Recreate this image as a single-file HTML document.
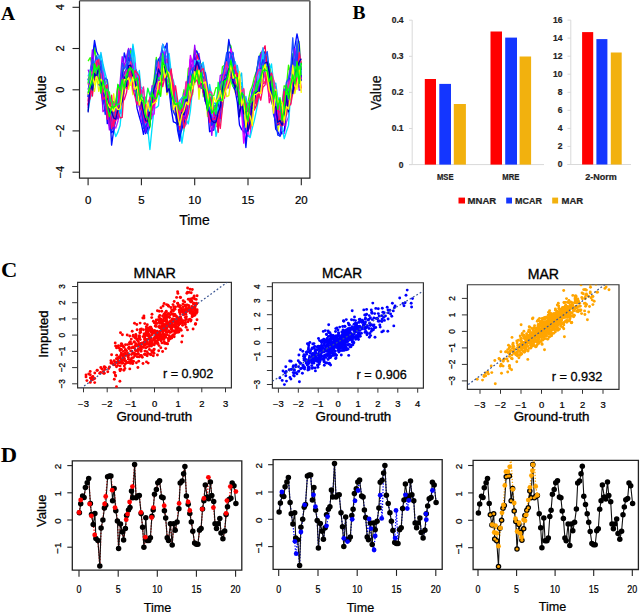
<!DOCTYPE html>
<html><head><meta charset="utf-8"><style>html,body{margin:0;padding:0;background:#fff;width:640px;height:613px;overflow:hidden}svg{display:block}</style></head>
<body><svg width="640" height="613" viewBox="0 0 640 613">
<rect width="640" height="613" fill="#fff"/>
<text x="1.0" y="19.6" font-family="Liberation Serif" font-size="19.5" font-weight="bold" text-anchor="start" fill="#000">A</text>
<text x="352.5" y="18.6" font-family="Liberation Serif" font-size="19.5" font-weight="bold" text-anchor="start" fill="#000">B</text>
<g transform="translate(1.0 276.9) scale(1.1 1)"><text x="0.0" y="0.0" font-family="Liberation Serif" font-size="20.5" font-weight="bold" text-anchor="start" fill="#000">C</text></g>
<g transform="translate(0.8 461.7) scale(1.1 1)"><text x="0.0" y="0.0" font-family="Liberation Serif" font-size="20.5" font-weight="bold" text-anchor="start" fill="#000">D</text></g>
<path d="M309.9 0.8V178.2H79.5V0.8" fill="none" stroke="#222" stroke-width="1.2"/>
<path d="M79.5 0.7H309.9" fill="none" stroke="#666" stroke-width="1.4"/>
<path d="M72.5 7.3H79.5" stroke="#222" stroke-width="1.1"/>
<text x="64.0" y="7.3" font-family="Liberation Sans" font-size="11" font-weight="normal" text-anchor="middle" fill="#000" transform="rotate(-90 64.0 7.3)" stroke="#000" stroke-width="0.22">4</text>
<path d="M72.5 48.5H79.5" stroke="#222" stroke-width="1.1"/>
<text x="64.0" y="48.5" font-family="Liberation Sans" font-size="11" font-weight="normal" text-anchor="middle" fill="#000" transform="rotate(-90 64.0 48.5)" stroke="#000" stroke-width="0.22">2</text>
<path d="M72.5 89.8H79.5" stroke="#222" stroke-width="1.1"/>
<text x="64.0" y="89.8" font-family="Liberation Sans" font-size="11" font-weight="normal" text-anchor="middle" fill="#000" transform="rotate(-90 64.0 89.8)" stroke="#000" stroke-width="0.22">0</text>
<path d="M72.5 130.9H79.5" stroke="#222" stroke-width="1.1"/>
<text x="64.0" y="130.9" font-family="Liberation Sans" font-size="11" font-weight="normal" text-anchor="middle" fill="#000" transform="rotate(-90 64.0 130.9)" stroke="#000" stroke-width="0.22">&#8722;2</text>
<path d="M72.5 172.2H79.5" stroke="#222" stroke-width="1.1"/>
<text x="64.0" y="172.2" font-family="Liberation Sans" font-size="11" font-weight="normal" text-anchor="middle" fill="#000" transform="rotate(-90 64.0 172.2)" stroke="#000" stroke-width="0.22">&#8722;4</text>
<path d="M88.1 178.2V185.2" stroke="#222" stroke-width="1.1"/>
<text x="88.1" y="203.8" font-family="Liberation Sans" font-size="11.5" font-weight="normal" text-anchor="middle" fill="#000" stroke="#000" stroke-width="0.22">0</text>
<path d="M141.4 178.2V185.2" stroke="#222" stroke-width="1.1"/>
<text x="141.4" y="203.8" font-family="Liberation Sans" font-size="11.5" font-weight="normal" text-anchor="middle" fill="#000" stroke="#000" stroke-width="0.22">5</text>
<path d="M194.7 178.2V185.2" stroke="#222" stroke-width="1.1"/>
<text x="194.7" y="203.8" font-family="Liberation Sans" font-size="11.5" font-weight="normal" text-anchor="middle" fill="#000" stroke="#000" stroke-width="0.22">10</text>
<path d="M248.0 178.2V185.2" stroke="#222" stroke-width="1.1"/>
<text x="248.0" y="203.8" font-family="Liberation Sans" font-size="11.5" font-weight="normal" text-anchor="middle" fill="#000" stroke="#000" stroke-width="0.22">15</text>
<path d="M301.3 178.2V185.2" stroke="#222" stroke-width="1.1"/>
<text x="301.3" y="203.8" font-family="Liberation Sans" font-size="11.5" font-weight="normal" text-anchor="middle" fill="#000" stroke="#000" stroke-width="0.22">20</text>
<text x="194.5" y="224.6" font-family="Liberation Sans" font-size="14" font-weight="normal" text-anchor="middle" fill="#000" stroke="#000" stroke-width="0.22">Time</text>
<text x="46.0" y="92.8" font-family="Liberation Sans" font-size="14" font-weight="normal" text-anchor="middle" fill="#000" transform="rotate(-90 46.0 92.8)" stroke="#000" stroke-width="0.22">Value</text>
<g fill="none" stroke-width="1.35" stroke-linejoin="round">
<polyline points="88.1,107.8 90.2,89.1 92.4,81.1 94.5,66.3 96.6,80.0 98.8,59.3 100.9,81.4 103.0,72.5 105.2,101.7 107.3,108.8 109.4,121.6 111.6,124.0 113.7,125.3 115.8,128.1 117.9,121.3 120.1,109.3 122.2,99.5 124.3,86.3 126.5,81.1 128.6,67.2 130.7,48.4 132.9,56.1 135.0,85.9 137.1,85.6 139.3,94.5 141.4,111.8 143.5,123.7 145.7,128.3 147.8,126.9 149.9,119.8 152.1,118.2 154.2,101.3 156.3,96.3 158.5,80.7 160.6,74.5 162.7,75.5 164.9,64.3 167.0,63.5 169.1,67.0 171.2,84.4 173.4,83.4 175.5,103.7 177.6,120.8 179.8,133.0 181.9,116.0 184.0,127.2 186.2,124.2 188.3,101.6 190.4,96.7 192.6,76.3 194.7,82.0 196.8,55.5 199.0,53.4 201.1,71.1 203.2,85.6 205.4,88.8 207.5,93.2 209.6,117.9 211.8,125.0 213.9,122.8 216.0,126.9 218.2,124.3 220.3,110.7 222.4,100.3 224.5,92.7 226.7,79.2 228.8,88.1 230.9,59.8 233.1,56.0 235.2,65.8 237.3,84.4 239.5,80.5 241.6,94.7 243.7,122.4 245.9,126.1 248.0,136.4 250.1,135.8 252.3,113.3 254.4,102.9 256.5,103.7 258.7,87.8 260.8,72.5 262.9,68.4 265.1,52.0 267.2,61.8 269.3,70.6 271.5,95.3 273.6,86.9 275.7,124.7 277.8,119.4 280.0,119.8 282.1,133.7 284.2,133.6 286.4,122.0 288.5,117.0 290.6,86.5 292.8,80.7 294.9,79.9 297.0,50.9 299.2,63.5 301.3,63.5" stroke="#c020ff"/>
<polyline points="88.1,93.4 90.2,92.6 92.4,71.6 94.5,81.1 96.6,58.0 98.8,69.6 100.9,73.8 103.0,76.9 105.2,83.9 107.3,79.7 109.4,100.3 111.6,119.5 113.7,110.0 115.8,118.6 117.9,109.7 120.1,103.1 122.2,91.6 124.3,75.7 126.5,77.1 128.6,74.9 130.7,73.4 132.9,75.4 135.0,78.3 137.1,79.9 139.3,88.1 141.4,90.6 143.5,119.4 145.7,103.8 147.8,108.7 149.9,127.6 152.1,96.4 154.2,98.0 156.3,101.1 158.5,80.7 160.6,85.2 162.7,72.0 164.9,62.3 167.0,62.4 169.1,68.9 171.2,84.8 173.4,107.1 175.5,103.5 177.6,103.0 179.8,104.9 181.9,112.5 184.0,117.1 186.2,106.1 188.3,104.4 190.4,89.1 192.6,94.8 194.7,75.3 196.8,63.5 199.0,75.7 201.1,63.6 203.2,96.6 205.4,80.5 207.5,101.9 209.6,102.6 211.8,104.4 213.9,107.0 216.0,126.0 218.2,106.2 220.3,114.8 222.4,93.4 224.5,89.0 226.7,77.1 228.8,81.0 230.9,70.8 233.1,77.3 235.2,73.4 237.3,74.3 239.5,83.0 241.6,96.3 243.7,93.6 245.9,104.2 248.0,103.7 250.1,108.8 252.3,108.6 254.4,96.2 256.5,83.9 258.7,86.4 260.8,75.2 262.9,77.6 265.1,59.4 267.2,74.3 269.3,89.2 271.5,75.2 273.6,99.1 275.7,86.4 277.8,108.5 280.0,119.0 282.1,121.1 284.2,105.7 286.4,108.8 288.5,92.9 290.6,98.4 292.8,76.6 294.9,75.2 297.0,69.6 299.2,41.5 301.3,80.6" stroke="#80ff00"/>
<polyline points="88.1,105.3 90.2,95.8 92.4,85.8 94.5,91.3 96.6,76.5 98.8,91.3 100.9,83.0 103.0,100.0 105.2,102.4 107.3,106.6 109.4,113.3 111.6,108.4 113.7,93.8 115.8,112.4 117.9,111.9 120.1,101.4 122.2,92.4 124.3,93.8 126.5,65.6 128.6,89.3 130.7,79.0 132.9,94.7 135.0,84.1 137.1,84.6 139.3,106.0 141.4,106.2 143.5,117.8 145.7,104.8 147.8,110.6 149.9,110.8 152.1,107.3 154.2,93.9 156.3,98.1 158.5,87.5 160.6,95.5 162.7,80.8 164.9,78.4 167.0,94.8 169.1,85.9 171.2,105.7 173.4,110.7 175.5,114.2 177.6,110.0 179.8,117.7 181.9,104.3 184.0,131.0 186.2,107.5 188.3,88.1 190.4,98.0 192.6,76.2 194.7,84.7 196.8,59.7 199.0,99.3 201.1,78.1 203.2,81.7 205.4,89.8 207.5,116.5 209.6,102.2 211.8,131.6 213.9,115.6 216.0,103.5 218.2,101.3 220.3,98.7 222.4,92.2 224.5,86.0 226.7,96.6 228.8,95.6 230.9,80.0 233.1,84.8 235.2,92.7 237.3,95.9 239.5,97.3 241.6,108.2 243.7,118.9 245.9,114.3 248.0,116.6 250.1,115.3 252.3,105.2 254.4,107.8 256.5,94.5 258.7,87.4 260.8,83.0 262.9,82.0 265.1,81.5 267.2,81.8 269.3,76.6 271.5,87.1 273.6,107.3 275.7,107.7 277.8,131.6 280.0,120.9 282.1,117.5 284.2,107.1 286.4,104.4 288.5,90.8 290.6,93.2 292.8,84.7 294.9,93.5 297.0,82.1 299.2,87.5 301.3,79.6" stroke="#e0ff00"/>
<polyline points="88.1,89.6 90.2,81.8 92.4,64.5 94.5,45.3 96.6,68.9 98.8,84.7 100.9,85.6 103.0,92.1 105.2,95.5 107.3,123.6 109.4,112.5 111.6,132.7 113.7,130.3 115.8,117.6 117.9,108.4 120.1,96.9 122.2,96.4 124.3,80.1 126.5,78.8 128.6,63.2 130.7,73.7 132.9,72.9 135.0,89.7 137.1,108.4 139.3,116.5 141.4,123.8 143.5,134.3 145.7,124.0 147.8,133.5 149.9,124.6 152.1,106.5 154.2,103.1 156.3,81.9 158.5,76.1 160.6,65.1 162.7,65.2 164.9,68.4 167.0,84.4 169.1,89.3 171.2,108.6 173.4,121.9 175.5,122.7 177.6,124.7 179.8,137.1 181.9,129.3 184.0,120.9 186.2,103.5 188.3,98.1 190.4,80.5 192.6,73.7 194.7,56.2 196.8,61.7 199.0,76.2 201.1,80.7 203.2,87.7 205.4,96.2 207.5,105.8 209.6,131.7 211.8,130.4 213.9,130.0 216.0,107.8 218.2,101.4 220.3,105.2 222.4,91.7 224.5,81.5 226.7,76.5 228.8,62.5 230.9,73.2 233.1,85.9 235.2,90.4 237.3,102.4 239.5,125.0 241.6,129.4 243.7,131.7 245.9,142.6 248.0,119.0 250.1,111.9 252.3,114.7 254.4,92.5 256.5,85.6 258.7,91.6 260.8,71.4 262.9,55.5 265.1,69.8 267.2,80.3 269.3,82.9 271.5,95.6 273.6,107.1 275.7,129.2 277.8,131.8 280.0,136.2 282.1,131.6 284.2,130.9 286.4,112.1 288.5,95.1 290.6,103.8 292.8,58.1 294.9,60.2 297.0,56.3 299.2,59.7 301.3,79.0" stroke="#0000ff"/>
<polyline points="88.1,61.1 90.2,57.6 92.4,65.9 94.5,47.8 96.6,60.3 98.8,56.5 100.9,70.8 103.0,71.2 105.2,90.3 107.3,97.9 109.4,92.0 111.6,120.1 113.7,101.5 115.8,109.3 117.9,95.5 120.1,100.5 122.2,77.7 124.3,63.8 126.5,66.4 128.6,53.8 130.7,50.8 132.9,67.0 135.0,74.3 137.1,80.9 139.3,90.5 141.4,96.8 143.5,106.5 145.7,97.2 147.8,104.7 149.9,98.6 152.1,90.7 154.2,78.0 156.3,57.5 158.5,67.4 160.6,59.6 162.7,58.3 164.9,60.2 167.0,59.8 169.1,69.6 171.2,81.9 173.4,88.1 175.5,93.9 177.6,105.0 179.8,112.7 181.9,101.0 184.0,89.8 186.2,96.2 188.3,68.5 190.4,66.9 192.6,64.3 194.7,48.5 196.8,52.6 199.0,58.3 201.1,66.6 203.2,83.4 205.4,84.7 207.5,101.3 209.6,87.7 211.8,96.0 213.9,95.3 216.0,87.6 218.2,87.9 220.3,92.3 222.4,66.8 224.5,65.3 226.7,57.7 228.8,43.8 230.9,45.9 233.1,60.4 235.2,71.6 237.3,76.8 239.5,100.5 241.6,97.5 243.7,89.6 245.9,113.1 248.0,102.1 250.1,91.6 252.3,86.1 254.4,77.2 256.5,71.5 258.7,60.0 260.8,52.4 262.9,56.2 265.1,51.6 267.2,60.2 269.3,64.3 271.5,75.7 273.6,80.6 275.7,93.2 277.8,104.2 280.0,103.2 282.1,103.2 284.2,85.8 286.4,86.9 288.5,65.2 290.6,73.3 292.8,53.7 294.9,71.9 297.0,47.4 299.2,55.1 301.3,65.0" stroke="#30ff00"/>
<polyline points="88.1,110.9 90.2,98.0 92.4,93.8 94.5,71.0 96.6,67.1 98.8,55.2 100.9,59.4 103.0,65.7 105.2,87.2 107.3,95.2 109.4,103.5 111.6,114.0 113.7,129.3 115.8,136.5 117.9,132.1 120.1,125.5 122.2,103.2 124.3,85.5 126.5,85.2 128.6,72.2 130.7,81.8 132.9,44.2 135.0,57.8 137.1,87.7 139.3,70.5 141.4,93.2 143.5,107.5 145.7,130.2 147.8,129.2 149.9,149.5 152.1,127.2 154.2,108.2 156.3,107.7 158.5,105.7 160.6,73.4 162.7,80.4 164.9,59.2 167.0,55.9 169.1,53.5 171.2,72.9 173.4,81.8 175.5,111.2 177.6,110.5 179.8,124.1 181.9,143.1 184.0,129.3 186.2,119.9 188.3,123.9 190.4,110.4 192.6,88.8 194.7,77.6 196.8,61.0 199.0,71.0 201.1,65.6 203.2,62.2 205.4,88.3 207.5,101.9 209.6,97.4 211.8,117.0 213.9,111.7 216.0,136.4 218.2,127.3 220.3,121.1 222.4,108.2 224.5,93.7 226.7,80.0 228.8,82.5 230.9,60.0 233.1,67.9 235.2,71.2 237.3,72.7 239.5,85.3 241.6,82.8 243.7,96.4 245.9,122.4 248.0,135.3 250.1,137.6 252.3,128.1 254.4,120.1 256.5,110.0 258.7,98.3 260.8,88.5 262.9,78.0 265.1,55.1 267.2,54.6 269.3,70.5 271.5,64.0 273.6,82.8 275.7,110.2 277.8,109.2 280.0,111.4 282.1,126.3 284.2,138.7 286.4,131.6 288.5,125.4 290.6,94.4 292.8,88.9 294.9,76.3 297.0,61.4 299.2,66.0 301.3,66.4" stroke="#00e0ff"/>
<polyline points="88.1,79.9 90.2,73.9 92.4,59.7 94.5,40.5 96.6,51.4 98.8,56.6 100.9,66.0 103.0,90.5 105.2,104.0 107.3,108.8 109.4,104.2 111.6,145.1 113.7,130.4 115.8,115.7 117.9,101.4 120.1,85.7 122.2,78.7 124.3,52.9 126.5,61.2 128.6,49.2 130.7,60.5 132.9,68.2 135.0,68.1 137.1,72.8 139.3,106.8 141.4,109.3 143.5,122.1 145.7,133.5 147.8,127.5 149.9,104.4 152.1,97.9 154.2,82.2 156.3,69.2 158.5,59.4 160.6,56.7 162.7,44.3 164.9,48.5 167.0,43.1 169.1,73.2 171.2,96.7 173.4,99.9 175.5,107.1 177.6,130.3 179.8,141.2 181.9,114.9 184.0,124.5 186.2,107.2 188.3,85.4 190.4,59.1 192.6,62.6 194.7,53.4 196.8,50.9 199.0,57.2 201.1,66.3 203.2,91.5 205.4,101.6 207.5,102.3 209.6,119.0 211.8,119.7 213.9,125.3 216.0,120.8 218.2,111.2 220.3,97.7 222.4,78.0 224.5,66.9 226.7,60.3 228.8,39.5 230.9,51.0 233.1,53.7 235.2,73.0 237.3,75.5 239.5,99.9 241.6,110.0 243.7,125.5 245.9,147.5 248.0,123.6 250.1,127.7 252.3,97.9 254.4,91.9 256.5,72.3 258.7,59.0 260.8,54.5 262.9,51.0 265.1,53.3 267.2,63.7 269.3,71.1 271.5,90.3 273.6,91.4 275.7,112.2 277.8,125.1 280.0,122.9 282.1,119.4 284.2,115.5 286.4,105.6 288.5,89.0 290.6,70.0 292.8,57.7 294.9,46.5 297.0,33.9 299.2,44.7 301.3,80.7" stroke="#0010ff"/>
<polyline points="88.1,101.5 90.2,73.4 92.4,96.0 94.5,73.1 96.6,64.8 98.8,62.4 100.9,83.4 103.0,75.0 105.2,82.1 107.3,92.7 109.4,125.5 111.6,115.7 113.7,116.4 115.8,109.5 117.9,107.5 120.1,89.7 122.2,92.8 124.3,90.7 126.5,72.0 128.6,69.7 130.7,55.8 132.9,72.0 135.0,76.2 137.1,86.5 139.3,90.6 141.4,107.6 143.5,97.2 145.7,113.5 147.8,125.2 149.9,116.7 152.1,107.8 154.2,83.7 156.3,86.0 158.5,81.5 160.6,84.9 162.7,65.8 164.9,60.1 167.0,59.0 169.1,80.6 171.2,82.6 173.4,94.8 175.5,101.0 177.6,105.9 179.8,120.5 181.9,119.6 184.0,119.9 186.2,113.2 188.3,88.9 190.4,68.4 192.6,69.1 194.7,79.3 196.8,55.0 199.0,61.1 201.1,67.9 203.2,69.3 205.4,78.9 207.5,94.7 209.6,94.3 211.8,111.2 213.9,109.0 216.0,107.8 218.2,132.3 220.3,98.2 222.4,85.5 224.5,85.1 226.7,76.9 228.8,69.9 230.9,61.9 233.1,57.6 235.2,78.2 237.3,70.1 239.5,86.7 241.6,86.7 243.7,105.9 245.9,98.7 248.0,113.8 250.1,116.6 252.3,112.7 254.4,109.7 256.5,105.2 258.7,95.6 260.8,59.2 262.9,50.5 265.1,45.8 267.2,72.1 269.3,66.7 271.5,89.2 273.6,101.6 275.7,108.2 277.8,124.0 280.0,104.9 282.1,123.3 284.2,112.6 286.4,109.4 288.5,96.9 290.6,92.4 292.8,81.8 294.9,70.9 297.0,65.9 299.2,59.9 301.3,70.0" stroke="#ff0050"/>
<polyline points="88.1,69.6 90.2,76.1 92.4,49.9 94.5,66.4 96.6,59.4 98.8,76.2 100.9,77.8 103.0,111.6 105.2,109.2 107.3,109.8 109.4,129.9 111.6,112.0 113.7,126.1 115.8,101.3 117.9,107.4 120.1,82.7 122.2,56.6 124.3,67.0 126.5,56.9 128.6,48.5 130.7,69.1 132.9,71.7 135.0,90.1 137.1,96.2 139.3,106.4 141.4,121.2 143.5,125.1 145.7,115.6 147.8,110.2 149.9,109.5 152.1,85.9 154.2,85.2 156.3,74.0 158.5,76.7 160.6,73.4 162.7,76.3 164.9,69.7 167.0,91.6 169.1,84.2 171.2,94.5 173.4,103.9 175.5,107.3 177.6,122.1 179.8,116.9 181.9,106.5 184.0,93.3 186.2,100.4 188.3,83.4 190.4,59.7 192.6,73.5 194.7,45.2 196.8,64.2 199.0,62.1 201.1,75.9 203.2,83.9 205.4,101.0 207.5,109.6 209.6,116.3 211.8,135.4 213.9,110.5 216.0,107.5 218.2,98.5 220.3,75.3 222.4,74.7 224.5,85.1 226.7,62.0 228.8,66.7 230.9,65.1 233.1,74.3 235.2,79.1 237.3,89.1 239.5,97.1 241.6,105.5 243.7,125.2 245.9,118.2 248.0,103.1 250.1,104.0 252.3,89.7 254.4,100.1 256.5,76.4 258.7,72.1 260.8,55.2 262.9,49.0 265.1,61.7 267.2,84.6 269.3,89.5 271.5,94.7 273.6,104.7 275.7,103.9 277.8,117.7 280.0,114.4 282.1,107.0 284.2,89.1 286.4,102.5 288.5,78.4 290.6,66.8 292.8,72.5 294.9,48.4 297.0,65.4 299.2,90.2 301.3,89.9" stroke="#a000ff"/>
<polyline points="88.1,76.4 90.2,69.4 92.4,67.8 94.5,69.1 96.6,62.3 98.8,55.2 100.9,73.7 103.0,65.3 105.2,85.1 107.3,84.4 109.4,103.7 111.6,109.0 113.7,118.3 115.8,109.6 117.9,94.4 120.1,93.1 122.2,83.6 124.3,79.3 126.5,66.8 128.6,64.0 130.7,59.6 132.9,60.5 135.0,80.0 137.1,72.6 139.3,85.7 141.4,87.5 143.5,88.9 145.7,106.4 147.8,121.7 149.9,98.2 152.1,88.4 154.2,92.5 156.3,82.1 158.5,82.3 160.6,64.5 162.7,44.1 164.9,50.6 167.0,73.1 169.1,58.5 171.2,80.2 173.4,87.0 175.5,103.7 177.6,107.0 179.8,100.3 181.9,97.6 184.0,96.0 186.2,95.1 188.3,111.2 190.4,75.0 192.6,81.1 194.7,60.3 196.8,63.7 199.0,60.5 201.1,75.0 203.2,63.1 205.4,75.2 207.5,88.5 209.6,103.9 211.8,111.9 213.9,107.5 216.0,105.0 218.2,99.4 220.3,112.8 222.4,92.8 224.5,71.9 226.7,66.8 228.8,71.6 230.9,54.9 233.1,72.2 235.2,61.6 237.3,70.9 239.5,74.9 241.6,92.4 243.7,102.9 245.9,111.6 248.0,112.2 250.1,124.1 252.3,112.9 254.4,94.3 256.5,86.1 258.7,69.2 260.8,71.5 262.9,47.7 265.1,70.1 267.2,65.0 269.3,75.5 271.5,76.3 273.6,88.4 275.7,98.9 277.8,97.4 280.0,104.7 282.1,104.8 284.2,104.6 286.4,92.7 288.5,97.9 290.6,78.4 292.8,85.5 294.9,64.6 297.0,59.2 299.2,52.1 301.3,74.9" stroke="#20b0ff"/>
<polyline points="88.1,105.9 90.2,78.5 92.4,70.9 94.5,65.8 96.6,70.1 98.8,68.8 100.9,67.9 103.0,73.1 105.2,98.9 107.3,101.2 109.4,113.9 111.6,119.6 113.7,128.4 115.8,107.7 117.9,109.7 120.1,113.1 122.2,83.5 124.3,72.7 126.5,83.1 128.6,68.3 130.7,60.5 132.9,68.4 135.0,63.1 137.1,84.7 139.3,91.0 141.4,90.0 143.5,119.2 145.7,104.0 147.8,126.3 149.9,116.8 152.1,115.4 154.2,113.9 156.3,82.9 158.5,76.5 160.6,53.7 162.7,59.3 164.9,51.8 167.0,68.7 169.1,70.9 171.2,96.3 173.4,99.8 175.5,105.7 177.6,103.7 179.8,117.1 181.9,99.8 184.0,117.8 186.2,113.6 188.3,81.6 190.4,55.4 192.6,63.7 194.7,73.2 196.8,71.7 199.0,60.0 201.1,76.0 203.2,77.0 205.4,82.1 207.5,96.7 209.6,96.5 211.8,125.8 213.9,112.8 216.0,118.3 218.2,112.0 220.3,99.7 222.4,94.3 224.5,74.5 226.7,82.5 228.8,68.7 230.9,48.6 233.1,58.5 235.2,85.4 237.3,88.0 239.5,99.8 241.6,111.0 243.7,143.1 245.9,126.4 248.0,134.3 250.1,111.7 252.3,102.6 254.4,92.6 256.5,94.6 258.7,81.0 260.8,61.1 262.9,70.1 265.1,61.7 267.2,80.5 269.3,80.4 271.5,83.8 273.6,94.0 275.7,119.9 277.8,110.7 280.0,114.9 282.1,116.5 284.2,117.2 286.4,106.4 288.5,96.2 290.6,90.6 292.8,75.2 294.9,80.6 297.0,74.7 299.2,66.1 301.3,74.9" stroke="#e000ff"/>
<polyline points="88.1,97.0 90.2,76.4 92.4,67.8 94.5,61.8 96.6,74.5 98.8,71.6 100.9,90.8 103.0,104.1 105.2,93.3 107.3,112.9 109.4,104.7 111.6,120.0 113.7,129.9 115.8,113.4 117.9,118.9 120.1,99.4 122.2,95.9 124.3,72.5 126.5,69.3 128.6,65.2 130.7,61.1 132.9,72.9 135.0,90.1 137.1,97.3 139.3,105.1 141.4,105.4 143.5,120.3 145.7,132.1 147.8,119.0 149.9,108.8 152.1,104.2 154.2,88.9 156.3,88.3 158.5,77.8 160.6,71.4 162.7,56.2 164.9,63.8 167.0,73.7 169.1,78.0 171.2,92.4 173.4,107.3 175.5,109.1 177.6,119.9 179.8,123.6 181.9,123.2 184.0,117.0 186.2,119.1 188.3,97.7 190.4,76.2 192.6,82.3 194.7,72.4 196.8,64.2 199.0,67.6 201.1,79.2 203.2,80.7 205.4,101.5 207.5,101.2 209.6,110.7 211.8,117.0 213.9,128.0 216.0,114.0 218.2,115.9 220.3,118.6 222.4,90.2 224.5,87.1 226.7,75.6 228.8,76.6 230.9,68.1 233.1,76.5 235.2,86.6 237.3,81.0 239.5,102.2 241.6,104.2 243.7,114.5 245.9,113.5 248.0,123.7 250.1,105.3 252.3,113.8 254.4,93.7 256.5,82.2 258.7,92.8 260.8,69.5 262.9,65.1 265.1,68.6 267.2,77.8 269.3,76.5 271.5,95.5 273.6,102.2 275.7,114.6 277.8,118.6 280.0,113.4 282.1,121.0 284.2,125.5 286.4,104.3 288.5,101.9 290.6,95.3 292.8,87.0 294.9,72.4 297.0,57.1 299.2,70.4 301.3,78.9" stroke="#7000ff"/>
<polyline points="88.1,91.8 90.2,86.7 92.4,87.8 94.5,61.2 96.6,70.4 98.8,76.9 100.9,52.5 103.0,64.1 105.2,73.3 107.3,81.6 109.4,105.1 111.6,111.0 113.7,124.3 115.8,116.7 117.9,107.3 120.1,113.8 122.2,89.7 124.3,87.2 126.5,83.2 128.6,65.9 130.7,59.9 132.9,46.2 135.0,70.7 137.1,71.9 139.3,81.1 141.4,97.5 143.5,105.6 145.7,108.1 147.8,110.2 149.9,112.1 152.1,90.5 154.2,86.0 156.3,84.0 158.5,87.4 160.6,72.9 162.7,78.7 164.9,64.2 167.0,63.8 169.1,73.0 171.2,79.0 173.4,80.4 175.5,94.1 177.6,111.3 179.8,100.5 181.9,117.8 184.0,95.3 186.2,103.8 188.3,85.7 190.4,72.3 192.6,85.8 194.7,70.0 196.8,61.8 199.0,60.4 201.1,69.8 203.2,83.7 205.4,74.0 207.5,98.6 209.6,84.4 211.8,96.1 213.9,103.3 216.0,103.2 218.2,111.8 220.3,100.1 222.4,99.0 224.5,87.8 226.7,76.5 228.8,71.9 230.9,55.4 233.1,67.3 235.2,68.9 237.3,65.4 239.5,78.1 241.6,73.0 243.7,103.5 245.9,96.5 248.0,111.1 250.1,114.1 252.3,109.9 254.4,90.3 256.5,86.9 258.7,84.4 260.8,64.6 262.9,55.7 265.1,71.5 267.2,63.8 269.3,69.1 271.5,79.2 273.6,84.1 275.7,83.1 277.8,98.6 280.0,117.4 282.1,116.5 284.2,105.9 286.4,115.1 288.5,101.1 290.6,91.0 292.8,86.8 294.9,80.8 297.0,73.3 299.2,60.5 301.3,64.2" stroke="#00c8ff"/>
<polyline points="88.1,78.6 90.2,88.4 92.4,77.3 94.5,66.8 96.6,59.2 98.8,73.1 100.9,66.1 103.0,94.7 105.2,114.5 107.3,98.6 109.4,114.0 111.6,130.8 113.7,125.5 115.8,111.6 117.9,113.3 120.1,94.7 122.2,87.9 124.3,74.0 126.5,72.4 128.6,57.3 130.7,63.4 132.9,77.0 135.0,78.6 137.1,87.6 139.3,99.3 141.4,109.0 143.5,128.9 145.7,126.3 147.8,121.8 149.9,109.9 152.1,93.2 154.2,93.8 156.3,85.5 158.5,64.4 160.6,58.4 162.7,61.9 164.9,59.2 167.0,80.3 169.1,91.1 171.2,101.1 173.4,111.9 175.5,115.9 177.6,126.7 179.8,132.8 181.9,125.4 184.0,99.2 186.2,108.8 188.3,76.1 190.4,81.7 192.6,70.9 194.7,65.9 196.8,64.0 199.0,62.7 201.1,88.1 203.2,88.4 205.4,97.6 207.5,109.1 209.6,109.5 211.8,125.4 213.9,122.1 216.0,107.4 218.2,103.9 220.3,110.3 222.4,93.9 224.5,74.4 226.7,75.7 228.8,51.9 230.9,53.3 233.1,63.2 235.2,85.6 237.3,95.6 239.5,99.8 241.6,91.2 243.7,117.9 245.9,133.0 248.0,128.7 250.1,106.6 252.3,108.4 254.4,107.1 256.5,72.1 258.7,70.0 260.8,68.5 262.9,59.7 265.1,66.7 267.2,67.2 269.3,86.0 271.5,85.3 273.6,114.9 275.7,121.0 277.8,135.1 280.0,135.8 282.1,116.7 284.2,106.8 286.4,99.8 288.5,90.1 290.6,99.8 292.8,69.9 294.9,60.5 297.0,52.8 299.2,64.0 301.3,70.0" stroke="#1030ff"/>
<polyline points="88.1,97.0 90.2,75.3 92.4,59.5 94.5,66.5 96.6,56.0 98.8,67.9 100.9,61.0 103.0,85.1 105.2,78.0 107.3,80.0 109.4,107.5 111.6,107.4 113.7,114.0 115.8,104.5 117.9,88.0 120.1,99.5 122.2,63.1 124.3,68.9 126.5,65.4 128.6,50.1 130.7,58.3 132.9,69.1 135.0,75.8 137.1,82.0 139.3,77.8 141.4,99.8 143.5,97.8 145.7,118.3 147.8,105.1 149.9,98.8 152.1,89.0 154.2,88.7 156.3,60.0 158.5,69.5 160.6,56.7 162.7,50.3 164.9,59.5 167.0,44.7 169.1,75.8 171.2,74.6 173.4,94.6 175.5,111.3 177.6,102.2 179.8,107.9 181.9,109.1 184.0,115.0 186.2,82.4 188.3,88.9 190.4,70.7 192.6,68.3 194.7,67.1 196.8,63.3 199.0,62.9 201.1,70.4 203.2,79.7 205.4,72.5 207.5,85.2 209.6,111.3 211.8,97.2 213.9,106.6 216.0,105.3 218.2,90.6 220.3,82.7 222.4,78.9 224.5,66.2 226.7,52.8 228.8,65.4 230.9,55.8 233.1,52.5 235.2,80.1 237.3,85.6 239.5,85.8 241.6,91.5 243.7,108.9 245.9,110.7 248.0,111.0 250.1,103.7 252.3,90.8 254.4,82.8 256.5,76.4 258.7,56.3 260.8,64.6 262.9,68.3 265.1,56.3 267.2,51.5 269.3,71.4 271.5,79.9 273.6,91.9 275.7,93.1 277.8,108.2 280.0,107.7 282.1,112.3 284.2,98.0 286.4,82.4 288.5,78.6 290.6,70.3 292.8,37.8 294.9,76.2 297.0,41.0 299.2,68.0 301.3,66.8" stroke="#2050ff"/>
<polyline points="88.1,84.7 90.2,71.2 92.4,73.8 94.5,66.2 96.6,60.3 98.8,84.2 100.9,73.7 103.0,92.0 105.2,90.1 107.3,101.7 109.4,104.0 111.6,100.6 113.7,106.5 115.8,101.9 117.9,85.2 120.1,105.1 122.2,80.7 124.3,77.0 126.5,70.4 128.6,69.5 130.7,61.8 132.9,74.5 135.0,74.8 137.1,87.8 139.3,95.4 141.4,97.4 143.5,87.0 145.7,112.3 147.8,106.9 149.9,97.3 152.1,102.1 154.2,90.8 156.3,87.9 158.5,61.9 160.6,79.4 162.7,54.8 164.9,70.8 167.0,84.2 169.1,77.2 171.2,71.9 173.4,83.8 175.5,111.5 177.6,101.0 179.8,109.9 181.9,113.6 184.0,98.8 186.2,81.4 188.3,97.7 190.4,75.8 192.6,84.7 194.7,73.2 196.8,70.3 199.0,71.9 201.1,77.3 203.2,79.4 205.4,89.1 207.5,97.8 209.6,91.2 211.8,92.8 213.9,110.1 216.0,111.2 218.2,89.9 220.3,90.1 222.4,81.2 224.5,72.4 226.7,62.0 228.8,76.1 230.9,67.1 233.1,69.3 235.2,64.9 237.3,95.5 239.5,85.7 241.6,92.1 243.7,88.5 245.9,111.5 248.0,119.5 250.1,97.6 252.3,105.7 254.4,85.6 256.5,75.5 258.7,69.5 260.8,69.8 262.9,83.4 265.1,72.5 267.2,83.6 269.3,96.5 271.5,72.9 273.6,80.0 275.7,90.4 277.8,103.0 280.0,109.8 282.1,106.4 284.2,125.3 286.4,97.8 288.5,85.8 290.6,79.0 292.8,79.3 294.9,66.9 297.0,69.3 299.2,71.2 301.3,79.3" stroke="#ff20a0"/>
<polyline points="88.1,105.0 90.2,95.0 92.4,84.7 94.5,79.5 96.6,62.7 98.8,59.3 100.9,89.5 103.0,88.6 105.2,86.9 107.3,84.7 109.4,116.4 111.6,95.2 113.7,126.5 115.8,111.0 117.9,111.0 120.1,118.1 122.2,117.4 124.3,85.8 126.5,88.3 128.6,83.5 130.7,73.3 132.9,80.5 135.0,70.5 137.1,73.2 139.3,76.5 141.4,109.8 143.5,100.8 145.7,106.6 147.8,117.9 149.9,123.9 152.1,103.8 154.2,105.0 156.3,97.4 158.5,93.6 160.6,76.9 162.7,80.6 164.9,70.5 167.0,76.1 169.1,77.5 171.2,69.0 173.4,96.9 175.5,85.8 177.6,100.2 179.8,129.6 181.9,109.1 184.0,128.1 186.2,119.6 188.3,113.5 190.4,100.5 192.6,92.2 194.7,68.5 196.8,65.4 199.0,83.6 201.1,70.5 203.2,68.5 205.4,80.7 207.5,92.1 209.6,97.5 211.8,100.7 213.9,115.6 216.0,117.7 218.2,118.2 220.3,128.4 222.4,108.0 224.5,88.2 226.7,88.7 228.8,83.2 230.9,77.3 233.1,67.8 235.2,66.9 237.3,85.5 239.5,98.1 241.6,99.7 243.7,105.8 245.9,103.0 248.0,121.1 250.1,129.0 252.3,117.7 254.4,104.1 256.5,101.0 258.7,93.5 260.8,100.2 262.9,87.2 265.1,84.9 267.2,66.8 269.3,75.3 271.5,73.6 273.6,92.5 275.7,90.3 277.8,103.8 280.0,124.8 282.1,126.0 284.2,91.4 286.4,115.2 288.5,100.8 290.6,105.0 292.8,93.1 294.9,87.3 297.0,77.6 299.2,52.4 301.3,63.5" stroke="#ff1060"/>
<polyline points="88.1,104.5 90.2,97.8 92.4,80.5 94.5,79.8 96.6,79.3 98.8,77.7 100.9,81.9 103.0,99.3 105.2,96.9 107.3,119.2 109.4,103.8 111.6,128.5 113.7,118.3 115.8,121.0 117.9,109.3 120.1,88.6 122.2,94.0 124.3,99.7 126.5,92.6 128.6,78.9 130.7,65.6 132.9,89.0 135.0,96.6 137.1,104.9 139.3,90.6 141.4,103.5 143.5,116.0 145.7,122.8 147.8,115.7 149.9,110.8 152.1,110.4 154.2,100.9 156.3,97.1 158.5,86.6 160.6,79.3 162.7,86.5 164.9,77.1 167.0,82.5 169.1,81.5 171.2,91.7 173.4,85.2 175.5,105.6 177.6,118.7 179.8,121.7 181.9,112.1 184.0,108.0 186.2,109.4 188.3,99.8 190.4,89.3 192.6,84.4 194.7,82.3 196.8,79.5 199.0,87.6 201.1,81.4 203.2,92.5 205.4,95.8 207.5,105.2 209.6,122.4 211.8,118.4 213.9,119.5 216.0,118.7 218.2,123.3 220.3,105.7 222.4,97.8 224.5,98.1 226.7,80.4 228.8,70.5 230.9,72.3 233.1,80.7 235.2,83.7 237.3,89.5 239.5,78.3 241.6,105.4 243.7,109.1 245.9,104.5 248.0,108.5 250.1,121.3 252.3,98.4 254.4,103.7 256.5,97.6 258.7,92.2 260.8,91.4 262.9,83.9 265.1,82.5 267.2,75.6 269.3,102.7 271.5,94.6 273.6,101.3 275.7,110.0 277.8,110.9 280.0,112.2 282.1,123.4 284.2,114.0 286.4,108.6 288.5,105.9 290.6,92.1 292.8,80.6 294.9,82.5 297.0,77.8 299.2,74.7 301.3,88.7" stroke="#ff0080"/>
<polyline points="88.1,83.4 90.2,70.9 92.4,90.0 94.5,65.2 96.6,73.9 98.8,82.8 100.9,85.8 103.0,82.6 105.2,91.9 107.3,88.9 109.4,95.2 111.6,102.2 113.7,109.7 115.8,106.7 117.9,104.3 120.1,103.7 122.2,85.7 124.3,79.7 126.5,74.5 128.6,70.2 130.7,69.4 132.9,69.9 135.0,81.3 137.1,100.7 139.3,101.3 141.4,94.2 143.5,104.9 145.7,102.8 147.8,88.1 149.9,95.3 152.1,97.4 154.2,84.9 156.3,74.9 158.5,78.9 160.6,77.4 162.7,53.7 164.9,77.9 167.0,79.9 169.1,90.8 171.2,89.9 173.4,97.8 175.5,106.0 177.6,103.0 179.8,102.9 181.9,107.6 184.0,96.6 186.2,98.4 188.3,87.6 190.4,88.9 192.6,76.4 194.7,76.4 196.8,72.8 199.0,70.0 201.1,77.5 203.2,86.8 205.4,91.5 207.5,104.9 209.6,94.2 211.8,95.6 213.9,105.3 216.0,114.0 218.2,82.3 220.3,97.3 222.4,81.6 224.5,82.8 226.7,78.1 228.8,76.8 230.9,81.2 233.1,86.8 235.2,84.8 237.3,90.6 239.5,93.6 241.6,103.1 243.7,109.5 245.9,113.6 248.0,105.7 250.1,100.7 252.3,103.0 254.4,95.5 256.5,83.8 258.7,80.3 260.8,81.3 262.9,65.7 265.1,70.0 267.2,66.8 269.3,85.1 271.5,83.9 273.6,91.6 275.7,94.0 277.8,101.1 280.0,102.2 282.1,101.9 284.2,111.6 286.4,92.6 288.5,89.9 290.6,84.8 292.8,79.0 294.9,66.7 297.0,77.2 299.2,66.4 301.3,75.0" stroke="#00ff40"/>
<polyline points="88.1,112.4 90.2,83.0 92.4,90.0 94.5,73.7 96.6,76.7 98.8,67.0 100.9,86.5 103.0,81.1 105.2,95.9 107.3,99.4 109.4,112.9 111.6,111.8 113.7,118.0 115.8,119.2 117.9,109.7 120.1,106.6 122.2,101.5 124.3,76.9 126.5,86.4 128.6,65.6 130.7,65.2 132.9,77.1 135.0,81.4 137.1,91.1 139.3,102.7 141.4,102.0 143.5,112.0 145.7,120.8 147.8,121.1 149.9,108.7 152.1,101.9 154.2,87.8 156.3,81.6 158.5,68.9 160.6,74.6 162.7,69.5 164.9,65.6 167.0,92.1 169.1,88.5 171.2,96.9 173.4,103.8 175.5,105.9 177.6,124.8 179.8,121.0 181.9,112.4 184.0,114.8 186.2,99.9 188.3,100.7 190.4,86.9 192.6,86.9 194.7,72.3 196.8,61.1 199.0,67.1 201.1,79.9 203.2,87.6 205.4,99.9 207.5,108.3 209.6,112.7 211.8,120.9 213.9,122.6 216.0,122.2 218.2,112.3 220.3,106.8 222.4,89.0 224.5,80.0 226.7,78.4 228.8,68.7 230.9,69.5 233.1,81.2 235.2,87.8 237.3,82.0 239.5,116.8 241.6,101.1 243.7,113.5 245.9,111.6 248.0,131.2 250.1,121.9 252.3,103.2 254.4,99.9 256.5,90.9 258.7,92.5 260.8,85.1 262.9,76.9 265.1,63.2 267.2,62.1 269.3,72.0 271.5,101.3 273.6,108.5 275.7,106.4 277.8,122.4 280.0,120.3 282.1,125.2 284.2,118.9 286.4,95.6 288.5,111.8 290.6,87.5 292.8,93.6 294.9,74.6 297.0,67.1 299.2,62.0 301.3,58.7" stroke="#0000c0"/>
<polyline points="88.1,94.3 90.2,84.7 92.4,76.2 94.5,84.7 96.6,76.5 98.8,83.6 100.9,79.2 103.0,81.8 105.2,93.6 107.3,102.8 109.4,107.2 111.6,108.5 113.7,111.2 115.8,105.8 117.9,109.6 120.1,108.9 122.2,94.1 124.3,79.4 126.5,80.0 128.6,77.7 130.7,85.4 132.9,77.0 135.0,89.5 137.1,86.2 139.3,105.1 141.4,97.9 143.5,101.7 145.7,115.5 147.8,102.2 149.9,111.0 152.1,104.3 154.2,103.0 156.3,101.4 158.5,81.9 160.6,81.5 162.7,64.3 164.9,77.9 167.0,71.0 169.1,73.2 171.2,83.0 173.4,109.6 175.5,103.0 177.6,113.7 179.8,125.4 181.9,114.5 184.0,110.9 186.2,102.2 188.3,104.7 190.4,83.6 192.6,88.8 194.7,71.7 196.8,79.0 199.0,70.2 201.1,81.9 203.2,83.4 205.4,81.9 207.5,93.4 209.6,105.1 211.8,109.9 213.9,97.1 216.0,102.0 218.2,97.8 220.3,90.6 222.4,101.2 224.5,93.9 226.7,87.2 228.8,80.7 230.9,63.9 233.1,78.4 235.2,74.8 237.3,85.9 239.5,71.5 241.6,105.7 243.7,98.0 245.9,127.2 248.0,112.5 250.1,116.1 252.3,125.6 254.4,94.8 256.5,94.1 258.7,92.3 260.8,93.5 262.9,71.8 265.1,64.1 267.2,76.1 269.3,90.1 271.5,95.9 273.6,113.1 275.7,89.5 277.8,102.9 280.0,99.5 282.1,102.9 284.2,122.6 286.4,106.4 288.5,109.1 290.6,95.6 292.8,65.2 294.9,85.5 297.0,89.4 299.2,70.2 301.3,92.9" stroke="#ffff00"/>
<polyline points="88.1,93.0 90.2,86.1 92.4,79.5 94.5,63.6 96.6,69.7 98.8,65.6 100.9,93.1 103.0,80.5 105.2,91.1 107.3,105.6 109.4,116.5 111.6,106.5 113.7,107.2 115.8,106.0 117.9,84.3 120.1,90.4 122.2,79.6 124.3,88.8 126.5,78.7 128.6,69.2 130.7,67.6 132.9,72.6 135.0,80.6 137.1,78.0 139.3,95.3 141.4,100.1 143.5,100.7 145.7,117.0 147.8,117.1 149.9,126.1 152.1,92.6 154.2,98.3 156.3,98.8 158.5,90.4 160.6,96.4 162.7,62.5 164.9,65.3 167.0,72.0 169.1,79.8 171.2,92.8 173.4,100.9 175.5,104.5 177.6,103.7 179.8,110.1 181.9,105.7 184.0,98.3 186.2,96.3 188.3,84.0 190.4,90.6 192.6,74.2 194.7,82.1 196.8,70.3 199.0,84.1 201.1,72.6 203.2,88.5 205.4,89.6 207.5,110.8 209.6,98.2 211.8,113.3 213.9,109.8 216.0,108.8 218.2,100.5 220.3,100.6 222.4,100.0 224.5,80.8 226.7,79.6 228.8,71.5 230.9,60.3 233.1,72.6 235.2,77.9 237.3,77.8 239.5,104.1 241.6,92.9 243.7,95.1 245.9,110.6 248.0,121.1 250.1,101.0 252.3,96.6 254.4,91.7 256.5,91.2 258.7,81.9 260.8,76.8 262.9,70.4 265.1,70.0 267.2,70.9 269.3,81.5 271.5,76.1 273.6,99.4 275.7,91.3 277.8,109.4 280.0,97.7 282.1,120.7 284.2,109.9 286.4,85.0 288.5,98.4 290.6,85.5 292.8,74.8 294.9,83.8 297.0,61.4 299.2,83.6 301.3,62.9" stroke="#00ff00"/>
</g>
<path d="M412.2 20.1V164.6" stroke="#d9d9d9" stroke-width="1"/>
<path d="M409 164.6H544" stroke="#d9d9d9" stroke-width="1"/>
<path d="M409 164.6H412.2" stroke="#d9d9d9" stroke-width="1"/>
<text x="403.5" y="167.5" font-family="Liberation Sans" font-size="8.5" font-weight="bold" text-anchor="end" fill="#222" stroke="#222" stroke-width="0.2">0</text>
<path d="M409 128.5H412.2" stroke="#d9d9d9" stroke-width="1"/>
<text x="403.5" y="131.4" font-family="Liberation Sans" font-size="8.5" font-weight="bold" text-anchor="end" fill="#222" stroke="#222" stroke-width="0.2">0.1</text>
<path d="M409 92.4H412.2" stroke="#d9d9d9" stroke-width="1"/>
<text x="403.5" y="95.3" font-family="Liberation Sans" font-size="8.5" font-weight="bold" text-anchor="end" fill="#222" stroke="#222" stroke-width="0.2">0.2</text>
<path d="M409 56.3H412.2" stroke="#d9d9d9" stroke-width="1"/>
<text x="403.5" y="59.2" font-family="Liberation Sans" font-size="8.5" font-weight="bold" text-anchor="end" fill="#222" stroke="#222" stroke-width="0.2">0.3</text>
<path d="M409 20.2H412.2" stroke="#d9d9d9" stroke-width="1"/>
<text x="403.5" y="23.1" font-family="Liberation Sans" font-size="8.5" font-weight="bold" text-anchor="end" fill="#222" stroke="#222" stroke-width="0.2">0.4</text>
<rect x="424.8" y="79.0" width="11.2" height="85.6" fill="#ff0000"/>
<rect x="439.3" y="83.9" width="11.7" height="80.7" fill="#1436ff"/>
<rect x="453.8" y="104.0" width="12.1" height="60.6" fill="#f2b10e"/>
<rect x="490.5" y="31.5" width="11.5" height="133.1" fill="#ff0000"/>
<rect x="505.2" y="37.6" width="11.8" height="127.0" fill="#1436ff"/>
<rect x="519.6" y="56.5" width="11.5" height="108.1" fill="#f2b10e"/>
<text x="445.2" y="179.7" font-family="Liberation Sans" font-size="8.5" font-weight="bold" text-anchor="middle" fill="#222" textLength="16.6" lengthAdjust="spacingAndGlyphs" stroke="#222" stroke-width="0.2">MSE</text>
<text x="510.8" y="179.7" font-family="Liberation Sans" font-size="8.5" font-weight="bold" text-anchor="middle" fill="#222" textLength="17.1" lengthAdjust="spacingAndGlyphs" stroke="#222" stroke-width="0.2">MRE</text>
<path d="M570.8 20.1V164.5" stroke="#d9d9d9" stroke-width="1"/>
<path d="M567.5 164.5H631" stroke="#d9d9d9" stroke-width="1"/>
<path d="M567.5 164.5H570.8" stroke="#d9d9d9" stroke-width="1"/>
<text x="562.5" y="167.4" font-family="Liberation Sans" font-size="8.5" font-weight="bold" text-anchor="end" fill="#222" stroke="#222" stroke-width="0.2">0</text>
<path d="M567.5 146.4H570.8" stroke="#d9d9d9" stroke-width="1"/>
<text x="562.5" y="149.3" font-family="Liberation Sans" font-size="8.5" font-weight="bold" text-anchor="end" fill="#222" stroke="#222" stroke-width="0.2">2</text>
<path d="M567.5 128.4H570.8" stroke="#d9d9d9" stroke-width="1"/>
<text x="562.5" y="131.3" font-family="Liberation Sans" font-size="8.5" font-weight="bold" text-anchor="end" fill="#222" stroke="#222" stroke-width="0.2">4</text>
<path d="M567.5 110.3H570.8" stroke="#d9d9d9" stroke-width="1"/>
<text x="562.5" y="113.2" font-family="Liberation Sans" font-size="8.5" font-weight="bold" text-anchor="end" fill="#222" stroke="#222" stroke-width="0.2">6</text>
<path d="M567.5 92.3H570.8" stroke="#d9d9d9" stroke-width="1"/>
<text x="562.5" y="95.2" font-family="Liberation Sans" font-size="8.5" font-weight="bold" text-anchor="end" fill="#222" stroke="#222" stroke-width="0.2">8</text>
<path d="M567.5 74.2H570.8" stroke="#d9d9d9" stroke-width="1"/>
<text x="562.5" y="77.2" font-family="Liberation Sans" font-size="8.5" font-weight="bold" text-anchor="end" fill="#222" stroke="#222" stroke-width="0.2">10</text>
<path d="M567.5 56.2H570.8" stroke="#d9d9d9" stroke-width="1"/>
<text x="562.5" y="59.1" font-family="Liberation Sans" font-size="8.5" font-weight="bold" text-anchor="end" fill="#222" stroke="#222" stroke-width="0.2">12</text>
<path d="M567.5 38.1H570.8" stroke="#d9d9d9" stroke-width="1"/>
<text x="562.5" y="41.0" font-family="Liberation Sans" font-size="8.5" font-weight="bold" text-anchor="end" fill="#222" stroke="#222" stroke-width="0.2">14</text>
<path d="M567.5 20.1H570.8" stroke="#d9d9d9" stroke-width="1"/>
<text x="562.5" y="23.0" font-family="Liberation Sans" font-size="8.5" font-weight="bold" text-anchor="end" fill="#222" stroke="#222" stroke-width="0.2">16</text>
<rect x="582.1" y="32.1" width="11.1" height="132.4" fill="#ff0000"/>
<rect x="596.4" y="39.1" width="11.0" height="125.4" fill="#1436ff"/>
<rect x="610.8" y="52.5" width="10.9" height="112.0" fill="#f2b10e"/>
<text x="601.0" y="179.6" font-family="Liberation Sans" font-size="9" font-weight="bold" text-anchor="middle" fill="#222" textLength="31.6" lengthAdjust="spacingAndGlyphs" stroke="#222" stroke-width="0.2">2-Norm</text>
<text x="380.6" y="92.9" font-family="Liberation Sans" font-size="14" font-weight="normal" text-anchor="middle" fill="#111" transform="rotate(-90 380.6 92.9)" stroke="#111" stroke-width="0.22">Value</text>
<rect x="458.5" y="197.6" width="6.5" height="5.9" fill="#ff0000"/>
<text x="467.5" y="203.5" font-family="Liberation Sans" font-size="9" font-weight="bold" text-anchor="start" fill="#222" textLength="28.7" lengthAdjust="spacingAndGlyphs" stroke="#222" stroke-width="0.2">MNAR</text>
<rect x="506.2" y="197.6" width="5.8" height="5.9" fill="#1436ff"/>
<text x="515.0" y="203.5" font-family="Liberation Sans" font-size="9" font-weight="bold" text-anchor="start" fill="#222" textLength="26.9" lengthAdjust="spacingAndGlyphs" stroke="#222" stroke-width="0.2">MCAR</text>
<rect x="552.2" y="197.6" width="5.9" height="5.9" fill="#f2b10e"/>
<text x="561.5" y="203.5" font-family="Liberation Sans" font-size="9" font-weight="bold" text-anchor="start" fill="#222" textLength="21.6" lengthAdjust="spacingAndGlyphs" stroke="#222" stroke-width="0.2">MAR</text>
<path d="M77.6 282.45H231.4V387.8H77.6Z" fill="none" stroke="#333" stroke-width="1.2"/>
<path d="M72.1 286.5H77.6" stroke="#333" stroke-width="1"/>
<g transform="translate(62.0 286.5) rotate(-90) scale(1 1.14)"><text x="0.0" y="0.0" font-family="Liberation Sans" font-size="8.3" font-weight="normal" text-anchor="middle" fill="#000" dominant-baseline="central" stroke="#000" stroke-width="0.22">3</text></g>
<path d="M72.1 302.7H77.6" stroke="#333" stroke-width="1"/>
<g transform="translate(62.0 302.7) rotate(-90) scale(1 1.14)"><text x="0.0" y="0.0" font-family="Liberation Sans" font-size="8.3" font-weight="normal" text-anchor="middle" fill="#000" dominant-baseline="central" stroke="#000" stroke-width="0.22">2</text></g>
<path d="M72.1 318.9H77.6" stroke="#333" stroke-width="1"/>
<g transform="translate(62.0 318.9) rotate(-90) scale(1 1.14)"><text x="0.0" y="0.0" font-family="Liberation Sans" font-size="8.3" font-weight="normal" text-anchor="middle" fill="#000" dominant-baseline="central" stroke="#000" stroke-width="0.22">1</text></g>
<path d="M72.1 335.1H77.6" stroke="#333" stroke-width="1"/>
<g transform="translate(62.0 335.1) rotate(-90) scale(1 1.14)"><text x="0.0" y="0.0" font-family="Liberation Sans" font-size="8.3" font-weight="normal" text-anchor="middle" fill="#000" dominant-baseline="central" stroke="#000" stroke-width="0.22">0</text></g>
<path d="M72.1 351.4H77.6" stroke="#333" stroke-width="1"/>
<g transform="translate(62.0 351.4) rotate(-90) scale(1 1.14)"><text x="0.0" y="0.0" font-family="Liberation Sans" font-size="8.3" font-weight="normal" text-anchor="middle" fill="#000" dominant-baseline="central" stroke="#000" stroke-width="0.22">&#8722;1</text></g>
<path d="M72.1 367.6H77.6" stroke="#333" stroke-width="1"/>
<g transform="translate(62.0 367.6) rotate(-90) scale(1 1.14)"><text x="0.0" y="0.0" font-family="Liberation Sans" font-size="8.3" font-weight="normal" text-anchor="middle" fill="#000" dominant-baseline="central" stroke="#000" stroke-width="0.22">&#8722;2</text></g>
<path d="M72.1 383.8H77.6" stroke="#333" stroke-width="1"/>
<g transform="translate(62.0 383.8) rotate(-90) scale(1 1.14)"><text x="0.0" y="0.0" font-family="Liberation Sans" font-size="8.3" font-weight="normal" text-anchor="middle" fill="#000" dominant-baseline="central" stroke="#000" stroke-width="0.22">&#8722;3</text></g>
<path d="M83.5 387.8V392.3" stroke="#333" stroke-width="1"/>
<g transform="translate(83.5 406.5) scale(1.14 1)"><text x="0.0" y="0.0" font-family="Liberation Sans" font-size="8.3" font-weight="normal" text-anchor="middle" fill="#000" stroke="#000" stroke-width="0.22">&#8722;3</text></g>
<path d="M107.2 387.8V392.3" stroke="#333" stroke-width="1"/>
<g transform="translate(107.2 406.5) scale(1.14 1)"><text x="0.0" y="0.0" font-family="Liberation Sans" font-size="8.3" font-weight="normal" text-anchor="middle" fill="#000" stroke="#000" stroke-width="0.22">&#8722;2</text></g>
<path d="M130.8 387.8V392.3" stroke="#333" stroke-width="1"/>
<g transform="translate(130.8 406.5) scale(1.14 1)"><text x="0.0" y="0.0" font-family="Liberation Sans" font-size="8.3" font-weight="normal" text-anchor="middle" fill="#000" stroke="#000" stroke-width="0.22">&#8722;1</text></g>
<path d="M154.5 387.8V392.3" stroke="#333" stroke-width="1"/>
<g transform="translate(154.5 406.5) scale(1.14 1)"><text x="0.0" y="0.0" font-family="Liberation Sans" font-size="8.3" font-weight="normal" text-anchor="middle" fill="#000" stroke="#000" stroke-width="0.22">0</text></g>
<path d="M178.2 387.8V392.3" stroke="#333" stroke-width="1"/>
<g transform="translate(178.2 406.5) scale(1.14 1)"><text x="0.0" y="0.0" font-family="Liberation Sans" font-size="8.3" font-weight="normal" text-anchor="middle" fill="#000" stroke="#000" stroke-width="0.22">1</text></g>
<path d="M201.8 387.8V392.3" stroke="#333" stroke-width="1"/>
<g transform="translate(201.8 406.5) scale(1.14 1)"><text x="0.0" y="0.0" font-family="Liberation Sans" font-size="8.3" font-weight="normal" text-anchor="middle" fill="#000" stroke="#000" stroke-width="0.22">2</text></g>
<path d="M225.5 387.8V392.3" stroke="#333" stroke-width="1"/>
<g transform="translate(225.5 406.5) scale(1.14 1)"><text x="0.0" y="0.0" font-family="Liberation Sans" font-size="8.3" font-weight="normal" text-anchor="middle" fill="#000" stroke="#000" stroke-width="0.22">3</text></g>
<clipPath id="c77"><rect x="77.6" y="282.45" width="153.8" height="105.35000000000002"/></clipPath>
<g clip-path="url(#c77)">
<g fill="#ff0000">
<circle cx="104.4" cy="366.7" r="1.45"/>
<circle cx="108.8" cy="368.5" r="1.45"/>
<circle cx="94.7" cy="378.5" r="1.45"/>
<circle cx="86.0" cy="375.0" r="1.45"/>
<circle cx="109.4" cy="366.9" r="1.45"/>
<circle cx="94.8" cy="373.0" r="1.45"/>
<circle cx="93.4" cy="379.2" r="1.45"/>
<circle cx="100.8" cy="367.5" r="1.45"/>
<circle cx="115.3" cy="362.3" r="1.45"/>
<circle cx="104.3" cy="373.2" r="1.45"/>
<circle cx="92.2" cy="377.2" r="1.45"/>
<circle cx="104.0" cy="367.1" r="1.45"/>
<circle cx="86.9" cy="380.6" r="1.45"/>
<circle cx="99.7" cy="373.3" r="1.45"/>
<circle cx="104.5" cy="367.4" r="1.45"/>
<circle cx="100.6" cy="372.5" r="1.45"/>
<circle cx="91.5" cy="380.0" r="1.45"/>
<circle cx="91.8" cy="379.8" r="1.45"/>
<circle cx="86.0" cy="376.9" r="1.45"/>
<circle cx="90.4" cy="377.9" r="1.45"/>
<circle cx="111.9" cy="362.5" r="1.45"/>
<circle cx="110.9" cy="363.1" r="1.45"/>
<circle cx="107.8" cy="371.8" r="1.45"/>
<circle cx="101.9" cy="369.1" r="1.45"/>
<circle cx="111.6" cy="354.8" r="1.45"/>
<circle cx="103.6" cy="373.3" r="1.45"/>
<circle cx="97.3" cy="370.4" r="1.45"/>
<circle cx="90.3" cy="374.8" r="1.45"/>
<circle cx="97.1" cy="370.2" r="1.45"/>
<circle cx="103.3" cy="371.4" r="1.45"/>
<circle cx="104.7" cy="369.5" r="1.45"/>
<circle cx="90.3" cy="382.4" r="1.45"/>
<circle cx="92.9" cy="376.5" r="1.45"/>
<circle cx="88.7" cy="374.0" r="1.45"/>
<circle cx="92.2" cy="379.5" r="1.45"/>
<circle cx="94.7" cy="382.6" r="1.45"/>
<circle cx="105.5" cy="367.6" r="1.45"/>
<circle cx="110.9" cy="360.7" r="1.45"/>
<circle cx="112.6" cy="363.8" r="1.45"/>
<circle cx="90.2" cy="371.5" r="1.45"/>
<circle cx="162.0" cy="325.8" r="1.45"/>
<circle cx="163.5" cy="339.0" r="1.45"/>
<circle cx="148.0" cy="328.0" r="1.45"/>
<circle cx="186.8" cy="304.9" r="1.45"/>
<circle cx="140.6" cy="344.7" r="1.45"/>
<circle cx="144.8" cy="338.3" r="1.45"/>
<circle cx="194.4" cy="308.9" r="1.45"/>
<circle cx="157.4" cy="310.7" r="1.45"/>
<circle cx="163.0" cy="326.6" r="1.45"/>
<circle cx="157.0" cy="334.8" r="1.45"/>
<circle cx="173.7" cy="330.9" r="1.45"/>
<circle cx="176.5" cy="329.1" r="1.45"/>
<circle cx="148.7" cy="329.4" r="1.45"/>
<circle cx="166.2" cy="332.0" r="1.45"/>
<circle cx="174.3" cy="331.5" r="1.45"/>
<circle cx="144.0" cy="333.9" r="1.45"/>
<circle cx="192.8" cy="315.3" r="1.45"/>
<circle cx="136.4" cy="362.7" r="1.45"/>
<circle cx="195.5" cy="305.8" r="1.45"/>
<circle cx="188.5" cy="319.7" r="1.45"/>
<circle cx="149.3" cy="338.9" r="1.45"/>
<circle cx="190.7" cy="321.1" r="1.45"/>
<circle cx="157.1" cy="323.4" r="1.45"/>
<circle cx="180.9" cy="318.8" r="1.45"/>
<circle cx="166.4" cy="329.7" r="1.45"/>
<circle cx="130.7" cy="359.7" r="1.45"/>
<circle cx="190.1" cy="319.3" r="1.45"/>
<circle cx="164.1" cy="314.1" r="1.45"/>
<circle cx="168.7" cy="330.6" r="1.45"/>
<circle cx="176.8" cy="318.9" r="1.45"/>
<circle cx="129.1" cy="348.5" r="1.45"/>
<circle cx="177.4" cy="328.9" r="1.45"/>
<circle cx="185.3" cy="317.4" r="1.45"/>
<circle cx="165.9" cy="330.8" r="1.45"/>
<circle cx="175.3" cy="322.6" r="1.45"/>
<circle cx="134.8" cy="337.4" r="1.45"/>
<circle cx="161.0" cy="335.4" r="1.45"/>
<circle cx="127.6" cy="344.6" r="1.45"/>
<circle cx="139.7" cy="337.7" r="1.45"/>
<circle cx="181.4" cy="319.7" r="1.45"/>
<circle cx="129.7" cy="344.1" r="1.45"/>
<circle cx="180.6" cy="297.6" r="1.45"/>
<circle cx="150.1" cy="354.3" r="1.45"/>
<circle cx="123.2" cy="357.3" r="1.45"/>
<circle cx="143.0" cy="363.5" r="1.45"/>
<circle cx="167.0" cy="328.1" r="1.45"/>
<circle cx="154.1" cy="349.7" r="1.45"/>
<circle cx="164.6" cy="343.4" r="1.45"/>
<circle cx="166.4" cy="322.1" r="1.45"/>
<circle cx="157.0" cy="342.6" r="1.45"/>
<circle cx="169.1" cy="331.8" r="1.45"/>
<circle cx="168.0" cy="305.2" r="1.45"/>
<circle cx="192.5" cy="308.2" r="1.45"/>
<circle cx="151.8" cy="341.1" r="1.45"/>
<circle cx="145.5" cy="340.4" r="1.45"/>
<circle cx="183.0" cy="314.4" r="1.45"/>
<circle cx="158.7" cy="350.8" r="1.45"/>
<circle cx="141.3" cy="349.4" r="1.45"/>
<circle cx="176.5" cy="330.2" r="1.45"/>
<circle cx="120.2" cy="357.8" r="1.45"/>
<circle cx="124.9" cy="355.6" r="1.45"/>
<circle cx="189.3" cy="307.5" r="1.45"/>
<circle cx="183.2" cy="320.7" r="1.45"/>
<circle cx="150.0" cy="339.2" r="1.45"/>
<circle cx="173.0" cy="304.6" r="1.45"/>
<circle cx="159.8" cy="323.4" r="1.45"/>
<circle cx="144.7" cy="339.3" r="1.45"/>
<circle cx="176.9" cy="329.0" r="1.45"/>
<circle cx="158.5" cy="320.2" r="1.45"/>
<circle cx="166.3" cy="311.3" r="1.45"/>
<circle cx="160.8" cy="347.8" r="1.45"/>
<circle cx="180.0" cy="307.4" r="1.45"/>
<circle cx="167.9" cy="322.9" r="1.45"/>
<circle cx="177.1" cy="317.9" r="1.45"/>
<circle cx="174.2" cy="321.0" r="1.45"/>
<circle cx="116.6" cy="346.4" r="1.45"/>
<circle cx="146.1" cy="344.1" r="1.45"/>
<circle cx="165.4" cy="318.3" r="1.45"/>
<circle cx="163.1" cy="330.6" r="1.45"/>
<circle cx="143.7" cy="344.7" r="1.45"/>
<circle cx="178.9" cy="324.6" r="1.45"/>
<circle cx="121.4" cy="343.6" r="1.45"/>
<circle cx="128.5" cy="359.2" r="1.45"/>
<circle cx="176.3" cy="328.6" r="1.45"/>
<circle cx="195.0" cy="308.0" r="1.45"/>
<circle cx="153.2" cy="332.5" r="1.45"/>
<circle cx="139.8" cy="332.8" r="1.45"/>
<circle cx="118.5" cy="345.7" r="1.45"/>
<circle cx="174.2" cy="301.5" r="1.45"/>
<circle cx="132.7" cy="363.5" r="1.45"/>
<circle cx="124.0" cy="347.2" r="1.45"/>
<circle cx="154.2" cy="339.8" r="1.45"/>
<circle cx="135.9" cy="345.9" r="1.45"/>
<circle cx="156.8" cy="333.4" r="1.45"/>
<circle cx="146.7" cy="335.3" r="1.45"/>
<circle cx="174.7" cy="319.5" r="1.45"/>
<circle cx="195.4" cy="324.2" r="1.45"/>
<circle cx="194.6" cy="298.9" r="1.45"/>
<circle cx="155.2" cy="337.8" r="1.45"/>
<circle cx="140.1" cy="323.1" r="1.45"/>
<circle cx="133.5" cy="361.2" r="1.45"/>
<circle cx="163.8" cy="339.2" r="1.45"/>
<circle cx="150.0" cy="327.1" r="1.45"/>
<circle cx="175.1" cy="324.5" r="1.45"/>
<circle cx="176.8" cy="322.4" r="1.45"/>
<circle cx="147.9" cy="353.5" r="1.45"/>
<circle cx="163.6" cy="326.0" r="1.45"/>
<circle cx="194.2" cy="313.7" r="1.45"/>
<circle cx="171.9" cy="325.8" r="1.45"/>
<circle cx="169.3" cy="335.8" r="1.45"/>
<circle cx="148.4" cy="334.6" r="1.45"/>
<circle cx="185.5" cy="306.5" r="1.45"/>
<circle cx="159.8" cy="333.8" r="1.45"/>
<circle cx="174.4" cy="322.0" r="1.45"/>
<circle cx="157.1" cy="331.2" r="1.45"/>
<circle cx="160.9" cy="320.5" r="1.45"/>
<circle cx="160.7" cy="326.9" r="1.45"/>
<circle cx="159.2" cy="335.7" r="1.45"/>
<circle cx="159.7" cy="339.0" r="1.45"/>
<circle cx="132.3" cy="363.2" r="1.45"/>
<circle cx="178.9" cy="332.0" r="1.45"/>
<circle cx="157.1" cy="342.3" r="1.45"/>
<circle cx="159.0" cy="316.9" r="1.45"/>
<circle cx="171.8" cy="324.4" r="1.45"/>
<circle cx="160.3" cy="332.0" r="1.45"/>
<circle cx="165.7" cy="337.2" r="1.45"/>
<circle cx="167.1" cy="316.3" r="1.45"/>
<circle cx="165.8" cy="343.3" r="1.45"/>
<circle cx="151.0" cy="354.8" r="1.45"/>
<circle cx="146.3" cy="329.8" r="1.45"/>
<circle cx="160.3" cy="337.8" r="1.45"/>
<circle cx="162.4" cy="336.8" r="1.45"/>
<circle cx="138.2" cy="353.8" r="1.45"/>
<circle cx="197.0" cy="319.8" r="1.45"/>
<circle cx="144.8" cy="323.6" r="1.45"/>
<circle cx="169.8" cy="324.0" r="1.45"/>
<circle cx="187.5" cy="292.3" r="1.45"/>
<circle cx="119.9" cy="369.4" r="1.45"/>
<circle cx="148.8" cy="330.8" r="1.45"/>
<circle cx="146.6" cy="343.8" r="1.45"/>
<circle cx="144.9" cy="336.5" r="1.45"/>
<circle cx="140.2" cy="355.5" r="1.45"/>
<circle cx="144.9" cy="351.1" r="1.45"/>
<circle cx="178.0" cy="321.7" r="1.45"/>
<circle cx="134.3" cy="353.0" r="1.45"/>
<circle cx="166.9" cy="326.7" r="1.45"/>
<circle cx="157.5" cy="332.9" r="1.45"/>
<circle cx="193.9" cy="307.6" r="1.45"/>
<circle cx="135.1" cy="354.5" r="1.45"/>
<circle cx="178.1" cy="327.8" r="1.45"/>
<circle cx="125.2" cy="353.3" r="1.45"/>
<circle cx="156.0" cy="342.8" r="1.45"/>
<circle cx="165.5" cy="324.5" r="1.45"/>
<circle cx="147.0" cy="339.4" r="1.45"/>
<circle cx="154.6" cy="337.5" r="1.45"/>
<circle cx="167.1" cy="324.1" r="1.45"/>
<circle cx="128.3" cy="357.2" r="1.45"/>
<circle cx="162.5" cy="334.3" r="1.45"/>
<circle cx="153.3" cy="333.2" r="1.45"/>
<circle cx="127.4" cy="355.6" r="1.45"/>
<circle cx="174.2" cy="336.7" r="1.45"/>
<circle cx="148.6" cy="336.2" r="1.45"/>
<circle cx="190.8" cy="311.1" r="1.45"/>
<circle cx="117.9" cy="359.0" r="1.45"/>
<circle cx="178.1" cy="306.3" r="1.45"/>
<circle cx="169.7" cy="338.9" r="1.45"/>
<circle cx="116.5" cy="386.7" r="1.45"/>
<circle cx="145.1" cy="354.0" r="1.45"/>
<circle cx="170.3" cy="326.9" r="1.45"/>
<circle cx="191.2" cy="292.7" r="1.45"/>
<circle cx="115.3" cy="375.1" r="1.45"/>
<circle cx="148.9" cy="334.9" r="1.45"/>
<circle cx="180.5" cy="323.5" r="1.45"/>
<circle cx="129.1" cy="347.2" r="1.45"/>
<circle cx="191.1" cy="311.3" r="1.45"/>
<circle cx="152.1" cy="352.4" r="1.45"/>
<circle cx="114.1" cy="360.8" r="1.45"/>
<circle cx="125.7" cy="361.3" r="1.45"/>
<circle cx="131.5" cy="354.5" r="1.45"/>
<circle cx="171.7" cy="328.1" r="1.45"/>
<circle cx="181.7" cy="342.0" r="1.45"/>
<circle cx="116.7" cy="355.2" r="1.45"/>
<circle cx="182.5" cy="311.5" r="1.45"/>
<circle cx="177.5" cy="323.3" r="1.45"/>
<circle cx="151.7" cy="317.6" r="1.45"/>
<circle cx="176.9" cy="316.6" r="1.45"/>
<circle cx="165.9" cy="312.1" r="1.45"/>
<circle cx="146.1" cy="342.7" r="1.45"/>
<circle cx="181.2" cy="330.2" r="1.45"/>
<circle cx="171.1" cy="329.1" r="1.45"/>
<circle cx="181.1" cy="310.7" r="1.45"/>
<circle cx="120.2" cy="349.3" r="1.45"/>
<circle cx="128.2" cy="362.5" r="1.45"/>
<circle cx="131.7" cy="358.0" r="1.45"/>
<circle cx="170.0" cy="332.5" r="1.45"/>
<circle cx="120.0" cy="350.6" r="1.45"/>
<circle cx="160.1" cy="318.8" r="1.45"/>
<circle cx="194.7" cy="305.1" r="1.45"/>
<circle cx="144.5" cy="343.1" r="1.45"/>
<circle cx="135.9" cy="343.7" r="1.45"/>
<circle cx="151.5" cy="350.8" r="1.45"/>
<circle cx="117.3" cy="362.8" r="1.45"/>
<circle cx="120.6" cy="362.3" r="1.45"/>
<circle cx="153.7" cy="338.8" r="1.45"/>
<circle cx="161.4" cy="330.0" r="1.45"/>
<circle cx="180.7" cy="318.0" r="1.45"/>
<circle cx="162.3" cy="339.1" r="1.45"/>
<circle cx="165.4" cy="317.5" r="1.45"/>
<circle cx="159.2" cy="311.3" r="1.45"/>
<circle cx="136.3" cy="336.0" r="1.45"/>
<circle cx="171.0" cy="327.7" r="1.45"/>
<circle cx="181.9" cy="309.4" r="1.45"/>
<circle cx="134.6" cy="356.0" r="1.45"/>
<circle cx="163.6" cy="323.9" r="1.45"/>
<circle cx="129.8" cy="368.9" r="1.45"/>
<circle cx="155.8" cy="336.9" r="1.45"/>
<circle cx="157.4" cy="355.0" r="1.45"/>
<circle cx="125.5" cy="344.7" r="1.45"/>
<circle cx="166.7" cy="343.5" r="1.45"/>
<circle cx="149.2" cy="343.4" r="1.45"/>
<circle cx="186.4" cy="308.4" r="1.45"/>
<circle cx="168.9" cy="325.3" r="1.45"/>
<circle cx="125.4" cy="360.9" r="1.45"/>
<circle cx="131.8" cy="351.3" r="1.45"/>
<circle cx="143.5" cy="329.7" r="1.45"/>
<circle cx="116.6" cy="347.9" r="1.45"/>
<circle cx="165.4" cy="329.7" r="1.45"/>
<circle cx="160.2" cy="331.4" r="1.45"/>
<circle cx="161.0" cy="307.8" r="1.45"/>
<circle cx="125.4" cy="350.4" r="1.45"/>
<circle cx="191.7" cy="309.9" r="1.45"/>
<circle cx="170.2" cy="322.2" r="1.45"/>
<circle cx="156.7" cy="332.3" r="1.45"/>
<circle cx="187.5" cy="329.9" r="1.45"/>
<circle cx="191.9" cy="301.2" r="1.45"/>
<circle cx="186.1" cy="327.2" r="1.45"/>
<circle cx="152.0" cy="342.9" r="1.45"/>
<circle cx="153.3" cy="355.8" r="1.45"/>
<circle cx="181.5" cy="321.5" r="1.45"/>
<circle cx="170.8" cy="307.5" r="1.45"/>
<circle cx="151.5" cy="344.2" r="1.45"/>
<circle cx="149.0" cy="334.4" r="1.45"/>
<circle cx="145.0" cy="342.0" r="1.45"/>
<circle cx="151.1" cy="338.2" r="1.45"/>
<circle cx="125.4" cy="349.4" r="1.45"/>
<circle cx="183.9" cy="309.4" r="1.45"/>
<circle cx="172.2" cy="336.1" r="1.45"/>
<circle cx="139.1" cy="343.7" r="1.45"/>
<circle cx="140.7" cy="343.6" r="1.45"/>
<circle cx="122.7" cy="360.3" r="1.45"/>
<circle cx="156.1" cy="332.6" r="1.45"/>
<circle cx="147.5" cy="346.8" r="1.45"/>
<circle cx="142.8" cy="318.0" r="1.45"/>
<circle cx="126.6" cy="362.9" r="1.45"/>
<circle cx="194.6" cy="310.5" r="1.45"/>
<circle cx="130.5" cy="361.3" r="1.45"/>
<circle cx="164.2" cy="341.7" r="1.45"/>
<circle cx="168.4" cy="326.4" r="1.45"/>
<circle cx="172.3" cy="314.1" r="1.45"/>
<circle cx="114.1" cy="372.4" r="1.45"/>
<circle cx="120.1" cy="370.8" r="1.45"/>
<circle cx="119.7" cy="357.6" r="1.45"/>
<circle cx="159.5" cy="321.9" r="1.45"/>
<circle cx="164.1" cy="303.5" r="1.45"/>
<circle cx="159.2" cy="332.1" r="1.45"/>
<circle cx="140.3" cy="349.7" r="1.45"/>
<circle cx="115.9" cy="362.3" r="1.45"/>
<circle cx="122.2" cy="354.9" r="1.45"/>
<circle cx="150.7" cy="328.9" r="1.45"/>
<circle cx="180.1" cy="313.8" r="1.45"/>
<circle cx="165.3" cy="335.9" r="1.45"/>
<circle cx="162.4" cy="321.7" r="1.45"/>
<circle cx="170.7" cy="325.7" r="1.45"/>
<circle cx="188.0" cy="321.7" r="1.45"/>
<circle cx="171.5" cy="331.8" r="1.45"/>
<circle cx="175.8" cy="329.8" r="1.45"/>
<circle cx="184.7" cy="301.9" r="1.45"/>
<circle cx="185.9" cy="314.2" r="1.45"/>
<circle cx="155.9" cy="332.7" r="1.45"/>
<circle cx="130.4" cy="341.7" r="1.45"/>
<circle cx="186.2" cy="310.0" r="1.45"/>
<circle cx="137.1" cy="340.0" r="1.45"/>
<circle cx="121.8" cy="363.3" r="1.45"/>
<circle cx="179.1" cy="310.1" r="1.45"/>
<circle cx="155.8" cy="323.6" r="1.45"/>
<circle cx="156.3" cy="335.2" r="1.45"/>
<circle cx="146.6" cy="328.7" r="1.45"/>
<circle cx="131.3" cy="339.1" r="1.45"/>
<circle cx="172.0" cy="325.6" r="1.45"/>
<circle cx="195.0" cy="309.6" r="1.45"/>
<circle cx="149.5" cy="344.5" r="1.45"/>
<circle cx="134.8" cy="354.0" r="1.45"/>
<circle cx="145.6" cy="340.8" r="1.45"/>
<circle cx="168.5" cy="313.7" r="1.45"/>
<circle cx="178.9" cy="305.4" r="1.45"/>
<circle cx="185.4" cy="320.4" r="1.45"/>
<circle cx="161.8" cy="311.3" r="1.45"/>
<circle cx="164.0" cy="337.3" r="1.45"/>
<circle cx="181.0" cy="308.4" r="1.45"/>
<circle cx="143.0" cy="336.6" r="1.45"/>
<circle cx="165.7" cy="348.6" r="1.45"/>
<circle cx="194.0" cy="296.9" r="1.45"/>
<circle cx="153.7" cy="331.6" r="1.45"/>
<circle cx="153.4" cy="350.7" r="1.45"/>
<circle cx="173.4" cy="311.1" r="1.45"/>
<circle cx="138.0" cy="346.4" r="1.45"/>
<circle cx="180.5" cy="305.6" r="1.45"/>
<circle cx="114.9" cy="364.7" r="1.45"/>
<circle cx="129.5" cy="342.6" r="1.45"/>
<circle cx="149.6" cy="346.3" r="1.45"/>
<circle cx="137.9" cy="350.7" r="1.45"/>
<circle cx="189.1" cy="292.4" r="1.45"/>
<circle cx="156.9" cy="336.6" r="1.45"/>
<circle cx="155.9" cy="333.2" r="1.45"/>
<circle cx="121.6" cy="360.5" r="1.45"/>
<circle cx="171.6" cy="329.4" r="1.45"/>
<circle cx="163.2" cy="325.7" r="1.45"/>
<circle cx="121.0" cy="369.2" r="1.45"/>
<circle cx="140.3" cy="329.4" r="1.45"/>
<circle cx="175.6" cy="332.8" r="1.45"/>
<circle cx="158.9" cy="332.0" r="1.45"/>
<circle cx="185.8" cy="310.3" r="1.45"/>
<circle cx="123.3" cy="351.4" r="1.45"/>
<circle cx="178.2" cy="318.1" r="1.45"/>
<circle cx="138.2" cy="349.3" r="1.45"/>
<circle cx="178.7" cy="324.9" r="1.45"/>
<circle cx="173.7" cy="319.7" r="1.45"/>
<circle cx="182.6" cy="325.2" r="1.45"/>
<circle cx="190.4" cy="299.0" r="1.45"/>
<circle cx="147.9" cy="330.8" r="1.45"/>
<circle cx="161.0" cy="340.8" r="1.45"/>
<circle cx="119.9" cy="381.3" r="1.45"/>
<circle cx="159.5" cy="326.4" r="1.45"/>
<circle cx="139.2" cy="356.9" r="1.45"/>
<circle cx="182.8" cy="321.6" r="1.45"/>
<circle cx="114.3" cy="379.2" r="1.45"/>
<circle cx="132.2" cy="361.5" r="1.45"/>
<circle cx="138.3" cy="344.7" r="1.45"/>
<circle cx="188.3" cy="299.2" r="1.45"/>
<circle cx="176.3" cy="325.9" r="1.45"/>
<circle cx="156.6" cy="342.1" r="1.45"/>
<circle cx="175.8" cy="316.0" r="1.45"/>
<circle cx="163.1" cy="306.0" r="1.45"/>
<circle cx="177.9" cy="293.4" r="1.45"/>
<circle cx="149.5" cy="336.1" r="1.45"/>
<circle cx="158.6" cy="333.7" r="1.45"/>
<circle cx="176.9" cy="322.4" r="1.45"/>
<circle cx="163.1" cy="329.0" r="1.45"/>
<circle cx="163.8" cy="317.8" r="1.45"/>
<circle cx="181.9" cy="311.4" r="1.45"/>
<circle cx="177.1" cy="321.4" r="1.45"/>
<circle cx="121.0" cy="345.7" r="1.45"/>
<circle cx="155.7" cy="338.6" r="1.45"/>
<circle cx="145.8" cy="347.9" r="1.45"/>
<circle cx="193.1" cy="329.0" r="1.45"/>
<circle cx="164.9" cy="327.6" r="1.45"/>
<circle cx="175.5" cy="332.5" r="1.45"/>
<circle cx="194.1" cy="303.1" r="1.45"/>
<circle cx="183.0" cy="303.9" r="1.45"/>
<circle cx="184.7" cy="311.5" r="1.45"/>
<circle cx="179.3" cy="322.8" r="1.45"/>
<circle cx="167.1" cy="334.8" r="1.45"/>
<circle cx="187.6" cy="288.0" r="1.45"/>
<circle cx="155.3" cy="342.4" r="1.45"/>
<circle cx="167.1" cy="321.3" r="1.45"/>
<circle cx="159.4" cy="339.2" r="1.45"/>
<circle cx="196.2" cy="299.4" r="1.45"/>
<circle cx="190.0" cy="312.8" r="1.45"/>
<circle cx="160.1" cy="336.4" r="1.45"/>
<circle cx="140.5" cy="355.9" r="1.45"/>
<circle cx="173.1" cy="324.6" r="1.45"/>
<circle cx="161.0" cy="337.8" r="1.45"/>
<circle cx="113.8" cy="364.7" r="1.45"/>
<circle cx="164.2" cy="336.0" r="1.45"/>
<circle cx="169.6" cy="317.6" r="1.45"/>
<circle cx="159.3" cy="322.2" r="1.45"/>
<circle cx="122.0" cy="344.5" r="1.45"/>
<circle cx="145.8" cy="332.9" r="1.45"/>
<circle cx="157.3" cy="337.8" r="1.45"/>
<circle cx="197.1" cy="309.7" r="1.45"/>
<circle cx="141.1" cy="344.5" r="1.45"/>
<circle cx="180.4" cy="316.8" r="1.45"/>
<circle cx="154.5" cy="330.7" r="1.45"/>
<circle cx="161.7" cy="323.6" r="1.45"/>
<circle cx="118.0" cy="361.3" r="1.45"/>
<circle cx="154.1" cy="349.1" r="1.45"/>
<circle cx="133.5" cy="347.6" r="1.45"/>
<circle cx="158.2" cy="319.7" r="1.45"/>
<circle cx="156.7" cy="336.3" r="1.45"/>
<circle cx="173.7" cy="309.4" r="1.45"/>
<circle cx="183.2" cy="300.8" r="1.45"/>
<circle cx="144.6" cy="343.1" r="1.45"/>
<circle cx="160.9" cy="321.2" r="1.45"/>
<circle cx="165.0" cy="313.1" r="1.45"/>
<circle cx="146.5" cy="331.4" r="1.45"/>
<circle cx="148.2" cy="363.1" r="1.45"/>
<circle cx="137.2" cy="356.7" r="1.45"/>
<circle cx="150.5" cy="342.3" r="1.45"/>
<circle cx="195.1" cy="309.8" r="1.45"/>
<circle cx="189.0" cy="305.7" r="1.45"/>
<circle cx="150.7" cy="342.1" r="1.45"/>
<circle cx="168.9" cy="316.8" r="1.45"/>
<circle cx="180.1" cy="317.1" r="1.45"/>
<circle cx="156.3" cy="319.9" r="1.45"/>
<circle cx="156.2" cy="326.4" r="1.45"/>
<circle cx="118.9" cy="357.1" r="1.45"/>
<circle cx="158.7" cy="326.7" r="1.45"/>
<circle cx="120.8" cy="354.9" r="1.45"/>
<circle cx="165.2" cy="325.3" r="1.45"/>
<circle cx="174.3" cy="334.4" r="1.45"/>
<circle cx="154.3" cy="322.8" r="1.45"/>
<circle cx="165.7" cy="316.8" r="1.45"/>
<circle cx="163.5" cy="327.4" r="1.45"/>
<circle cx="171.9" cy="322.5" r="1.45"/>
<circle cx="154.5" cy="332.2" r="1.45"/>
<circle cx="166.9" cy="317.5" r="1.45"/>
<circle cx="170.2" cy="338.8" r="1.45"/>
<circle cx="152.1" cy="330.3" r="1.45"/>
<circle cx="155.3" cy="341.4" r="1.45"/>
<circle cx="119.9" cy="356.8" r="1.45"/>
<circle cx="146.3" cy="326.7" r="1.45"/>
<circle cx="124.4" cy="358.5" r="1.45"/>
<circle cx="143.9" cy="316.0" r="1.45"/>
<circle cx="140.3" cy="339.6" r="1.45"/>
<circle cx="185.3" cy="324.5" r="1.45"/>
<circle cx="170.3" cy="314.7" r="1.45"/>
<circle cx="137.8" cy="354.1" r="1.45"/>
<circle cx="167.2" cy="332.4" r="1.45"/>
<circle cx="148.4" cy="343.9" r="1.45"/>
<circle cx="147.2" cy="355.8" r="1.45"/>
<circle cx="132.2" cy="331.2" r="1.45"/>
<circle cx="191.0" cy="299.5" r="1.45"/>
<circle cx="115.6" cy="346.0" r="1.45"/>
<circle cx="180.3" cy="328.9" r="1.45"/>
<circle cx="169.9" cy="337.0" r="1.45"/>
<circle cx="147.4" cy="334.2" r="1.45"/>
<circle cx="121.3" cy="353.0" r="1.45"/>
<circle cx="180.5" cy="311.9" r="1.45"/>
<circle cx="136.0" cy="350.8" r="1.45"/>
<circle cx="182.4" cy="335.9" r="1.45"/>
<circle cx="150.3" cy="328.3" r="1.45"/>
<circle cx="169.8" cy="322.2" r="1.45"/>
<circle cx="141.0" cy="351.3" r="1.45"/>
<circle cx="144.5" cy="335.0" r="1.45"/>
<circle cx="153.4" cy="321.2" r="1.45"/>
<circle cx="188.4" cy="310.5" r="1.45"/>
<circle cx="146.5" cy="361.9" r="1.45"/>
<circle cx="176.9" cy="328.2" r="1.45"/>
<circle cx="180.2" cy="297.3" r="1.45"/>
<circle cx="155.9" cy="321.9" r="1.45"/>
<circle cx="139.2" cy="336.8" r="1.45"/>
<circle cx="132.9" cy="363.1" r="1.45"/>
<circle cx="194.3" cy="313.4" r="1.45"/>
<circle cx="149.4" cy="349.5" r="1.45"/>
<circle cx="122.4" cy="334.8" r="1.45"/>
<circle cx="190.7" cy="301.7" r="1.45"/>
<circle cx="159.9" cy="327.9" r="1.45"/>
<circle cx="192.4" cy="313.0" r="1.45"/>
<circle cx="122.3" cy="362.2" r="1.45"/>
<circle cx="114.8" cy="372.6" r="1.45"/>
<circle cx="178.8" cy="331.0" r="1.45"/>
<circle cx="151.9" cy="329.3" r="1.45"/>
<circle cx="178.4" cy="320.8" r="1.45"/>
<circle cx="133.3" cy="335.3" r="1.45"/>
<circle cx="134.5" cy="323.3" r="1.45"/>
<circle cx="151.7" cy="335.0" r="1.45"/>
<circle cx="146.4" cy="355.0" r="1.45"/>
<circle cx="148.9" cy="336.5" r="1.45"/>
<circle cx="136.8" cy="324.5" r="1.45"/>
<circle cx="167.6" cy="343.9" r="1.45"/>
<circle cx="128.8" cy="362.3" r="1.45"/>
<circle cx="176.7" cy="328.8" r="1.45"/>
<circle cx="116.5" cy="366.7" r="1.45"/>
<circle cx="175.6" cy="325.1" r="1.45"/>
<circle cx="143.4" cy="343.6" r="1.45"/>
<circle cx="197.1" cy="295.8" r="1.45"/>
<circle cx="125.2" cy="364.1" r="1.45"/>
<circle cx="196.3" cy="313.4" r="1.45"/>
<circle cx="180.1" cy="320.4" r="1.45"/>
<circle cx="147.2" cy="341.8" r="1.45"/>
<circle cx="151.4" cy="331.9" r="1.45"/>
<circle cx="177.7" cy="303.5" r="1.45"/>
<circle cx="120.5" cy="332.8" r="1.45"/>
<circle cx="129.7" cy="336.0" r="1.45"/>
<circle cx="140.6" cy="332.2" r="1.45"/>
<circle cx="172.3" cy="330.5" r="1.45"/>
<circle cx="157.4" cy="334.0" r="1.45"/>
<circle cx="159.0" cy="345.6" r="1.45"/>
<circle cx="183.1" cy="306.8" r="1.45"/>
<circle cx="187.7" cy="305.3" r="1.45"/>
<circle cx="185.3" cy="305.1" r="1.45"/>
<circle cx="139.4" cy="335.6" r="1.45"/>
<circle cx="135.8" cy="334.4" r="1.45"/>
<circle cx="177.7" cy="303.3" r="1.45"/>
<circle cx="127.5" cy="353.0" r="1.45"/>
<circle cx="193.5" cy="315.7" r="1.45"/>
<circle cx="148.1" cy="332.6" r="1.45"/>
<circle cx="144.8" cy="341.7" r="1.45"/>
<circle cx="159.8" cy="315.4" r="1.45"/>
<circle cx="140.7" cy="330.2" r="1.45"/>
<circle cx="133.0" cy="346.9" r="1.45"/>
<circle cx="165.4" cy="314.5" r="1.45"/>
<circle cx="186.7" cy="311.0" r="1.45"/>
<circle cx="127.2" cy="335.0" r="1.45"/>
<circle cx="141.4" cy="355.4" r="1.45"/>
<circle cx="151.2" cy="330.6" r="1.45"/>
<circle cx="141.5" cy="343.8" r="1.45"/>
<circle cx="155.2" cy="326.1" r="1.45"/>
<circle cx="171.8" cy="310.0" r="1.45"/>
<circle cx="166.6" cy="304.6" r="1.45"/>
<circle cx="161.2" cy="322.5" r="1.45"/>
<circle cx="172.0" cy="321.3" r="1.45"/>
<circle cx="123.8" cy="358.5" r="1.45"/>
<circle cx="168.5" cy="341.0" r="1.45"/>
<circle cx="165.8" cy="325.5" r="1.45"/>
<circle cx="175.6" cy="331.7" r="1.45"/>
<circle cx="152.3" cy="343.2" r="1.45"/>
<circle cx="142.4" cy="347.2" r="1.45"/>
<circle cx="171.0" cy="312.3" r="1.45"/>
<circle cx="154.2" cy="344.9" r="1.45"/>
<circle cx="192.6" cy="315.6" r="1.45"/>
<circle cx="150.0" cy="336.7" r="1.45"/>
<circle cx="134.4" cy="347.8" r="1.45"/>
<circle cx="178.9" cy="323.5" r="1.45"/>
<circle cx="151.5" cy="346.0" r="1.45"/>
<circle cx="195.2" cy="313.5" r="1.45"/>
<circle cx="143.6" cy="347.4" r="1.45"/>
<circle cx="151.5" cy="345.0" r="1.45"/>
<circle cx="144.9" cy="345.5" r="1.45"/>
<circle cx="178.9" cy="318.7" r="1.45"/>
<circle cx="115.2" cy="342.9" r="1.45"/>
<circle cx="172.3" cy="319.1" r="1.45"/>
<circle cx="183.8" cy="314.8" r="1.45"/>
<circle cx="137.9" cy="367.5" r="1.45"/>
<circle cx="117.7" cy="365.4" r="1.45"/>
<circle cx="126.6" cy="350.8" r="1.45"/>
<circle cx="172.5" cy="318.9" r="1.45"/>
<circle cx="161.0" cy="335.6" r="1.45"/>
<circle cx="165.5" cy="315.2" r="1.45"/>
<circle cx="155.4" cy="325.8" r="1.45"/>
<circle cx="177.5" cy="332.4" r="1.45"/>
<circle cx="151.7" cy="340.7" r="1.45"/>
<circle cx="138.4" cy="345.3" r="1.45"/>
<circle cx="179.0" cy="330.8" r="1.45"/>
<circle cx="157.6" cy="343.7" r="1.45"/>
<circle cx="144.9" cy="341.7" r="1.45"/>
<circle cx="194.8" cy="315.3" r="1.45"/>
<circle cx="151.4" cy="332.5" r="1.45"/>
<circle cx="193.1" cy="311.6" r="1.45"/>
<circle cx="168.9" cy="314.2" r="1.45"/>
<circle cx="191.9" cy="306.5" r="1.45"/>
<circle cx="121.4" cy="359.5" r="1.45"/>
<circle cx="146.6" cy="339.5" r="1.45"/>
<circle cx="162.2" cy="321.5" r="1.45"/>
<circle cx="116.4" cy="358.7" r="1.45"/>
<circle cx="193.8" cy="307.4" r="1.45"/>
<circle cx="130.7" cy="350.9" r="1.45"/>
<circle cx="120.1" cy="365.9" r="1.45"/>
<circle cx="144.6" cy="335.0" r="1.45"/>
<circle cx="177.8" cy="326.9" r="1.45"/>
<circle cx="197.1" cy="312.1" r="1.45"/>
<circle cx="162.4" cy="338.9" r="1.45"/>
<circle cx="186.1" cy="318.8" r="1.45"/>
<circle cx="161.0" cy="319.2" r="1.45"/>
<circle cx="182.8" cy="322.8" r="1.45"/>
<circle cx="142.3" cy="357.2" r="1.45"/>
<circle cx="152.0" cy="314.3" r="1.45"/>
<circle cx="138.4" cy="338.5" r="1.45"/>
<circle cx="191.1" cy="320.1" r="1.45"/>
<circle cx="163.1" cy="333.2" r="1.45"/>
<circle cx="139.4" cy="344.2" r="1.45"/>
<circle cx="138.1" cy="353.8" r="1.45"/>
<circle cx="167.9" cy="313.8" r="1.45"/>
<circle cx="154.6" cy="330.6" r="1.45"/>
<circle cx="194.2" cy="296.0" r="1.45"/>
<circle cx="192.5" cy="298.2" r="1.45"/>
<circle cx="135.7" cy="338.2" r="1.45"/>
<circle cx="162.0" cy="342.9" r="1.45"/>
<circle cx="149.9" cy="341.5" r="1.45"/>
<circle cx="131.6" cy="343.8" r="1.45"/>
<circle cx="173.8" cy="314.2" r="1.45"/>
<circle cx="192.3" cy="289.5" r="1.45"/>
<circle cx="183.1" cy="312.1" r="1.45"/>
<circle cx="159.9" cy="321.0" r="1.45"/>
<circle cx="182.3" cy="322.1" r="1.45"/>
<circle cx="193.3" cy="303.7" r="1.45"/>
<circle cx="176.3" cy="321.5" r="1.45"/>
<circle cx="158.1" cy="340.0" r="1.45"/>
<circle cx="123.0" cy="346.3" r="1.45"/>
<circle cx="158.2" cy="338.1" r="1.45"/>
<circle cx="124.3" cy="366.0" r="1.45"/>
<circle cx="173.2" cy="325.4" r="1.45"/>
<circle cx="117.9" cy="358.0" r="1.45"/>
<circle cx="189.6" cy="311.1" r="1.45"/>
<circle cx="146.9" cy="351.6" r="1.45"/>
<circle cx="141.6" cy="343.3" r="1.45"/>
<circle cx="141.4" cy="328.9" r="1.45"/>
<circle cx="150.9" cy="327.3" r="1.45"/>
<circle cx="143.8" cy="342.3" r="1.45"/>
<circle cx="163.5" cy="321.2" r="1.45"/>
<circle cx="188.6" cy="307.9" r="1.45"/>
<circle cx="171.0" cy="327.7" r="1.45"/>
<circle cx="164.8" cy="317.6" r="1.45"/>
<circle cx="190.1" cy="289.2" r="1.45"/>
<circle cx="175.7" cy="326.4" r="1.45"/>
<circle cx="164.0" cy="325.8" r="1.45"/>
<circle cx="160.0" cy="327.3" r="1.45"/>
<circle cx="191.9" cy="314.5" r="1.45"/>
<circle cx="177.9" cy="327.8" r="1.45"/>
<circle cx="162.6" cy="351.5" r="1.45"/>
<circle cx="174.0" cy="324.9" r="1.45"/>
<circle cx="184.7" cy="310.3" r="1.45"/>
<circle cx="186.4" cy="316.8" r="1.45"/>
<circle cx="168.3" cy="325.4" r="1.45"/>
<circle cx="166.3" cy="315.3" r="1.45"/>
<circle cx="146.0" cy="343.5" r="1.45"/>
<circle cx="153.6" cy="340.2" r="1.45"/>
<circle cx="127.6" cy="355.2" r="1.45"/>
<circle cx="162.6" cy="315.9" r="1.45"/>
<circle cx="176.6" cy="297.4" r="1.45"/>
<circle cx="135.4" cy="345.4" r="1.45"/>
<circle cx="186.4" cy="311.9" r="1.45"/>
<circle cx="150.9" cy="330.5" r="1.45"/>
<circle cx="133.0" cy="353.3" r="1.45"/>
<circle cx="119.1" cy="347.9" r="1.45"/>
<circle cx="168.1" cy="338.5" r="1.45"/>
<circle cx="164.9" cy="330.6" r="1.45"/>
<circle cx="180.3" cy="323.3" r="1.45"/>
<circle cx="195.4" cy="324.0" r="1.45"/>
<circle cx="179.4" cy="312.0" r="1.45"/>
<circle cx="164.3" cy="337.8" r="1.45"/>
<circle cx="135.2" cy="350.1" r="1.45"/>
<circle cx="138.7" cy="361.2" r="1.45"/>
<circle cx="170.4" cy="324.7" r="1.45"/>
<circle cx="184.8" cy="323.5" r="1.45"/>
<circle cx="133.1" cy="336.3" r="1.45"/>
<circle cx="149.6" cy="344.4" r="1.45"/>
<circle cx="171.6" cy="322.1" r="1.45"/>
<circle cx="121.5" cy="349.5" r="1.45"/>
<circle cx="165.3" cy="320.7" r="1.45"/>
<circle cx="188.8" cy="309.5" r="1.45"/>
<circle cx="191.2" cy="301.9" r="1.45"/>
<circle cx="166.4" cy="319.2" r="1.45"/>
<circle cx="164.1" cy="314.4" r="1.45"/>
<circle cx="124.9" cy="368.5" r="1.45"/>
<circle cx="177.6" cy="291.7" r="1.45"/>
<circle cx="196.9" cy="310.7" r="1.45"/>
<circle cx="131.3" cy="359.8" r="1.45"/>
<circle cx="179.6" cy="318.2" r="1.45"/>
<circle cx="177.5" cy="323.3" r="1.45"/>
<circle cx="133.3" cy="357.6" r="1.45"/>
<circle cx="184.7" cy="313.6" r="1.45"/>
<circle cx="161.0" cy="327.7" r="1.45"/>
<circle cx="175.0" cy="309.2" r="1.45"/>
<circle cx="185.5" cy="322.5" r="1.45"/>
<circle cx="123.4" cy="354.2" r="1.45"/>
<circle cx="128.7" cy="355.1" r="1.45"/>
<circle cx="168.9" cy="339.2" r="1.45"/>
<circle cx="130.3" cy="363.3" r="1.45"/>
<circle cx="136.3" cy="354.2" r="1.45"/>
<circle cx="122.6" cy="356.1" r="1.45"/>
<circle cx="196.4" cy="303.2" r="1.45"/>
<circle cx="157.2" cy="342.8" r="1.45"/>
<circle cx="171.8" cy="327.6" r="1.45"/>
<circle cx="190.0" cy="300.7" r="1.45"/>
<circle cx="173.8" cy="316.0" r="1.45"/>
<circle cx="186.9" cy="293.3" r="1.45"/>
<circle cx="115.7" cy="376.0" r="1.45"/>
<circle cx="173.7" cy="306.7" r="1.45"/>
<circle cx="124.3" cy="359.9" r="1.45"/>
<circle cx="141.7" cy="343.3" r="1.45"/>
<circle cx="167.9" cy="324.8" r="1.45"/>
<circle cx="123.9" cy="370.2" r="1.45"/>
<circle cx="147.3" cy="324.7" r="1.45"/>
<circle cx="158.0" cy="343.4" r="1.45"/>
<circle cx="155.2" cy="343.3" r="1.45"/>
<circle cx="131.8" cy="347.7" r="1.45"/>
<circle cx="128.7" cy="347.9" r="1.45"/>
<circle cx="196.1" cy="311.8" r="1.45"/>
<circle cx="164.5" cy="328.8" r="1.45"/>
<circle cx="126.3" cy="355.1" r="1.45"/>
<circle cx="142.6" cy="343.9" r="1.45"/>
<circle cx="140.3" cy="347.8" r="1.45"/>
<circle cx="176.6" cy="327.7" r="1.45"/>
<circle cx="146.7" cy="328.9" r="1.45"/>
<circle cx="165.0" cy="334.5" r="1.45"/>
<circle cx="173.0" cy="314.1" r="1.45"/>
<circle cx="174.9" cy="325.4" r="1.45"/>
<circle cx="134.0" cy="342.0" r="1.45"/>
<circle cx="160.4" cy="319.1" r="1.45"/>
<circle cx="196.7" cy="303.9" r="1.45"/>
<circle cx="144.0" cy="318.0" r="1.45"/>
<circle cx="166.2" cy="328.7" r="1.45"/>
<circle cx="175.5" cy="307.0" r="1.45"/>
<circle cx="192.1" cy="316.7" r="1.45"/>
<circle cx="185.5" cy="305.4" r="1.45"/>
<circle cx="156.4" cy="337.8" r="1.45"/>
<circle cx="144.4" cy="354.5" r="1.45"/>
<circle cx="175.0" cy="314.5" r="1.45"/>
<circle cx="129.1" cy="348.2" r="1.45"/>
<circle cx="137.1" cy="329.7" r="1.45"/>
<circle cx="140.8" cy="347.0" r="1.45"/>
<circle cx="154.0" cy="353.2" r="1.45"/>
<circle cx="138.3" cy="341.5" r="1.45"/>
<circle cx="186.7" cy="308.9" r="1.45"/>
<circle cx="156.3" cy="341.1" r="1.45"/>
<circle cx="190.7" cy="308.6" r="1.45"/>
<circle cx="119.1" cy="362.8" r="1.45"/>
<circle cx="168.6" cy="306.3" r="1.45"/>
<circle cx="171.8" cy="338.0" r="1.45"/>
<circle cx="134.4" cy="342.0" r="1.45"/>
<circle cx="135.0" cy="354.7" r="1.45"/>
<circle cx="174.4" cy="327.0" r="1.45"/>
<circle cx="163.4" cy="319.8" r="1.45"/>
<circle cx="172.8" cy="335.0" r="1.45"/>
<circle cx="194.6" cy="280.7" r="1.45"/>
<circle cx="170.6" cy="320.6" r="1.45"/>
<circle cx="162.4" cy="331.2" r="1.45"/>
<circle cx="195.6" cy="323.6" r="1.45"/>
<circle cx="123.0" cy="363.0" r="1.45"/>
</g>
<path d="M52.5 408.9L256.0 261.4" stroke="#3a5592" stroke-width="1.25" stroke-dasharray="1.8 2.1"/>
</g>
<text x="162.9" y="377.6" font-family="Liberation Sans" font-size="13.2" font-weight="normal" text-anchor="start" fill="#000" textLength="50.4" lengthAdjust="spacingAndGlyphs" stroke="#000" stroke-width="0.3">r = 0.902</text>
<text x="154.7" y="277.8" font-family="Liberation Sans" font-size="14" font-weight="normal" text-anchor="middle" fill="#000" textLength="42.2" lengthAdjust="spacingAndGlyphs" stroke="#000" stroke-width="0.35">MNAR</text>
<text x="154.3" y="420.8" font-family="Liberation Sans" font-size="12.5" font-weight="normal" text-anchor="middle" fill="#000" textLength="75.8" lengthAdjust="spacingAndGlyphs" stroke="#000" stroke-width="0.3">Ground-truth</text>
<path d="M272.4 282.75H423.4V388.2H272.4Z" fill="none" stroke="#333" stroke-width="1.2"/>
<path d="M266.9 286.7H272.4" stroke="#333" stroke-width="1"/>
<g transform="translate(256.8 286.7) rotate(-90) scale(1 1.14)"><text x="0.0" y="0.0" font-family="Liberation Sans" font-size="8.3" font-weight="normal" text-anchor="middle" fill="#000" dominant-baseline="central" stroke="#000" stroke-width="0.22">4</text></g>
<path d="M266.9 300.7H272.4" stroke="#333" stroke-width="1"/>
<g transform="translate(256.8 300.7) rotate(-90) scale(1 1.14)"><text x="0.0" y="0.0" font-family="Liberation Sans" font-size="8.3" font-weight="normal" text-anchor="middle" fill="#000" dominant-baseline="central" stroke="#000" stroke-width="0.22">3</text></g>
<path d="M266.9 314.7H272.4" stroke="#333" stroke-width="1"/>
<g transform="translate(256.8 314.7) rotate(-90) scale(1 1.14)"><text x="0.0" y="0.0" font-family="Liberation Sans" font-size="8.3" font-weight="normal" text-anchor="middle" fill="#000" dominant-baseline="central" stroke="#000" stroke-width="0.22">2</text></g>
<path d="M266.9 328.6H272.4" stroke="#333" stroke-width="1"/>
<g transform="translate(256.8 328.6) rotate(-90) scale(1 1.14)"><text x="0.0" y="0.0" font-family="Liberation Sans" font-size="8.3" font-weight="normal" text-anchor="middle" fill="#000" dominant-baseline="central" stroke="#000" stroke-width="0.22">1</text></g>
<path d="M266.9 342.6H272.4" stroke="#333" stroke-width="1"/>
<g transform="translate(256.8 342.6) rotate(-90) scale(1 1.14)"><text x="0.0" y="0.0" font-family="Liberation Sans" font-size="8.3" font-weight="normal" text-anchor="middle" fill="#000" dominant-baseline="central" stroke="#000" stroke-width="0.22">0</text></g>
<path d="M266.9 356.6H272.4" stroke="#333" stroke-width="1"/>
<g transform="translate(256.8 356.6) rotate(-90) scale(1 1.14)"><text x="0.0" y="0.0" font-family="Liberation Sans" font-size="8.3" font-weight="normal" text-anchor="middle" fill="#000" dominant-baseline="central" stroke="#000" stroke-width="0.22">&#8722;1</text></g>
<path d="M266.9 370.5H272.4" stroke="#333" stroke-width="1"/>
<path d="M266.9 384.5H272.4" stroke="#333" stroke-width="1"/>
<g transform="translate(256.8 384.5) rotate(-90) scale(1 1.14)"><text x="0.0" y="0.0" font-family="Liberation Sans" font-size="8.3" font-weight="normal" text-anchor="middle" fill="#000" dominant-baseline="central" stroke="#000" stroke-width="0.22">&#8722;3</text></g>
<path d="M278.4 388.2V392.7" stroke="#333" stroke-width="1"/>
<g transform="translate(278.4 406.9) scale(1.14 1)"><text x="0.0" y="0.0" font-family="Liberation Sans" font-size="8.3" font-weight="normal" text-anchor="middle" fill="#000" stroke="#000" stroke-width="0.22">&#8722;3</text></g>
<path d="M298.3 388.2V392.7" stroke="#333" stroke-width="1"/>
<g transform="translate(298.3 406.9) scale(1.14 1)"><text x="0.0" y="0.0" font-family="Liberation Sans" font-size="8.3" font-weight="normal" text-anchor="middle" fill="#000" stroke="#000" stroke-width="0.22">&#8722;2</text></g>
<path d="M318.2 388.2V392.7" stroke="#333" stroke-width="1"/>
<g transform="translate(318.2 406.9) scale(1.14 1)"><text x="0.0" y="0.0" font-family="Liberation Sans" font-size="8.3" font-weight="normal" text-anchor="middle" fill="#000" stroke="#000" stroke-width="0.22">&#8722;1</text></g>
<path d="M338.1 388.2V392.7" stroke="#333" stroke-width="1"/>
<g transform="translate(338.1 406.9) scale(1.14 1)"><text x="0.0" y="0.0" font-family="Liberation Sans" font-size="8.3" font-weight="normal" text-anchor="middle" fill="#000" stroke="#000" stroke-width="0.22">0</text></g>
<path d="M358.0 388.2V392.7" stroke="#333" stroke-width="1"/>
<g transform="translate(358.0 406.9) scale(1.14 1)"><text x="0.0" y="0.0" font-family="Liberation Sans" font-size="8.3" font-weight="normal" text-anchor="middle" fill="#000" stroke="#000" stroke-width="0.22">1</text></g>
<path d="M377.9 388.2V392.7" stroke="#333" stroke-width="1"/>
<g transform="translate(377.9 406.9) scale(1.14 1)"><text x="0.0" y="0.0" font-family="Liberation Sans" font-size="8.3" font-weight="normal" text-anchor="middle" fill="#000" stroke="#000" stroke-width="0.22">2</text></g>
<path d="M397.8 388.2V392.7" stroke="#333" stroke-width="1"/>
<g transform="translate(397.8 406.9) scale(1.14 1)"><text x="0.0" y="0.0" font-family="Liberation Sans" font-size="8.3" font-weight="normal" text-anchor="middle" fill="#000" stroke="#000" stroke-width="0.22">3</text></g>
<path d="M417.7 388.2V392.7" stroke="#333" stroke-width="1"/>
<g transform="translate(417.7 406.9) scale(1.14 1)"><text x="0.0" y="0.0" font-family="Liberation Sans" font-size="8.3" font-weight="normal" text-anchor="middle" fill="#000" stroke="#000" stroke-width="0.22">4</text></g>
<clipPath id="c272"><rect x="272.4" y="282.75" width="151.0" height="105.44999999999999"/></clipPath>
<g clip-path="url(#c272)">
<g fill="#0000ff">
<circle cx="382.3" cy="308.3" r="1.45"/>
<circle cx="331.4" cy="342.5" r="1.45"/>
<circle cx="393.8" cy="325.9" r="1.45"/>
<circle cx="325.3" cy="330.6" r="1.45"/>
<circle cx="372.0" cy="313.3" r="1.45"/>
<circle cx="412.5" cy="298.6" r="1.45"/>
<circle cx="369.0" cy="328.5" r="1.45"/>
<circle cx="290.0" cy="377.5" r="1.45"/>
<circle cx="383.4" cy="331.0" r="1.45"/>
<circle cx="315.4" cy="354.8" r="1.45"/>
<circle cx="351.5" cy="340.1" r="1.45"/>
<circle cx="380.2" cy="327.1" r="1.45"/>
<circle cx="388.1" cy="319.0" r="1.45"/>
<circle cx="346.3" cy="319.6" r="1.45"/>
<circle cx="384.4" cy="320.4" r="1.45"/>
<circle cx="311.7" cy="348.9" r="1.45"/>
<circle cx="371.3" cy="310.0" r="1.45"/>
<circle cx="394.4" cy="307.8" r="1.45"/>
<circle cx="406.0" cy="295.2" r="1.45"/>
<circle cx="411.6" cy="307.0" r="1.45"/>
<circle cx="378.3" cy="321.2" r="1.45"/>
<circle cx="336.9" cy="341.9" r="1.45"/>
<circle cx="286.5" cy="381.1" r="1.45"/>
<circle cx="294.3" cy="376.1" r="1.45"/>
<circle cx="309.9" cy="342.4" r="1.45"/>
<circle cx="324.2" cy="340.4" r="1.45"/>
<circle cx="405.1" cy="302.7" r="1.45"/>
<circle cx="367.1" cy="333.8" r="1.45"/>
<circle cx="389.9" cy="310.3" r="1.45"/>
<circle cx="290.9" cy="379.1" r="1.45"/>
<circle cx="303.1" cy="365.2" r="1.45"/>
<circle cx="403.0" cy="303.4" r="1.45"/>
<circle cx="335.6" cy="342.4" r="1.45"/>
<circle cx="381.9" cy="321.5" r="1.45"/>
<circle cx="303.6" cy="356.3" r="1.45"/>
<circle cx="407.2" cy="290.1" r="1.45"/>
<circle cx="390.6" cy="314.0" r="1.45"/>
<circle cx="320.4" cy="351.1" r="1.45"/>
<circle cx="300.6" cy="368.7" r="1.45"/>
<circle cx="289.2" cy="369.7" r="1.45"/>
<circle cx="375.8" cy="308.4" r="1.45"/>
<circle cx="373.4" cy="325.8" r="1.45"/>
<circle cx="391.8" cy="316.2" r="1.45"/>
<circle cx="393.3" cy="310.9" r="1.45"/>
<circle cx="404.0" cy="305.8" r="1.45"/>
<circle cx="286.2" cy="371.4" r="1.45"/>
<circle cx="332.2" cy="345.2" r="1.45"/>
<circle cx="304.0" cy="393.1" r="1.45"/>
<circle cx="381.8" cy="331.9" r="1.45"/>
<circle cx="314.8" cy="346.4" r="1.45"/>
<circle cx="382.1" cy="319.1" r="1.45"/>
<circle cx="298.5" cy="366.8" r="1.45"/>
<circle cx="411.2" cy="303.3" r="1.45"/>
<circle cx="289.7" cy="361.0" r="1.45"/>
<circle cx="330.5" cy="338.5" r="1.45"/>
<circle cx="319.8" cy="352.4" r="1.45"/>
<circle cx="283.0" cy="371.0" r="1.45"/>
<circle cx="395.1" cy="306.0" r="1.45"/>
<circle cx="371.5" cy="328.7" r="1.45"/>
<circle cx="306.3" cy="363.3" r="1.45"/>
<circle cx="330.3" cy="336.0" r="1.45"/>
<circle cx="357.8" cy="326.4" r="1.45"/>
<circle cx="328.2" cy="330.9" r="1.45"/>
<circle cx="343.9" cy="334.6" r="1.45"/>
<circle cx="332.7" cy="355.5" r="1.45"/>
<circle cx="309.5" cy="356.1" r="1.45"/>
<circle cx="343.9" cy="340.3" r="1.45"/>
<circle cx="312.8" cy="367.6" r="1.45"/>
<circle cx="329.6" cy="357.7" r="1.45"/>
<circle cx="354.0" cy="324.2" r="1.45"/>
<circle cx="392.4" cy="303.3" r="1.45"/>
<circle cx="324.3" cy="356.6" r="1.45"/>
<circle cx="324.3" cy="351.6" r="1.45"/>
<circle cx="355.4" cy="327.3" r="1.45"/>
<circle cx="347.8" cy="334.7" r="1.45"/>
<circle cx="349.3" cy="324.9" r="1.45"/>
<circle cx="314.9" cy="359.2" r="1.45"/>
<circle cx="308.5" cy="348.0" r="1.45"/>
<circle cx="361.9" cy="322.4" r="1.45"/>
<circle cx="312.3" cy="356.2" r="1.45"/>
<circle cx="331.4" cy="345.4" r="1.45"/>
<circle cx="332.4" cy="341.7" r="1.45"/>
<circle cx="328.3" cy="341.7" r="1.45"/>
<circle cx="340.9" cy="342.5" r="1.45"/>
<circle cx="333.9" cy="347.8" r="1.45"/>
<circle cx="352.3" cy="335.5" r="1.45"/>
<circle cx="342.0" cy="342.6" r="1.45"/>
<circle cx="306.6" cy="354.3" r="1.45"/>
<circle cx="315.1" cy="350.9" r="1.45"/>
<circle cx="344.5" cy="350.3" r="1.45"/>
<circle cx="317.3" cy="358.2" r="1.45"/>
<circle cx="319.8" cy="361.6" r="1.45"/>
<circle cx="350.8" cy="336.2" r="1.45"/>
<circle cx="343.8" cy="341.8" r="1.45"/>
<circle cx="342.2" cy="345.1" r="1.45"/>
<circle cx="335.6" cy="339.3" r="1.45"/>
<circle cx="337.0" cy="346.0" r="1.45"/>
<circle cx="314.5" cy="354.9" r="1.45"/>
<circle cx="343.0" cy="341.0" r="1.45"/>
<circle cx="320.8" cy="348.4" r="1.45"/>
<circle cx="385.5" cy="316.0" r="1.45"/>
<circle cx="342.8" cy="336.5" r="1.45"/>
<circle cx="285.0" cy="372.8" r="1.45"/>
<circle cx="322.1" cy="341.6" r="1.45"/>
<circle cx="331.1" cy="351.9" r="1.45"/>
<circle cx="331.8" cy="344.6" r="1.45"/>
<circle cx="325.0" cy="350.3" r="1.45"/>
<circle cx="309.2" cy="360.9" r="1.45"/>
<circle cx="351.5" cy="319.7" r="1.45"/>
<circle cx="350.2" cy="332.9" r="1.45"/>
<circle cx="359.7" cy="321.8" r="1.45"/>
<circle cx="369.2" cy="315.6" r="1.45"/>
<circle cx="333.8" cy="342.8" r="1.45"/>
<circle cx="339.7" cy="338.9" r="1.45"/>
<circle cx="340.1" cy="346.5" r="1.45"/>
<circle cx="294.2" cy="373.1" r="1.45"/>
<circle cx="295.8" cy="366.8" r="1.45"/>
<circle cx="336.2" cy="355.3" r="1.45"/>
<circle cx="349.8" cy="328.8" r="1.45"/>
<circle cx="338.0" cy="330.0" r="1.45"/>
<circle cx="373.4" cy="329.8" r="1.45"/>
<circle cx="356.7" cy="327.7" r="1.45"/>
<circle cx="344.4" cy="331.5" r="1.45"/>
<circle cx="321.8" cy="356.1" r="1.45"/>
<circle cx="319.7" cy="358.5" r="1.45"/>
<circle cx="334.1" cy="354.9" r="1.45"/>
<circle cx="315.3" cy="351.5" r="1.45"/>
<circle cx="334.7" cy="341.3" r="1.45"/>
<circle cx="298.5" cy="371.4" r="1.45"/>
<circle cx="325.1" cy="349.6" r="1.45"/>
<circle cx="324.4" cy="343.4" r="1.45"/>
<circle cx="335.0" cy="343.8" r="1.45"/>
<circle cx="336.4" cy="337.9" r="1.45"/>
<circle cx="326.7" cy="340.7" r="1.45"/>
<circle cx="345.3" cy="336.6" r="1.45"/>
<circle cx="336.9" cy="339.0" r="1.45"/>
<circle cx="356.3" cy="324.3" r="1.45"/>
<circle cx="343.6" cy="332.4" r="1.45"/>
<circle cx="338.5" cy="332.7" r="1.45"/>
<circle cx="335.6" cy="358.6" r="1.45"/>
<circle cx="362.7" cy="326.6" r="1.45"/>
<circle cx="312.8" cy="358.6" r="1.45"/>
<circle cx="318.5" cy="338.5" r="1.45"/>
<circle cx="346.0" cy="348.7" r="1.45"/>
<circle cx="347.0" cy="339.6" r="1.45"/>
<circle cx="374.3" cy="328.1" r="1.45"/>
<circle cx="291.4" cy="369.4" r="1.45"/>
<circle cx="329.2" cy="350.4" r="1.45"/>
<circle cx="293.5" cy="365.6" r="1.45"/>
<circle cx="369.4" cy="337.2" r="1.45"/>
<circle cx="359.4" cy="333.5" r="1.45"/>
<circle cx="382.9" cy="312.2" r="1.45"/>
<circle cx="332.4" cy="337.4" r="1.45"/>
<circle cx="346.6" cy="341.3" r="1.45"/>
<circle cx="350.2" cy="338.5" r="1.45"/>
<circle cx="300.5" cy="349.7" r="1.45"/>
<circle cx="329.2" cy="351.8" r="1.45"/>
<circle cx="342.9" cy="350.5" r="1.45"/>
<circle cx="309.2" cy="362.9" r="1.45"/>
<circle cx="325.8" cy="348.9" r="1.45"/>
<circle cx="358.4" cy="333.3" r="1.45"/>
<circle cx="345.9" cy="333.0" r="1.45"/>
<circle cx="314.5" cy="354.4" r="1.45"/>
<circle cx="317.4" cy="346.7" r="1.45"/>
<circle cx="345.2" cy="337.7" r="1.45"/>
<circle cx="309.4" cy="358.3" r="1.45"/>
<circle cx="320.8" cy="347.2" r="1.45"/>
<circle cx="333.7" cy="350.5" r="1.45"/>
<circle cx="354.5" cy="327.0" r="1.45"/>
<circle cx="324.3" cy="341.8" r="1.45"/>
<circle cx="330.2" cy="349.0" r="1.45"/>
<circle cx="338.6" cy="347.2" r="1.45"/>
<circle cx="327.3" cy="349.6" r="1.45"/>
<circle cx="366.6" cy="314.2" r="1.45"/>
<circle cx="331.0" cy="334.6" r="1.45"/>
<circle cx="335.2" cy="341.0" r="1.45"/>
<circle cx="353.7" cy="330.6" r="1.45"/>
<circle cx="384.2" cy="312.8" r="1.45"/>
<circle cx="312.3" cy="348.0" r="1.45"/>
<circle cx="327.9" cy="350.3" r="1.45"/>
<circle cx="356.0" cy="325.4" r="1.45"/>
<circle cx="352.0" cy="326.6" r="1.45"/>
<circle cx="369.8" cy="323.5" r="1.45"/>
<circle cx="354.8" cy="337.5" r="1.45"/>
<circle cx="329.1" cy="339.8" r="1.45"/>
<circle cx="343.9" cy="348.3" r="1.45"/>
<circle cx="343.3" cy="340.3" r="1.45"/>
<circle cx="319.8" cy="349.8" r="1.45"/>
<circle cx="328.1" cy="359.4" r="1.45"/>
<circle cx="314.0" cy="343.6" r="1.45"/>
<circle cx="306.0" cy="359.6" r="1.45"/>
<circle cx="348.3" cy="331.3" r="1.45"/>
<circle cx="311.7" cy="360.1" r="1.45"/>
<circle cx="338.9" cy="335.7" r="1.45"/>
<circle cx="323.3" cy="359.3" r="1.45"/>
<circle cx="356.1" cy="323.3" r="1.45"/>
<circle cx="343.5" cy="343.3" r="1.45"/>
<circle cx="344.2" cy="337.6" r="1.45"/>
<circle cx="352.8" cy="342.4" r="1.45"/>
<circle cx="338.4" cy="343.0" r="1.45"/>
<circle cx="314.0" cy="354.8" r="1.45"/>
<circle cx="336.8" cy="345.8" r="1.45"/>
<circle cx="344.0" cy="348.8" r="1.45"/>
<circle cx="335.0" cy="340.7" r="1.45"/>
<circle cx="341.8" cy="332.0" r="1.45"/>
<circle cx="312.2" cy="368.4" r="1.45"/>
<circle cx="340.9" cy="337.1" r="1.45"/>
<circle cx="378.3" cy="313.6" r="1.45"/>
<circle cx="318.7" cy="347.8" r="1.45"/>
<circle cx="319.3" cy="364.1" r="1.45"/>
<circle cx="388.0" cy="309.9" r="1.45"/>
<circle cx="350.3" cy="330.6" r="1.45"/>
<circle cx="372.2" cy="319.6" r="1.45"/>
<circle cx="360.3" cy="336.2" r="1.45"/>
<circle cx="308.4" cy="349.4" r="1.45"/>
<circle cx="365.5" cy="322.0" r="1.45"/>
<circle cx="340.6" cy="339.3" r="1.45"/>
<circle cx="322.4" cy="340.2" r="1.45"/>
<circle cx="349.2" cy="331.7" r="1.45"/>
<circle cx="343.6" cy="331.1" r="1.45"/>
<circle cx="346.2" cy="331.8" r="1.45"/>
<circle cx="312.8" cy="353.4" r="1.45"/>
<circle cx="379.6" cy="321.0" r="1.45"/>
<circle cx="333.5" cy="338.3" r="1.45"/>
<circle cx="355.2" cy="327.3" r="1.45"/>
<circle cx="303.9" cy="358.8" r="1.45"/>
<circle cx="312.6" cy="363.3" r="1.45"/>
<circle cx="347.0" cy="338.9" r="1.45"/>
<circle cx="352.2" cy="310.7" r="1.45"/>
<circle cx="351.6" cy="328.7" r="1.45"/>
<circle cx="318.3" cy="358.5" r="1.45"/>
<circle cx="314.9" cy="359.7" r="1.45"/>
<circle cx="314.4" cy="361.0" r="1.45"/>
<circle cx="332.0" cy="353.0" r="1.45"/>
<circle cx="307.9" cy="370.0" r="1.45"/>
<circle cx="345.1" cy="337.4" r="1.45"/>
<circle cx="356.5" cy="323.5" r="1.45"/>
<circle cx="329.3" cy="342.4" r="1.45"/>
<circle cx="307.4" cy="343.7" r="1.45"/>
<circle cx="359.9" cy="330.6" r="1.45"/>
<circle cx="313.0" cy="354.3" r="1.45"/>
<circle cx="298.9" cy="371.1" r="1.45"/>
<circle cx="351.0" cy="333.8" r="1.45"/>
<circle cx="326.3" cy="342.2" r="1.45"/>
<circle cx="315.4" cy="353.5" r="1.45"/>
<circle cx="326.2" cy="355.3" r="1.45"/>
<circle cx="345.3" cy="344.9" r="1.45"/>
<circle cx="374.0" cy="324.9" r="1.45"/>
<circle cx="375.7" cy="327.5" r="1.45"/>
<circle cx="348.2" cy="344.7" r="1.45"/>
<circle cx="309.4" cy="358.0" r="1.45"/>
<circle cx="349.6" cy="344.4" r="1.45"/>
<circle cx="359.7" cy="335.0" r="1.45"/>
<circle cx="338.7" cy="338.9" r="1.45"/>
<circle cx="347.9" cy="349.2" r="1.45"/>
<circle cx="368.3" cy="319.9" r="1.45"/>
<circle cx="327.6" cy="355.7" r="1.45"/>
<circle cx="302.4" cy="373.2" r="1.45"/>
<circle cx="347.0" cy="339.2" r="1.45"/>
<circle cx="313.6" cy="360.5" r="1.45"/>
<circle cx="367.2" cy="327.1" r="1.45"/>
<circle cx="324.5" cy="340.4" r="1.45"/>
<circle cx="345.3" cy="337.4" r="1.45"/>
<circle cx="324.0" cy="361.7" r="1.45"/>
<circle cx="312.8" cy="360.6" r="1.45"/>
<circle cx="331.7" cy="343.2" r="1.45"/>
<circle cx="347.1" cy="335.1" r="1.45"/>
<circle cx="340.5" cy="347.9" r="1.45"/>
<circle cx="293.2" cy="372.6" r="1.45"/>
<circle cx="317.1" cy="359.3" r="1.45"/>
<circle cx="330.6" cy="355.5" r="1.45"/>
<circle cx="314.0" cy="357.1" r="1.45"/>
<circle cx="338.4" cy="346.6" r="1.45"/>
<circle cx="346.0" cy="338.9" r="1.45"/>
<circle cx="315.8" cy="355.0" r="1.45"/>
<circle cx="373.6" cy="325.8" r="1.45"/>
<circle cx="359.3" cy="319.4" r="1.45"/>
<circle cx="365.9" cy="331.4" r="1.45"/>
<circle cx="376.2" cy="318.5" r="1.45"/>
<circle cx="331.1" cy="347.9" r="1.45"/>
<circle cx="348.1" cy="335.7" r="1.45"/>
<circle cx="332.6" cy="336.0" r="1.45"/>
<circle cx="321.7" cy="359.4" r="1.45"/>
<circle cx="351.9" cy="328.7" r="1.45"/>
<circle cx="357.9" cy="338.0" r="1.45"/>
<circle cx="357.6" cy="326.9" r="1.45"/>
<circle cx="371.2" cy="331.4" r="1.45"/>
<circle cx="340.5" cy="342.7" r="1.45"/>
<circle cx="304.5" cy="367.3" r="1.45"/>
<circle cx="358.5" cy="333.3" r="1.45"/>
<circle cx="321.7" cy="345.5" r="1.45"/>
<circle cx="355.8" cy="324.3" r="1.45"/>
<circle cx="320.4" cy="353.0" r="1.45"/>
<circle cx="356.6" cy="335.8" r="1.45"/>
<circle cx="321.2" cy="346.1" r="1.45"/>
<circle cx="367.2" cy="333.0" r="1.45"/>
<circle cx="284.4" cy="384.6" r="1.45"/>
<circle cx="316.0" cy="356.3" r="1.45"/>
<circle cx="348.4" cy="337.0" r="1.45"/>
<circle cx="322.2" cy="350.4" r="1.45"/>
<circle cx="317.0" cy="355.0" r="1.45"/>
<circle cx="323.3" cy="331.4" r="1.45"/>
<circle cx="352.4" cy="339.6" r="1.45"/>
<circle cx="316.3" cy="358.2" r="1.45"/>
<circle cx="303.4" cy="368.1" r="1.45"/>
<circle cx="321.4" cy="345.6" r="1.45"/>
<circle cx="327.6" cy="354.0" r="1.45"/>
<circle cx="309.4" cy="367.7" r="1.45"/>
<circle cx="334.8" cy="345.6" r="1.45"/>
<circle cx="358.7" cy="334.3" r="1.45"/>
<circle cx="357.2" cy="328.8" r="1.45"/>
<circle cx="336.0" cy="357.9" r="1.45"/>
<circle cx="310.4" cy="353.2" r="1.45"/>
<circle cx="363.9" cy="325.1" r="1.45"/>
<circle cx="351.3" cy="337.1" r="1.45"/>
<circle cx="328.7" cy="352.5" r="1.45"/>
<circle cx="355.5" cy="329.2" r="1.45"/>
<circle cx="331.5" cy="348.4" r="1.45"/>
<circle cx="347.2" cy="334.3" r="1.45"/>
<circle cx="319.6" cy="340.6" r="1.45"/>
<circle cx="341.2" cy="340.1" r="1.45"/>
<circle cx="365.5" cy="318.2" r="1.45"/>
<circle cx="334.4" cy="340.4" r="1.45"/>
<circle cx="314.8" cy="360.6" r="1.45"/>
<circle cx="291.1" cy="361.2" r="1.45"/>
<circle cx="298.3" cy="360.8" r="1.45"/>
<circle cx="319.6" cy="360.2" r="1.45"/>
<circle cx="332.2" cy="343.6" r="1.45"/>
<circle cx="348.3" cy="323.1" r="1.45"/>
<circle cx="343.2" cy="332.6" r="1.45"/>
<circle cx="324.2" cy="345.2" r="1.45"/>
<circle cx="339.2" cy="344.8" r="1.45"/>
<circle cx="334.2" cy="344.8" r="1.45"/>
<circle cx="339.9" cy="338.0" r="1.45"/>
<circle cx="326.0" cy="354.7" r="1.45"/>
<circle cx="351.0" cy="346.7" r="1.45"/>
<circle cx="323.8" cy="339.3" r="1.45"/>
<circle cx="282.2" cy="380.4" r="1.45"/>
<circle cx="349.8" cy="347.1" r="1.45"/>
<circle cx="387.8" cy="331.2" r="1.45"/>
<circle cx="364.7" cy="314.9" r="1.45"/>
<circle cx="354.3" cy="334.0" r="1.45"/>
<circle cx="343.2" cy="345.5" r="1.45"/>
<circle cx="352.2" cy="341.8" r="1.45"/>
<circle cx="330.7" cy="339.2" r="1.45"/>
<circle cx="313.9" cy="359.1" r="1.45"/>
<circle cx="339.4" cy="351.0" r="1.45"/>
<circle cx="359.3" cy="326.9" r="1.45"/>
<circle cx="305.9" cy="361.6" r="1.45"/>
<circle cx="320.7" cy="357.2" r="1.45"/>
<circle cx="337.6" cy="347.5" r="1.45"/>
<circle cx="355.3" cy="336.9" r="1.45"/>
<circle cx="355.6" cy="331.9" r="1.45"/>
<circle cx="353.1" cy="337.0" r="1.45"/>
<circle cx="326.1" cy="357.6" r="1.45"/>
<circle cx="347.6" cy="329.6" r="1.45"/>
<circle cx="378.3" cy="308.7" r="1.45"/>
<circle cx="341.1" cy="341.8" r="1.45"/>
<circle cx="343.8" cy="338.8" r="1.45"/>
<circle cx="365.2" cy="319.0" r="1.45"/>
<circle cx="319.5" cy="358.2" r="1.45"/>
<circle cx="363.3" cy="324.8" r="1.45"/>
<circle cx="331.5" cy="337.4" r="1.45"/>
<circle cx="328.4" cy="349.9" r="1.45"/>
<circle cx="326.9" cy="363.0" r="1.45"/>
<circle cx="353.3" cy="341.7" r="1.45"/>
<circle cx="324.8" cy="355.4" r="1.45"/>
<circle cx="350.6" cy="335.1" r="1.45"/>
<circle cx="336.4" cy="355.2" r="1.45"/>
<circle cx="334.4" cy="355.0" r="1.45"/>
<circle cx="342.2" cy="336.9" r="1.45"/>
<circle cx="335.8" cy="328.6" r="1.45"/>
<circle cx="346.6" cy="332.6" r="1.45"/>
<circle cx="338.9" cy="342.9" r="1.45"/>
<circle cx="355.3" cy="323.8" r="1.45"/>
<circle cx="310.2" cy="351.0" r="1.45"/>
<circle cx="346.3" cy="330.1" r="1.45"/>
<circle cx="345.4" cy="346.7" r="1.45"/>
<circle cx="312.8" cy="343.9" r="1.45"/>
<circle cx="341.1" cy="350.5" r="1.45"/>
<circle cx="343.0" cy="341.7" r="1.45"/>
<circle cx="299.4" cy="381.8" r="1.45"/>
<circle cx="304.2" cy="360.3" r="1.45"/>
<circle cx="335.2" cy="345.6" r="1.45"/>
<circle cx="341.8" cy="335.5" r="1.45"/>
<circle cx="294.3" cy="370.4" r="1.45"/>
<circle cx="319.6" cy="362.0" r="1.45"/>
<circle cx="325.2" cy="350.6" r="1.45"/>
<circle cx="330.8" cy="357.0" r="1.45"/>
<circle cx="326.5" cy="334.3" r="1.45"/>
<circle cx="315.1" cy="368.0" r="1.45"/>
<circle cx="341.6" cy="335.6" r="1.45"/>
<circle cx="345.3" cy="345.9" r="1.45"/>
<circle cx="356.0" cy="337.1" r="1.45"/>
<circle cx="313.5" cy="361.1" r="1.45"/>
<circle cx="333.9" cy="339.3" r="1.45"/>
<circle cx="348.5" cy="336.0" r="1.45"/>
<circle cx="354.7" cy="331.6" r="1.45"/>
<circle cx="353.9" cy="342.8" r="1.45"/>
<circle cx="304.8" cy="356.3" r="1.45"/>
<circle cx="308.4" cy="361.9" r="1.45"/>
<circle cx="334.2" cy="347.9" r="1.45"/>
<circle cx="327.1" cy="338.5" r="1.45"/>
<circle cx="285.8" cy="366.8" r="1.45"/>
<circle cx="381.8" cy="315.8" r="1.45"/>
<circle cx="335.7" cy="338.2" r="1.45"/>
<circle cx="372.5" cy="330.1" r="1.45"/>
<circle cx="337.9" cy="343.5" r="1.45"/>
<circle cx="347.2" cy="335.4" r="1.45"/>
<circle cx="349.2" cy="338.5" r="1.45"/>
<circle cx="337.1" cy="347.5" r="1.45"/>
<circle cx="322.9" cy="352.1" r="1.45"/>
<circle cx="333.3" cy="353.4" r="1.45"/>
<circle cx="367.4" cy="325.6" r="1.45"/>
<circle cx="308.6" cy="351.7" r="1.45"/>
<circle cx="321.2" cy="348.4" r="1.45"/>
<circle cx="335.8" cy="341.6" r="1.45"/>
<circle cx="339.5" cy="345.4" r="1.45"/>
<circle cx="336.9" cy="328.0" r="1.45"/>
<circle cx="291.6" cy="369.3" r="1.45"/>
<circle cx="344.8" cy="345.7" r="1.45"/>
<circle cx="308.8" cy="343.8" r="1.45"/>
<circle cx="328.7" cy="332.5" r="1.45"/>
<circle cx="346.8" cy="336.3" r="1.45"/>
<circle cx="345.6" cy="333.0" r="1.45"/>
<circle cx="359.6" cy="326.1" r="1.45"/>
<circle cx="339.0" cy="340.2" r="1.45"/>
<circle cx="363.0" cy="321.2" r="1.45"/>
<circle cx="316.2" cy="359.7" r="1.45"/>
<circle cx="342.7" cy="343.8" r="1.45"/>
<circle cx="328.6" cy="354.6" r="1.45"/>
<circle cx="330.9" cy="343.3" r="1.45"/>
<circle cx="355.9" cy="331.3" r="1.45"/>
<circle cx="377.4" cy="319.1" r="1.45"/>
<circle cx="399.7" cy="298.0" r="1.45"/>
<circle cx="346.0" cy="341.0" r="1.45"/>
<circle cx="279.9" cy="377.9" r="1.45"/>
<circle cx="339.7" cy="327.1" r="1.45"/>
<circle cx="308.7" cy="345.8" r="1.45"/>
<circle cx="331.1" cy="341.0" r="1.45"/>
<circle cx="285.6" cy="372.4" r="1.45"/>
<circle cx="329.3" cy="342.4" r="1.45"/>
<circle cx="337.9" cy="350.4" r="1.45"/>
<circle cx="355.0" cy="326.9" r="1.45"/>
<circle cx="348.0" cy="328.8" r="1.45"/>
<circle cx="358.0" cy="330.3" r="1.45"/>
<circle cx="309.1" cy="369.4" r="1.45"/>
<circle cx="363.0" cy="322.0" r="1.45"/>
<circle cx="338.1" cy="345.2" r="1.45"/>
<circle cx="336.7" cy="342.7" r="1.45"/>
<circle cx="329.4" cy="352.3" r="1.45"/>
<circle cx="379.2" cy="315.9" r="1.45"/>
<circle cx="324.1" cy="359.9" r="1.45"/>
<circle cx="321.7" cy="346.6" r="1.45"/>
<circle cx="351.2" cy="335.8" r="1.45"/>
<circle cx="337.1" cy="344.8" r="1.45"/>
<circle cx="314.1" cy="346.9" r="1.45"/>
<circle cx="343.5" cy="320.8" r="1.45"/>
<circle cx="321.1" cy="353.2" r="1.45"/>
<circle cx="353.7" cy="334.5" r="1.45"/>
<circle cx="308.5" cy="366.6" r="1.45"/>
<circle cx="338.1" cy="339.5" r="1.45"/>
<circle cx="334.2" cy="337.1" r="1.45"/>
<circle cx="355.9" cy="329.1" r="1.45"/>
<circle cx="336.6" cy="344.7" r="1.45"/>
<circle cx="347.1" cy="330.0" r="1.45"/>
<circle cx="337.3" cy="339.2" r="1.45"/>
<circle cx="329.7" cy="357.3" r="1.45"/>
<circle cx="316.2" cy="349.6" r="1.45"/>
<circle cx="345.0" cy="326.4" r="1.45"/>
<circle cx="337.2" cy="336.3" r="1.45"/>
<circle cx="362.4" cy="320.3" r="1.45"/>
<circle cx="324.0" cy="351.8" r="1.45"/>
<circle cx="338.7" cy="348.8" r="1.45"/>
<circle cx="345.5" cy="330.2" r="1.45"/>
<circle cx="326.5" cy="334.6" r="1.45"/>
<circle cx="330.3" cy="348.2" r="1.45"/>
<circle cx="331.4" cy="351.2" r="1.45"/>
<circle cx="344.4" cy="338.1" r="1.45"/>
<circle cx="369.2" cy="319.1" r="1.45"/>
<circle cx="346.8" cy="338.5" r="1.45"/>
<circle cx="308.0" cy="360.7" r="1.45"/>
<circle cx="319.2" cy="346.4" r="1.45"/>
<circle cx="335.5" cy="331.5" r="1.45"/>
<circle cx="350.7" cy="328.4" r="1.45"/>
<circle cx="340.7" cy="339.0" r="1.45"/>
<circle cx="349.1" cy="328.8" r="1.45"/>
<circle cx="322.0" cy="348.1" r="1.45"/>
<circle cx="388.3" cy="312.8" r="1.45"/>
<circle cx="331.0" cy="351.3" r="1.45"/>
<circle cx="307.3" cy="351.8" r="1.45"/>
<circle cx="337.3" cy="340.3" r="1.45"/>
<circle cx="372.8" cy="303.1" r="1.45"/>
<circle cx="318.4" cy="346.1" r="1.45"/>
<circle cx="348.5" cy="332.9" r="1.45"/>
<circle cx="345.7" cy="337.7" r="1.45"/>
<circle cx="367.8" cy="319.9" r="1.45"/>
<circle cx="343.0" cy="330.0" r="1.45"/>
<circle cx="354.0" cy="329.2" r="1.45"/>
<circle cx="342.7" cy="326.5" r="1.45"/>
<circle cx="346.3" cy="337.8" r="1.45"/>
<circle cx="319.1" cy="355.9" r="1.45"/>
<circle cx="315.3" cy="354.9" r="1.45"/>
<circle cx="341.3" cy="355.0" r="1.45"/>
<circle cx="336.5" cy="338.2" r="1.45"/>
<circle cx="339.5" cy="348.1" r="1.45"/>
<circle cx="361.4" cy="333.2" r="1.45"/>
<circle cx="311.7" cy="365.6" r="1.45"/>
<circle cx="335.9" cy="336.2" r="1.45"/>
<circle cx="359.4" cy="327.8" r="1.45"/>
<circle cx="312.4" cy="362.1" r="1.45"/>
<circle cx="318.3" cy="355.1" r="1.45"/>
<circle cx="300.8" cy="363.5" r="1.45"/>
<circle cx="349.0" cy="336.6" r="1.45"/>
<circle cx="345.3" cy="344.6" r="1.45"/>
<circle cx="307.2" cy="365.1" r="1.45"/>
<circle cx="359.2" cy="322.0" r="1.45"/>
<circle cx="327.0" cy="339.9" r="1.45"/>
<circle cx="329.7" cy="336.1" r="1.45"/>
<circle cx="345.7" cy="340.8" r="1.45"/>
<circle cx="351.9" cy="339.4" r="1.45"/>
<circle cx="317.5" cy="364.9" r="1.45"/>
<circle cx="341.3" cy="340.5" r="1.45"/>
<circle cx="334.6" cy="347.1" r="1.45"/>
<circle cx="364.7" cy="329.2" r="1.45"/>
<circle cx="321.7" cy="342.8" r="1.45"/>
<circle cx="364.4" cy="323.9" r="1.45"/>
<circle cx="301.5" cy="368.2" r="1.45"/>
<circle cx="348.3" cy="335.8" r="1.45"/>
<circle cx="367.0" cy="334.7" r="1.45"/>
<circle cx="349.6" cy="339.7" r="1.45"/>
<circle cx="362.4" cy="328.1" r="1.45"/>
<circle cx="356.6" cy="335.7" r="1.45"/>
<circle cx="308.1" cy="368.0" r="1.45"/>
<circle cx="324.0" cy="357.9" r="1.45"/>
<circle cx="360.0" cy="319.2" r="1.45"/>
<circle cx="341.5" cy="347.5" r="1.45"/>
<circle cx="333.8" cy="349.6" r="1.45"/>
<circle cx="365.0" cy="323.7" r="1.45"/>
<circle cx="345.8" cy="340.3" r="1.45"/>
<circle cx="296.1" cy="372.7" r="1.45"/>
<circle cx="313.9" cy="353.8" r="1.45"/>
<circle cx="338.0" cy="347.9" r="1.45"/>
<circle cx="328.4" cy="336.5" r="1.45"/>
<circle cx="317.0" cy="361.3" r="1.45"/>
<circle cx="331.6" cy="351.0" r="1.45"/>
<circle cx="327.6" cy="344.5" r="1.45"/>
<circle cx="370.6" cy="335.6" r="1.45"/>
<circle cx="335.7" cy="343.1" r="1.45"/>
<circle cx="334.4" cy="345.6" r="1.45"/>
<circle cx="329.3" cy="340.0" r="1.45"/>
<circle cx="326.9" cy="349.7" r="1.45"/>
<circle cx="336.1" cy="342.4" r="1.45"/>
<circle cx="332.7" cy="338.0" r="1.45"/>
<circle cx="335.9" cy="342.1" r="1.45"/>
<circle cx="335.1" cy="351.1" r="1.45"/>
<circle cx="319.6" cy="360.7" r="1.45"/>
<circle cx="339.9" cy="346.1" r="1.45"/>
<circle cx="315.0" cy="354.1" r="1.45"/>
<circle cx="346.6" cy="349.8" r="1.45"/>
<circle cx="369.7" cy="322.9" r="1.45"/>
<circle cx="334.0" cy="336.7" r="1.45"/>
<circle cx="337.5" cy="346.8" r="1.45"/>
<circle cx="379.8" cy="325.0" r="1.45"/>
<circle cx="334.2" cy="338.2" r="1.45"/>
<circle cx="314.8" cy="356.7" r="1.45"/>
<circle cx="343.8" cy="321.2" r="1.45"/>
<circle cx="318.3" cy="354.2" r="1.45"/>
<circle cx="349.2" cy="334.8" r="1.45"/>
<circle cx="312.2" cy="354.5" r="1.45"/>
<circle cx="338.3" cy="338.7" r="1.45"/>
<circle cx="358.6" cy="322.4" r="1.45"/>
<circle cx="344.2" cy="336.1" r="1.45"/>
<circle cx="314.3" cy="357.2" r="1.45"/>
<circle cx="340.5" cy="343.5" r="1.45"/>
<circle cx="338.1" cy="348.1" r="1.45"/>
<circle cx="366.6" cy="309.4" r="1.45"/>
<circle cx="328.4" cy="344.9" r="1.45"/>
<circle cx="331.5" cy="336.8" r="1.45"/>
<circle cx="344.8" cy="337.5" r="1.45"/>
<circle cx="331.7" cy="345.0" r="1.45"/>
<circle cx="316.2" cy="350.2" r="1.45"/>
<circle cx="321.9" cy="347.8" r="1.45"/>
<circle cx="338.7" cy="333.7" r="1.45"/>
<circle cx="335.8" cy="336.0" r="1.45"/>
<circle cx="317.8" cy="349.8" r="1.45"/>
<circle cx="331.7" cy="344.5" r="1.45"/>
<circle cx="337.5" cy="335.6" r="1.45"/>
<circle cx="295.9" cy="364.9" r="1.45"/>
<circle cx="306.4" cy="352.2" r="1.45"/>
<circle cx="296.9" cy="373.9" r="1.45"/>
<circle cx="302.8" cy="351.2" r="1.45"/>
<circle cx="310.5" cy="357.7" r="1.45"/>
<circle cx="325.4" cy="362.7" r="1.45"/>
<circle cx="329.4" cy="342.4" r="1.45"/>
<circle cx="332.4" cy="338.6" r="1.45"/>
<circle cx="328.9" cy="347.5" r="1.45"/>
<circle cx="328.5" cy="345.3" r="1.45"/>
<circle cx="373.9" cy="318.0" r="1.45"/>
<circle cx="340.0" cy="345.4" r="1.45"/>
<circle cx="321.1" cy="341.6" r="1.45"/>
<circle cx="314.0" cy="363.1" r="1.45"/>
<circle cx="334.2" cy="347.5" r="1.45"/>
<circle cx="375.0" cy="337.2" r="1.45"/>
<circle cx="343.3" cy="333.8" r="1.45"/>
<circle cx="313.8" cy="361.2" r="1.45"/>
<circle cx="344.7" cy="326.3" r="1.45"/>
<circle cx="317.8" cy="365.6" r="1.45"/>
<circle cx="355.5" cy="320.6" r="1.45"/>
<circle cx="329.4" cy="363.3" r="1.45"/>
<circle cx="365.0" cy="327.4" r="1.45"/>
<circle cx="358.5" cy="330.2" r="1.45"/>
<circle cx="328.6" cy="351.0" r="1.45"/>
<circle cx="365.4" cy="315.3" r="1.45"/>
<circle cx="293.6" cy="375.4" r="1.45"/>
<circle cx="371.5" cy="324.8" r="1.45"/>
<circle cx="309.0" cy="359.4" r="1.45"/>
<circle cx="334.0" cy="345.2" r="1.45"/>
<circle cx="326.6" cy="351.2" r="1.45"/>
<circle cx="327.0" cy="346.2" r="1.45"/>
<circle cx="319.9" cy="355.0" r="1.45"/>
<circle cx="333.2" cy="335.5" r="1.45"/>
<circle cx="343.5" cy="339.6" r="1.45"/>
<circle cx="346.8" cy="333.9" r="1.45"/>
<circle cx="357.8" cy="326.6" r="1.45"/>
<circle cx="371.8" cy="312.2" r="1.45"/>
<circle cx="335.3" cy="346.7" r="1.45"/>
<circle cx="353.7" cy="329.0" r="1.45"/>
<circle cx="334.2" cy="355.1" r="1.45"/>
<circle cx="299.6" cy="362.5" r="1.45"/>
<circle cx="351.4" cy="328.2" r="1.45"/>
<circle cx="310.5" cy="351.0" r="1.45"/>
<circle cx="325.5" cy="346.7" r="1.45"/>
<circle cx="344.4" cy="344.1" r="1.45"/>
<circle cx="324.3" cy="365.3" r="1.45"/>
<circle cx="317.9" cy="367.2" r="1.45"/>
<circle cx="344.8" cy="337.6" r="1.45"/>
<circle cx="354.3" cy="329.8" r="1.45"/>
<circle cx="323.5" cy="348.3" r="1.45"/>
<circle cx="328.3" cy="343.4" r="1.45"/>
<circle cx="342.4" cy="346.7" r="1.45"/>
<circle cx="336.2" cy="342.8" r="1.45"/>
<circle cx="330.0" cy="340.4" r="1.45"/>
<circle cx="370.2" cy="325.6" r="1.45"/>
<circle cx="329.1" cy="363.7" r="1.45"/>
<circle cx="333.5" cy="347.9" r="1.45"/>
<circle cx="293.1" cy="366.8" r="1.45"/>
<circle cx="347.9" cy="341.5" r="1.45"/>
<circle cx="328.7" cy="354.7" r="1.45"/>
<circle cx="351.3" cy="345.2" r="1.45"/>
<circle cx="329.9" cy="332.8" r="1.45"/>
<circle cx="337.1" cy="339.2" r="1.45"/>
<circle cx="333.2" cy="353.5" r="1.45"/>
<circle cx="335.5" cy="340.7" r="1.45"/>
<circle cx="315.8" cy="352.9" r="1.45"/>
<circle cx="360.9" cy="320.7" r="1.45"/>
<circle cx="304.6" cy="369.1" r="1.45"/>
<circle cx="304.0" cy="354.6" r="1.45"/>
<circle cx="348.3" cy="330.9" r="1.45"/>
<circle cx="318.6" cy="362.1" r="1.45"/>
<circle cx="337.6" cy="341.6" r="1.45"/>
<circle cx="319.1" cy="352.3" r="1.45"/>
<circle cx="348.9" cy="333.9" r="1.45"/>
<circle cx="315.4" cy="370.9" r="1.45"/>
<circle cx="331.0" cy="345.1" r="1.45"/>
<circle cx="330.9" cy="349.4" r="1.45"/>
<circle cx="322.4" cy="346.2" r="1.45"/>
<circle cx="335.1" cy="343.0" r="1.45"/>
<circle cx="316.8" cy="359.3" r="1.45"/>
<circle cx="339.4" cy="348.6" r="1.45"/>
<circle cx="311.0" cy="360.6" r="1.45"/>
<circle cx="360.0" cy="327.6" r="1.45"/>
<circle cx="365.2" cy="326.9" r="1.45"/>
<circle cx="329.9" cy="357.0" r="1.45"/>
<circle cx="324.6" cy="339.6" r="1.45"/>
<circle cx="342.6" cy="334.0" r="1.45"/>
<circle cx="350.1" cy="334.9" r="1.45"/>
<circle cx="332.0" cy="344.8" r="1.45"/>
<circle cx="349.5" cy="331.9" r="1.45"/>
<circle cx="345.9" cy="336.3" r="1.45"/>
<circle cx="320.8" cy="354.3" r="1.45"/>
<circle cx="317.4" cy="347.1" r="1.45"/>
<circle cx="294.3" cy="369.8" r="1.45"/>
<circle cx="383.6" cy="317.4" r="1.45"/>
<circle cx="313.5" cy="356.8" r="1.45"/>
<circle cx="361.8" cy="329.1" r="1.45"/>
<circle cx="348.3" cy="335.2" r="1.45"/>
<circle cx="328.7" cy="324.8" r="1.45"/>
<circle cx="337.5" cy="346.3" r="1.45"/>
<circle cx="326.4" cy="346.3" r="1.45"/>
<circle cx="344.3" cy="332.8" r="1.45"/>
<circle cx="338.9" cy="352.0" r="1.45"/>
<circle cx="346.7" cy="339.2" r="1.45"/>
<circle cx="330.4" cy="357.4" r="1.45"/>
<circle cx="324.7" cy="355.3" r="1.45"/>
<circle cx="335.4" cy="354.2" r="1.45"/>
<circle cx="337.1" cy="341.7" r="1.45"/>
<circle cx="313.8" cy="361.1" r="1.45"/>
<circle cx="319.0" cy="346.8" r="1.45"/>
<circle cx="285.8" cy="375.7" r="1.45"/>
<circle cx="303.1" cy="366.1" r="1.45"/>
<circle cx="353.0" cy="337.8" r="1.45"/>
<circle cx="338.9" cy="347.7" r="1.45"/>
<circle cx="374.7" cy="313.6" r="1.45"/>
<circle cx="358.5" cy="339.5" r="1.45"/>
<circle cx="314.2" cy="348.5" r="1.45"/>
<circle cx="332.2" cy="347.4" r="1.45"/>
<circle cx="342.8" cy="348.4" r="1.45"/>
<circle cx="351.5" cy="333.9" r="1.45"/>
<circle cx="345.6" cy="342.4" r="1.45"/>
<circle cx="346.3" cy="342.3" r="1.45"/>
<circle cx="355.1" cy="323.7" r="1.45"/>
<circle cx="354.3" cy="328.6" r="1.45"/>
<circle cx="348.7" cy="355.4" r="1.45"/>
<circle cx="352.7" cy="335.3" r="1.45"/>
<circle cx="338.0" cy="344.2" r="1.45"/>
<circle cx="308.4" cy="363.7" r="1.45"/>
<circle cx="349.2" cy="325.1" r="1.45"/>
<circle cx="323.7" cy="357.2" r="1.45"/>
<circle cx="365.0" cy="332.4" r="1.45"/>
<circle cx="377.4" cy="318.2" r="1.45"/>
<circle cx="318.5" cy="346.6" r="1.45"/>
<circle cx="369.8" cy="333.5" r="1.45"/>
<circle cx="367.1" cy="326.8" r="1.45"/>
<circle cx="365.7" cy="328.3" r="1.45"/>
<circle cx="304.7" cy="358.3" r="1.45"/>
<circle cx="354.5" cy="317.0" r="1.45"/>
<circle cx="370.4" cy="317.7" r="1.45"/>
<circle cx="331.4" cy="349.8" r="1.45"/>
<circle cx="330.2" cy="352.8" r="1.45"/>
<circle cx="330.6" cy="365.0" r="1.45"/>
<circle cx="339.7" cy="341.3" r="1.45"/>
<circle cx="387.2" cy="307.2" r="1.45"/>
<circle cx="326.6" cy="344.8" r="1.45"/>
<circle cx="311.7" cy="362.2" r="1.45"/>
<circle cx="298.9" cy="355.0" r="1.45"/>
<circle cx="347.9" cy="344.7" r="1.45"/>
<circle cx="334.9" cy="337.0" r="1.45"/>
<circle cx="346.0" cy="334.6" r="1.45"/>
<circle cx="319.0" cy="358.0" r="1.45"/>
<circle cx="338.0" cy="335.4" r="1.45"/>
<circle cx="319.6" cy="361.2" r="1.45"/>
<circle cx="358.9" cy="336.4" r="1.45"/>
<circle cx="357.5" cy="328.7" r="1.45"/>
<circle cx="353.6" cy="320.1" r="1.45"/>
<circle cx="349.8" cy="329.4" r="1.45"/>
<circle cx="317.8" cy="359.2" r="1.45"/>
<circle cx="348.9" cy="324.4" r="1.45"/>
<circle cx="363.8" cy="309.9" r="1.45"/>
<circle cx="342.3" cy="338.1" r="1.45"/>
<circle cx="356.1" cy="331.1" r="1.45"/>
<circle cx="334.9" cy="351.6" r="1.45"/>
<circle cx="355.8" cy="339.2" r="1.45"/>
<circle cx="346.3" cy="347.5" r="1.45"/>
<circle cx="357.9" cy="337.7" r="1.45"/>
<circle cx="352.9" cy="344.8" r="1.45"/>
<circle cx="327.4" cy="339.9" r="1.45"/>
<circle cx="320.1" cy="352.3" r="1.45"/>
</g>
<path d="M242.2 399.2L453.6 273.0" stroke="#3a5592" stroke-width="1.25" stroke-dasharray="1.8 2.1"/>
</g>
<text x="356.6" y="379.3" font-family="Liberation Sans" font-size="13.2" font-weight="normal" text-anchor="start" fill="#000" textLength="50.1" lengthAdjust="spacingAndGlyphs" stroke="#000" stroke-width="0.3">r = 0.906</text>
<text x="342.0" y="277.9" font-family="Liberation Sans" font-size="14" font-weight="normal" text-anchor="middle" fill="#000" textLength="40.2" lengthAdjust="spacingAndGlyphs" stroke="#000" stroke-width="0.35">MCAR</text>
<text x="353.4" y="420.8" font-family="Liberation Sans" font-size="12.5" font-weight="normal" text-anchor="middle" fill="#000" textLength="75.8" lengthAdjust="spacingAndGlyphs" stroke="#000" stroke-width="0.3">Ground-truth</text>
<path d="M467.4 284.75H619V389.3H467.4Z" fill="none" stroke="#333" stroke-width="1.2"/>
<path d="M461.9 298.4H467.4" stroke="#333" stroke-width="1"/>
<g transform="translate(451.8 298.4) rotate(-90) scale(1 1.14)"><text x="0.0" y="0.0" font-family="Liberation Sans" font-size="8.3" font-weight="normal" text-anchor="middle" fill="#000" dominant-baseline="central" stroke="#000" stroke-width="0.22">2</text></g>
<path d="M461.9 314.9H467.4" stroke="#333" stroke-width="1"/>
<g transform="translate(451.8 314.9) rotate(-90) scale(1 1.14)"><text x="0.0" y="0.0" font-family="Liberation Sans" font-size="8.3" font-weight="normal" text-anchor="middle" fill="#000" dominant-baseline="central" stroke="#000" stroke-width="0.22">1</text></g>
<path d="M461.9 331.4H467.4" stroke="#333" stroke-width="1"/>
<g transform="translate(451.8 331.4) rotate(-90) scale(1 1.14)"><text x="0.0" y="0.0" font-family="Liberation Sans" font-size="8.3" font-weight="normal" text-anchor="middle" fill="#000" dominant-baseline="central" stroke="#000" stroke-width="0.22">0</text></g>
<path d="M461.9 347.9H467.4" stroke="#333" stroke-width="1"/>
<g transform="translate(451.8 347.9) rotate(-90) scale(1 1.14)"><text x="0.0" y="0.0" font-family="Liberation Sans" font-size="8.3" font-weight="normal" text-anchor="middle" fill="#000" dominant-baseline="central" stroke="#000" stroke-width="0.22">&#8722;1</text></g>
<path d="M461.9 364.4H467.4" stroke="#333" stroke-width="1"/>
<g transform="translate(451.8 364.4) rotate(-90) scale(1 1.14)"><text x="0.0" y="0.0" font-family="Liberation Sans" font-size="8.3" font-weight="normal" text-anchor="middle" fill="#000" dominant-baseline="central" stroke="#000" stroke-width="0.22">&#8722;2</text></g>
<path d="M461.9 380.9H467.4" stroke="#333" stroke-width="1"/>
<g transform="translate(451.8 380.9) rotate(-90) scale(1 1.14)"><text x="0.0" y="0.0" font-family="Liberation Sans" font-size="8.3" font-weight="normal" text-anchor="middle" fill="#000" dominant-baseline="central" stroke="#000" stroke-width="0.22">&#8722;3</text></g>
<path d="M480.0 389.3V393.8" stroke="#333" stroke-width="1"/>
<g transform="translate(480.0 408.0) scale(1.14 1)"><text x="0.0" y="0.0" font-family="Liberation Sans" font-size="8.3" font-weight="normal" text-anchor="middle" fill="#000" stroke="#000" stroke-width="0.22">&#8722;3</text></g>
<path d="M500.5 389.3V393.8" stroke="#333" stroke-width="1"/>
<g transform="translate(500.5 408.0) scale(1.14 1)"><text x="0.0" y="0.0" font-family="Liberation Sans" font-size="8.3" font-weight="normal" text-anchor="middle" fill="#000" stroke="#000" stroke-width="0.22">&#8722;2</text></g>
<path d="M521.0 389.3V393.8" stroke="#333" stroke-width="1"/>
<g transform="translate(521.0 408.0) scale(1.14 1)"><text x="0.0" y="0.0" font-family="Liberation Sans" font-size="8.3" font-weight="normal" text-anchor="middle" fill="#000" stroke="#000" stroke-width="0.22">&#8722;1</text></g>
<path d="M541.5 389.3V393.8" stroke="#333" stroke-width="1"/>
<g transform="translate(541.5 408.0) scale(1.14 1)"><text x="0.0" y="0.0" font-family="Liberation Sans" font-size="8.3" font-weight="normal" text-anchor="middle" fill="#000" stroke="#000" stroke-width="0.22">0</text></g>
<path d="M562.0 389.3V393.8" stroke="#333" stroke-width="1"/>
<g transform="translate(562.0 408.0) scale(1.14 1)"><text x="0.0" y="0.0" font-family="Liberation Sans" font-size="8.3" font-weight="normal" text-anchor="middle" fill="#000" stroke="#000" stroke-width="0.22">1</text></g>
<path d="M582.5 389.3V393.8" stroke="#333" stroke-width="1"/>
<g transform="translate(582.5 408.0) scale(1.14 1)"><text x="0.0" y="0.0" font-family="Liberation Sans" font-size="8.3" font-weight="normal" text-anchor="middle" fill="#000" stroke="#000" stroke-width="0.22">2</text></g>
<path d="M603.0 389.3V393.8" stroke="#333" stroke-width="1"/>
<g transform="translate(603.0 408.0) scale(1.14 1)"><text x="0.0" y="0.0" font-family="Liberation Sans" font-size="8.3" font-weight="normal" text-anchor="middle" fill="#000" stroke="#000" stroke-width="0.22">3</text></g>
<clipPath id="c467"><rect x="467.4" y="284.75" width="151.60000000000002" height="104.55000000000001"/></clipPath>
<g clip-path="url(#c467)">
<g fill="#ffa500">
<circle cx="495.3" cy="383.8" r="1.45"/>
<circle cx="499.0" cy="358.5" r="1.45"/>
<circle cx="570.3" cy="305.1" r="1.45"/>
<circle cx="566.2" cy="321.1" r="1.45"/>
<circle cx="543.1" cy="335.0" r="1.45"/>
<circle cx="532.4" cy="318.7" r="1.45"/>
<circle cx="520.9" cy="339.9" r="1.45"/>
<circle cx="507.7" cy="372.0" r="1.45"/>
<circle cx="521.1" cy="341.2" r="1.45"/>
<circle cx="590.3" cy="292.0" r="1.45"/>
<circle cx="523.4" cy="347.2" r="1.45"/>
<circle cx="587.4" cy="319.8" r="1.45"/>
<circle cx="565.5" cy="321.0" r="1.45"/>
<circle cx="527.5" cy="339.3" r="1.45"/>
<circle cx="557.3" cy="305.1" r="1.45"/>
<circle cx="524.4" cy="336.4" r="1.45"/>
<circle cx="606.1" cy="287.0" r="1.45"/>
<circle cx="484.0" cy="376.5" r="1.45"/>
<circle cx="603.4" cy="282.0" r="1.45"/>
<circle cx="562.0" cy="312.8" r="1.45"/>
<circle cx="549.5" cy="314.4" r="1.45"/>
<circle cx="564.4" cy="336.7" r="1.45"/>
<circle cx="563.8" cy="315.1" r="1.45"/>
<circle cx="484.1" cy="375.4" r="1.45"/>
<circle cx="511.5" cy="358.4" r="1.45"/>
<circle cx="501.1" cy="364.2" r="1.45"/>
<circle cx="534.0" cy="342.6" r="1.45"/>
<circle cx="542.2" cy="337.4" r="1.45"/>
<circle cx="571.4" cy="322.8" r="1.45"/>
<circle cx="554.2" cy="327.4" r="1.45"/>
<circle cx="536.9" cy="331.2" r="1.45"/>
<circle cx="556.9" cy="311.0" r="1.45"/>
<circle cx="548.0" cy="327.5" r="1.45"/>
<circle cx="591.4" cy="280.6" r="1.45"/>
<circle cx="564.4" cy="302.6" r="1.45"/>
<circle cx="511.6" cy="369.7" r="1.45"/>
<circle cx="519.2" cy="346.5" r="1.45"/>
<circle cx="509.5" cy="353.9" r="1.45"/>
<circle cx="566.3" cy="308.4" r="1.45"/>
<circle cx="500.9" cy="351.7" r="1.45"/>
<circle cx="584.3" cy="303.4" r="1.45"/>
<circle cx="538.0" cy="325.8" r="1.45"/>
<circle cx="584.9" cy="314.5" r="1.45"/>
<circle cx="544.3" cy="324.4" r="1.45"/>
<circle cx="544.8" cy="338.7" r="1.45"/>
<circle cx="552.1" cy="333.5" r="1.45"/>
<circle cx="595.9" cy="284.3" r="1.45"/>
<circle cx="482.5" cy="380.1" r="1.45"/>
<circle cx="603.3" cy="281.1" r="1.45"/>
<circle cx="477.2" cy="379.3" r="1.45"/>
<circle cx="553.1" cy="320.7" r="1.45"/>
<circle cx="551.0" cy="327.6" r="1.45"/>
<circle cx="476.0" cy="393.0" r="1.45"/>
<circle cx="508.5" cy="345.2" r="1.45"/>
<circle cx="522.4" cy="335.0" r="1.45"/>
<circle cx="529.3" cy="339.4" r="1.45"/>
<circle cx="532.7" cy="338.6" r="1.45"/>
<circle cx="522.9" cy="351.0" r="1.45"/>
<circle cx="519.8" cy="354.9" r="1.45"/>
<circle cx="609.0" cy="289.8" r="1.45"/>
<circle cx="592.9" cy="304.6" r="1.45"/>
<circle cx="487.7" cy="371.9" r="1.45"/>
<circle cx="595.3" cy="282.0" r="1.45"/>
<circle cx="488.4" cy="373.9" r="1.45"/>
<circle cx="570.9" cy="306.2" r="1.45"/>
<circle cx="542.6" cy="326.5" r="1.45"/>
<circle cx="517.6" cy="354.9" r="1.45"/>
<circle cx="561.1" cy="311.5" r="1.45"/>
<circle cx="485.5" cy="373.0" r="1.45"/>
<circle cx="522.2" cy="333.4" r="1.45"/>
<circle cx="555.5" cy="310.2" r="1.45"/>
<circle cx="511.9" cy="355.1" r="1.45"/>
<circle cx="597.5" cy="292.3" r="1.45"/>
<circle cx="600.1" cy="274.4" r="1.45"/>
<circle cx="562.5" cy="323.5" r="1.45"/>
<circle cx="512.0" cy="337.4" r="1.45"/>
<circle cx="596.9" cy="280.2" r="1.45"/>
<circle cx="485.7" cy="375.8" r="1.45"/>
<circle cx="503.1" cy="360.2" r="1.45"/>
<circle cx="552.6" cy="315.9" r="1.45"/>
<circle cx="573.7" cy="316.8" r="1.45"/>
<circle cx="525.1" cy="351.3" r="1.45"/>
<circle cx="599.1" cy="281.8" r="1.45"/>
<circle cx="499.7" cy="359.2" r="1.45"/>
<circle cx="507.9" cy="352.5" r="1.45"/>
<circle cx="521.1" cy="324.7" r="1.45"/>
<circle cx="544.0" cy="327.5" r="1.45"/>
<circle cx="604.9" cy="288.4" r="1.45"/>
<circle cx="552.1" cy="315.1" r="1.45"/>
<circle cx="494.8" cy="360.5" r="1.45"/>
<circle cx="565.3" cy="317.2" r="1.45"/>
<circle cx="569.9" cy="317.4" r="1.45"/>
<circle cx="566.5" cy="309.5" r="1.45"/>
<circle cx="579.5" cy="306.3" r="1.45"/>
<circle cx="592.2" cy="299.9" r="1.45"/>
<circle cx="569.9" cy="315.1" r="1.45"/>
<circle cx="575.9" cy="295.9" r="1.45"/>
<circle cx="563.5" cy="316.3" r="1.45"/>
<circle cx="585.1" cy="297.5" r="1.45"/>
<circle cx="589.5" cy="306.5" r="1.45"/>
<circle cx="566.8" cy="322.2" r="1.45"/>
<circle cx="571.2" cy="322.4" r="1.45"/>
<circle cx="566.0" cy="312.5" r="1.45"/>
<circle cx="567.7" cy="316.7" r="1.45"/>
<circle cx="588.7" cy="312.0" r="1.45"/>
<circle cx="585.7" cy="282.2" r="1.45"/>
<circle cx="568.9" cy="310.7" r="1.45"/>
<circle cx="578.2" cy="310.0" r="1.45"/>
<circle cx="562.8" cy="308.2" r="1.45"/>
<circle cx="563.0" cy="312.4" r="1.45"/>
<circle cx="578.5" cy="301.5" r="1.45"/>
<circle cx="590.3" cy="284.4" r="1.45"/>
<circle cx="574.2" cy="308.7" r="1.45"/>
<circle cx="575.2" cy="300.9" r="1.45"/>
<circle cx="579.5" cy="309.9" r="1.45"/>
<circle cx="580.3" cy="310.9" r="1.45"/>
<circle cx="580.9" cy="309.9" r="1.45"/>
<circle cx="563.4" cy="313.2" r="1.45"/>
<circle cx="588.6" cy="296.5" r="1.45"/>
<circle cx="567.4" cy="316.0" r="1.45"/>
<circle cx="576.3" cy="302.7" r="1.45"/>
<circle cx="565.8" cy="305.2" r="1.45"/>
<circle cx="563.8" cy="324.9" r="1.45"/>
<circle cx="568.6" cy="306.7" r="1.45"/>
<circle cx="583.3" cy="293.7" r="1.45"/>
<circle cx="582.4" cy="298.7" r="1.45"/>
<circle cx="578.1" cy="300.4" r="1.45"/>
<circle cx="592.4" cy="296.1" r="1.45"/>
<circle cx="594.2" cy="301.3" r="1.45"/>
<circle cx="568.9" cy="302.9" r="1.45"/>
<circle cx="576.7" cy="311.2" r="1.45"/>
<circle cx="574.4" cy="302.8" r="1.45"/>
<circle cx="583.7" cy="289.6" r="1.45"/>
<circle cx="590.5" cy="287.3" r="1.45"/>
<circle cx="568.8" cy="309.7" r="1.45"/>
<circle cx="569.1" cy="309.4" r="1.45"/>
<circle cx="559.7" cy="309.6" r="1.45"/>
<circle cx="585.0" cy="289.6" r="1.45"/>
<circle cx="573.6" cy="315.0" r="1.45"/>
<circle cx="558.5" cy="329.3" r="1.45"/>
<circle cx="590.2" cy="293.1" r="1.45"/>
<circle cx="581.8" cy="297.4" r="1.45"/>
<circle cx="573.3" cy="307.6" r="1.45"/>
<circle cx="567.0" cy="311.9" r="1.45"/>
<circle cx="559.9" cy="320.8" r="1.45"/>
<circle cx="559.0" cy="316.7" r="1.45"/>
<circle cx="584.6" cy="310.9" r="1.45"/>
<circle cx="576.8" cy="301.5" r="1.45"/>
<circle cx="563.8" cy="307.9" r="1.45"/>
<circle cx="562.5" cy="311.9" r="1.45"/>
<circle cx="585.6" cy="306.2" r="1.45"/>
<circle cx="593.0" cy="296.6" r="1.45"/>
<circle cx="577.4" cy="303.0" r="1.45"/>
<circle cx="576.4" cy="306.5" r="1.45"/>
<circle cx="559.6" cy="316.1" r="1.45"/>
<circle cx="587.0" cy="295.3" r="1.45"/>
<circle cx="578.1" cy="311.8" r="1.45"/>
<circle cx="572.8" cy="304.9" r="1.45"/>
<circle cx="581.0" cy="284.9" r="1.45"/>
<circle cx="591.0" cy="297.7" r="1.45"/>
<circle cx="585.3" cy="303.3" r="1.45"/>
<circle cx="541.8" cy="329.1" r="1.45"/>
<circle cx="525.5" cy="341.9" r="1.45"/>
<circle cx="576.9" cy="299.4" r="1.45"/>
<circle cx="556.6" cy="316.3" r="1.45"/>
<circle cx="547.6" cy="320.8" r="1.45"/>
<circle cx="542.9" cy="332.4" r="1.45"/>
<circle cx="547.4" cy="321.2" r="1.45"/>
<circle cx="551.4" cy="319.7" r="1.45"/>
<circle cx="510.3" cy="346.6" r="1.45"/>
<circle cx="586.4" cy="290.1" r="1.45"/>
<circle cx="540.1" cy="337.0" r="1.45"/>
<circle cx="550.4" cy="330.2" r="1.45"/>
<circle cx="558.2" cy="321.8" r="1.45"/>
<circle cx="562.3" cy="307.6" r="1.45"/>
<circle cx="510.2" cy="352.1" r="1.45"/>
<circle cx="533.4" cy="345.2" r="1.45"/>
<circle cx="534.8" cy="337.1" r="1.45"/>
<circle cx="563.6" cy="323.7" r="1.45"/>
<circle cx="563.9" cy="302.5" r="1.45"/>
<circle cx="556.0" cy="317.0" r="1.45"/>
<circle cx="545.4" cy="335.1" r="1.45"/>
<circle cx="554.9" cy="318.8" r="1.45"/>
<circle cx="558.3" cy="303.3" r="1.45"/>
<circle cx="558.3" cy="316.1" r="1.45"/>
<circle cx="572.8" cy="316.0" r="1.45"/>
<circle cx="525.7" cy="344.7" r="1.45"/>
<circle cx="534.2" cy="332.1" r="1.45"/>
<circle cx="540.1" cy="321.6" r="1.45"/>
<circle cx="572.1" cy="303.9" r="1.45"/>
<circle cx="538.9" cy="329.2" r="1.45"/>
<circle cx="559.7" cy="323.9" r="1.45"/>
<circle cx="551.7" cy="319.3" r="1.45"/>
<circle cx="549.4" cy="315.8" r="1.45"/>
<circle cx="566.8" cy="317.3" r="1.45"/>
<circle cx="547.8" cy="331.3" r="1.45"/>
<circle cx="555.7" cy="325.7" r="1.45"/>
<circle cx="561.7" cy="313.8" r="1.45"/>
<circle cx="562.5" cy="316.4" r="1.45"/>
<circle cx="520.2" cy="336.0" r="1.45"/>
<circle cx="542.6" cy="321.9" r="1.45"/>
<circle cx="553.1" cy="318.4" r="1.45"/>
<circle cx="577.5" cy="302.5" r="1.45"/>
<circle cx="570.0" cy="318.8" r="1.45"/>
<circle cx="560.8" cy="318.2" r="1.45"/>
<circle cx="543.3" cy="329.6" r="1.45"/>
<circle cx="551.6" cy="313.6" r="1.45"/>
<circle cx="513.3" cy="351.3" r="1.45"/>
<circle cx="533.1" cy="330.1" r="1.45"/>
<circle cx="538.2" cy="330.6" r="1.45"/>
<circle cx="538.7" cy="329.0" r="1.45"/>
<circle cx="563.3" cy="317.3" r="1.45"/>
<circle cx="546.5" cy="335.7" r="1.45"/>
<circle cx="550.9" cy="318.9" r="1.45"/>
<circle cx="535.9" cy="328.3" r="1.45"/>
<circle cx="509.5" cy="365.4" r="1.45"/>
<circle cx="521.4" cy="348.5" r="1.45"/>
<circle cx="545.9" cy="328.1" r="1.45"/>
<circle cx="544.4" cy="324.5" r="1.45"/>
<circle cx="537.4" cy="341.4" r="1.45"/>
<circle cx="523.9" cy="331.2" r="1.45"/>
<circle cx="504.6" cy="359.0" r="1.45"/>
<circle cx="571.0" cy="306.4" r="1.45"/>
<circle cx="531.1" cy="338.5" r="1.45"/>
<circle cx="560.7" cy="309.7" r="1.45"/>
<circle cx="529.9" cy="334.9" r="1.45"/>
<circle cx="550.0" cy="318.1" r="1.45"/>
<circle cx="569.8" cy="312.2" r="1.45"/>
<circle cx="520.3" cy="344.1" r="1.45"/>
<circle cx="576.6" cy="301.2" r="1.45"/>
<circle cx="549.6" cy="310.7" r="1.45"/>
<circle cx="527.5" cy="335.8" r="1.45"/>
<circle cx="535.7" cy="334.9" r="1.45"/>
<circle cx="547.2" cy="317.8" r="1.45"/>
<circle cx="529.3" cy="343.0" r="1.45"/>
<circle cx="517.8" cy="345.3" r="1.45"/>
<circle cx="537.6" cy="331.2" r="1.45"/>
<circle cx="526.9" cy="343.7" r="1.45"/>
<circle cx="563.7" cy="315.7" r="1.45"/>
<circle cx="556.5" cy="316.8" r="1.45"/>
<circle cx="539.4" cy="341.7" r="1.45"/>
<circle cx="562.8" cy="314.3" r="1.45"/>
<circle cx="562.7" cy="327.3" r="1.45"/>
<circle cx="516.8" cy="361.7" r="1.45"/>
<circle cx="530.3" cy="332.9" r="1.45"/>
<circle cx="555.5" cy="320.9" r="1.45"/>
<circle cx="547.9" cy="321.7" r="1.45"/>
<circle cx="540.3" cy="329.4" r="1.45"/>
<circle cx="548.0" cy="339.1" r="1.45"/>
<circle cx="538.9" cy="324.7" r="1.45"/>
<circle cx="538.7" cy="333.8" r="1.45"/>
<circle cx="535.0" cy="338.5" r="1.45"/>
<circle cx="565.2" cy="315.1" r="1.45"/>
<circle cx="527.8" cy="359.4" r="1.45"/>
<circle cx="535.6" cy="346.9" r="1.45"/>
<circle cx="513.8" cy="346.5" r="1.45"/>
<circle cx="557.9" cy="330.2" r="1.45"/>
<circle cx="560.4" cy="314.3" r="1.45"/>
<circle cx="531.9" cy="333.5" r="1.45"/>
<circle cx="517.3" cy="355.8" r="1.45"/>
<circle cx="520.5" cy="352.9" r="1.45"/>
<circle cx="560.9" cy="324.6" r="1.45"/>
<circle cx="525.5" cy="348.2" r="1.45"/>
<circle cx="549.0" cy="327.4" r="1.45"/>
<circle cx="560.6" cy="321.1" r="1.45"/>
<circle cx="523.1" cy="347.4" r="1.45"/>
<circle cx="546.2" cy="333.0" r="1.45"/>
<circle cx="550.4" cy="313.6" r="1.45"/>
<circle cx="535.4" cy="335.2" r="1.45"/>
<circle cx="569.0" cy="314.7" r="1.45"/>
<circle cx="530.6" cy="345.4" r="1.45"/>
<circle cx="552.3" cy="320.0" r="1.45"/>
<circle cx="542.8" cy="329.8" r="1.45"/>
<circle cx="567.5" cy="306.8" r="1.45"/>
<circle cx="520.9" cy="346.2" r="1.45"/>
<circle cx="547.1" cy="322.7" r="1.45"/>
<circle cx="541.3" cy="335.0" r="1.45"/>
<circle cx="537.2" cy="344.8" r="1.45"/>
<circle cx="544.7" cy="332.3" r="1.45"/>
<circle cx="553.2" cy="328.6" r="1.45"/>
<circle cx="537.5" cy="339.8" r="1.45"/>
<circle cx="526.5" cy="337.9" r="1.45"/>
<circle cx="536.9" cy="331.8" r="1.45"/>
<circle cx="525.5" cy="342.3" r="1.45"/>
<circle cx="515.5" cy="353.0" r="1.45"/>
<circle cx="536.2" cy="331.6" r="1.45"/>
<circle cx="548.0" cy="327.4" r="1.45"/>
<circle cx="559.5" cy="316.8" r="1.45"/>
<circle cx="554.2" cy="317.3" r="1.45"/>
<circle cx="543.7" cy="331.3" r="1.45"/>
<circle cx="550.5" cy="327.0" r="1.45"/>
<circle cx="551.6" cy="317.2" r="1.45"/>
<circle cx="559.7" cy="320.1" r="1.45"/>
<circle cx="522.5" cy="345.5" r="1.45"/>
<circle cx="542.6" cy="323.8" r="1.45"/>
<circle cx="538.1" cy="334.9" r="1.45"/>
<circle cx="557.6" cy="322.2" r="1.45"/>
<circle cx="542.0" cy="320.6" r="1.45"/>
<circle cx="570.7" cy="306.1" r="1.45"/>
<circle cx="549.5" cy="331.1" r="1.45"/>
<circle cx="554.5" cy="321.3" r="1.45"/>
<circle cx="548.6" cy="329.0" r="1.45"/>
<circle cx="544.6" cy="330.0" r="1.45"/>
<circle cx="550.3" cy="316.3" r="1.45"/>
<circle cx="551.1" cy="334.0" r="1.45"/>
<circle cx="527.9" cy="350.5" r="1.45"/>
<circle cx="531.0" cy="335.6" r="1.45"/>
<circle cx="551.7" cy="327.2" r="1.45"/>
<circle cx="549.4" cy="329.9" r="1.45"/>
<circle cx="520.1" cy="355.2" r="1.45"/>
<circle cx="529.8" cy="331.3" r="1.45"/>
<circle cx="521.4" cy="338.5" r="1.45"/>
<circle cx="567.8" cy="313.0" r="1.45"/>
<circle cx="543.9" cy="333.1" r="1.45"/>
<circle cx="544.3" cy="325.2" r="1.45"/>
<circle cx="544.9" cy="322.8" r="1.45"/>
<circle cx="565.4" cy="311.7" r="1.45"/>
<circle cx="550.4" cy="325.1" r="1.45"/>
<circle cx="550.7" cy="331.1" r="1.45"/>
<circle cx="551.8" cy="322.5" r="1.45"/>
<circle cx="529.7" cy="327.1" r="1.45"/>
<circle cx="527.8" cy="346.4" r="1.45"/>
<circle cx="549.5" cy="336.8" r="1.45"/>
<circle cx="530.9" cy="348.0" r="1.45"/>
<circle cx="527.9" cy="342.0" r="1.45"/>
<circle cx="550.2" cy="318.3" r="1.45"/>
<circle cx="558.7" cy="311.6" r="1.45"/>
<circle cx="554.9" cy="324.2" r="1.45"/>
<circle cx="564.1" cy="317.6" r="1.45"/>
<circle cx="534.0" cy="327.7" r="1.45"/>
<circle cx="558.4" cy="317.6" r="1.45"/>
<circle cx="557.7" cy="314.1" r="1.45"/>
<circle cx="520.9" cy="346.8" r="1.45"/>
<circle cx="524.1" cy="343.2" r="1.45"/>
<circle cx="533.0" cy="329.4" r="1.45"/>
<circle cx="553.7" cy="327.1" r="1.45"/>
<circle cx="544.3" cy="336.4" r="1.45"/>
<circle cx="545.3" cy="325.2" r="1.45"/>
<circle cx="549.2" cy="337.0" r="1.45"/>
<circle cx="538.8" cy="330.2" r="1.45"/>
<circle cx="550.0" cy="318.2" r="1.45"/>
<circle cx="522.2" cy="342.2" r="1.45"/>
<circle cx="533.3" cy="336.1" r="1.45"/>
<circle cx="551.7" cy="319.7" r="1.45"/>
<circle cx="534.6" cy="335.2" r="1.45"/>
<circle cx="524.3" cy="352.2" r="1.45"/>
<circle cx="554.3" cy="322.2" r="1.45"/>
<circle cx="516.4" cy="354.7" r="1.45"/>
<circle cx="544.9" cy="319.5" r="1.45"/>
<circle cx="562.8" cy="310.9" r="1.45"/>
<circle cx="513.5" cy="352.3" r="1.45"/>
<circle cx="552.9" cy="320.6" r="1.45"/>
<circle cx="551.8" cy="325.1" r="1.45"/>
<circle cx="575.2" cy="297.8" r="1.45"/>
<circle cx="543.0" cy="336.0" r="1.45"/>
<circle cx="580.4" cy="306.1" r="1.45"/>
<circle cx="565.4" cy="302.4" r="1.45"/>
<circle cx="528.1" cy="339.3" r="1.45"/>
<circle cx="538.5" cy="330.4" r="1.45"/>
<circle cx="550.2" cy="313.4" r="1.45"/>
<circle cx="554.9" cy="321.5" r="1.45"/>
<circle cx="564.2" cy="316.2" r="1.45"/>
<circle cx="538.2" cy="320.4" r="1.45"/>
<circle cx="530.3" cy="342.4" r="1.45"/>
<circle cx="545.3" cy="334.7" r="1.45"/>
<circle cx="507.8" cy="349.6" r="1.45"/>
<circle cx="530.9" cy="342.2" r="1.45"/>
<circle cx="538.1" cy="339.6" r="1.45"/>
<circle cx="525.9" cy="341.8" r="1.45"/>
<circle cx="586.4" cy="294.0" r="1.45"/>
<circle cx="557.6" cy="328.4" r="1.45"/>
<circle cx="544.2" cy="336.3" r="1.45"/>
<circle cx="558.0" cy="320.5" r="1.45"/>
<circle cx="545.2" cy="329.0" r="1.45"/>
<circle cx="534.4" cy="345.5" r="1.45"/>
<circle cx="554.7" cy="329.8" r="1.45"/>
<circle cx="524.0" cy="345.8" r="1.45"/>
<circle cx="532.3" cy="336.5" r="1.45"/>
<circle cx="562.2" cy="314.6" r="1.45"/>
<circle cx="548.0" cy="326.4" r="1.45"/>
<circle cx="559.5" cy="329.0" r="1.45"/>
<circle cx="551.0" cy="329.9" r="1.45"/>
<circle cx="523.1" cy="344.7" r="1.45"/>
<circle cx="537.8" cy="330.5" r="1.45"/>
<circle cx="563.8" cy="328.8" r="1.45"/>
<circle cx="543.3" cy="318.3" r="1.45"/>
<circle cx="559.7" cy="309.3" r="1.45"/>
<circle cx="546.3" cy="336.2" r="1.45"/>
<circle cx="525.0" cy="339.1" r="1.45"/>
<circle cx="561.3" cy="321.1" r="1.45"/>
<circle cx="539.9" cy="330.9" r="1.45"/>
<circle cx="514.1" cy="353.4" r="1.45"/>
<circle cx="572.8" cy="295.4" r="1.45"/>
<circle cx="542.7" cy="319.5" r="1.45"/>
<circle cx="535.4" cy="340.5" r="1.45"/>
<circle cx="505.6" cy="351.9" r="1.45"/>
<circle cx="538.1" cy="319.9" r="1.45"/>
<circle cx="550.4" cy="323.6" r="1.45"/>
<circle cx="513.1" cy="343.1" r="1.45"/>
<circle cx="538.3" cy="334.6" r="1.45"/>
<circle cx="506.1" cy="351.6" r="1.45"/>
<circle cx="561.8" cy="320.0" r="1.45"/>
<circle cx="546.2" cy="325.5" r="1.45"/>
<circle cx="561.4" cy="316.1" r="1.45"/>
<circle cx="574.6" cy="308.4" r="1.45"/>
<circle cx="534.0" cy="339.5" r="1.45"/>
<circle cx="500.4" cy="366.1" r="1.45"/>
<circle cx="562.2" cy="314.5" r="1.45"/>
<circle cx="530.4" cy="337.3" r="1.45"/>
<circle cx="509.5" cy="356.4" r="1.45"/>
<circle cx="553.8" cy="318.1" r="1.45"/>
<circle cx="531.1" cy="333.4" r="1.45"/>
<circle cx="577.2" cy="307.6" r="1.45"/>
<circle cx="557.6" cy="328.7" r="1.45"/>
<circle cx="510.5" cy="350.3" r="1.45"/>
<circle cx="545.4" cy="327.2" r="1.45"/>
<circle cx="534.5" cy="338.1" r="1.45"/>
<circle cx="558.8" cy="308.3" r="1.45"/>
<circle cx="540.9" cy="341.5" r="1.45"/>
<circle cx="566.9" cy="309.0" r="1.45"/>
<circle cx="556.6" cy="319.1" r="1.45"/>
<circle cx="585.2" cy="298.8" r="1.45"/>
<circle cx="553.7" cy="333.3" r="1.45"/>
<circle cx="534.6" cy="340.3" r="1.45"/>
<circle cx="544.2" cy="327.2" r="1.45"/>
<circle cx="531.6" cy="328.1" r="1.45"/>
<circle cx="526.1" cy="345.1" r="1.45"/>
<circle cx="548.9" cy="333.3" r="1.45"/>
<circle cx="554.7" cy="317.8" r="1.45"/>
<circle cx="539.6" cy="321.2" r="1.45"/>
<circle cx="546.1" cy="326.1" r="1.45"/>
<circle cx="528.0" cy="351.1" r="1.45"/>
<circle cx="533.7" cy="338.8" r="1.45"/>
<circle cx="536.8" cy="330.1" r="1.45"/>
<circle cx="503.1" cy="366.1" r="1.45"/>
<circle cx="512.9" cy="344.2" r="1.45"/>
<circle cx="534.9" cy="339.1" r="1.45"/>
<circle cx="525.5" cy="337.6" r="1.45"/>
<circle cx="537.5" cy="332.8" r="1.45"/>
<circle cx="509.2" cy="347.9" r="1.45"/>
<circle cx="551.6" cy="320.5" r="1.45"/>
<circle cx="566.3" cy="314.2" r="1.45"/>
<circle cx="541.8" cy="326.7" r="1.45"/>
<circle cx="552.2" cy="324.8" r="1.45"/>
<circle cx="545.5" cy="331.3" r="1.45"/>
<circle cx="557.2" cy="314.1" r="1.45"/>
<circle cx="544.8" cy="317.6" r="1.45"/>
<circle cx="517.9" cy="349.9" r="1.45"/>
<circle cx="574.6" cy="309.4" r="1.45"/>
<circle cx="516.8" cy="341.0" r="1.45"/>
<circle cx="554.3" cy="328.9" r="1.45"/>
<circle cx="558.3" cy="325.0" r="1.45"/>
<circle cx="521.4" cy="346.8" r="1.45"/>
<circle cx="536.4" cy="341.5" r="1.45"/>
<circle cx="538.4" cy="339.5" r="1.45"/>
<circle cx="545.8" cy="328.2" r="1.45"/>
<circle cx="557.8" cy="322.0" r="1.45"/>
<circle cx="521.5" cy="353.7" r="1.45"/>
<circle cx="540.5" cy="322.8" r="1.45"/>
<circle cx="559.6" cy="321.7" r="1.45"/>
<circle cx="561.2" cy="323.6" r="1.45"/>
<circle cx="562.5" cy="318.1" r="1.45"/>
<circle cx="558.2" cy="315.2" r="1.45"/>
<circle cx="539.9" cy="330.4" r="1.45"/>
<circle cx="526.1" cy="342.9" r="1.45"/>
<circle cx="563.7" cy="290.5" r="1.45"/>
<circle cx="557.1" cy="319.3" r="1.45"/>
<circle cx="527.1" cy="335.4" r="1.45"/>
<circle cx="515.8" cy="354.8" r="1.45"/>
<circle cx="551.0" cy="331.4" r="1.45"/>
<circle cx="571.7" cy="302.5" r="1.45"/>
<circle cx="534.9" cy="339.3" r="1.45"/>
<circle cx="521.7" cy="354.0" r="1.45"/>
<circle cx="552.5" cy="319.4" r="1.45"/>
<circle cx="550.9" cy="322.7" r="1.45"/>
<circle cx="535.0" cy="333.8" r="1.45"/>
<circle cx="519.1" cy="347.6" r="1.45"/>
<circle cx="570.6" cy="302.0" r="1.45"/>
<circle cx="536.7" cy="336.7" r="1.45"/>
<circle cx="568.9" cy="300.5" r="1.45"/>
<circle cx="518.6" cy="350.5" r="1.45"/>
<circle cx="548.9" cy="318.5" r="1.45"/>
<circle cx="530.1" cy="335.7" r="1.45"/>
<circle cx="539.5" cy="318.4" r="1.45"/>
<circle cx="552.3" cy="324.0" r="1.45"/>
<circle cx="538.9" cy="326.8" r="1.45"/>
<circle cx="556.7" cy="326.5" r="1.45"/>
<circle cx="548.6" cy="334.0" r="1.45"/>
<circle cx="531.6" cy="346.2" r="1.45"/>
<circle cx="521.6" cy="349.8" r="1.45"/>
<circle cx="527.7" cy="338.2" r="1.45"/>
<circle cx="558.8" cy="320.0" r="1.45"/>
<circle cx="525.2" cy="338.3" r="1.45"/>
<circle cx="509.4" cy="366.2" r="1.45"/>
<circle cx="557.5" cy="315.5" r="1.45"/>
<circle cx="561.9" cy="317.5" r="1.45"/>
<circle cx="522.7" cy="347.9" r="1.45"/>
<circle cx="554.7" cy="326.0" r="1.45"/>
<circle cx="532.5" cy="346.1" r="1.45"/>
<circle cx="524.5" cy="338.6" r="1.45"/>
<circle cx="552.8" cy="329.8" r="1.45"/>
<circle cx="525.9" cy="345.9" r="1.45"/>
<circle cx="554.4" cy="328.7" r="1.45"/>
<circle cx="541.9" cy="343.7" r="1.45"/>
<circle cx="522.8" cy="342.3" r="1.45"/>
<circle cx="560.5" cy="324.1" r="1.45"/>
<circle cx="531.3" cy="333.9" r="1.45"/>
<circle cx="538.0" cy="337.0" r="1.45"/>
<circle cx="553.9" cy="320.9" r="1.45"/>
<circle cx="564.3" cy="309.7" r="1.45"/>
<circle cx="534.8" cy="336.8" r="1.45"/>
<circle cx="543.8" cy="337.6" r="1.45"/>
<circle cx="527.8" cy="335.4" r="1.45"/>
<circle cx="517.1" cy="343.1" r="1.45"/>
<circle cx="549.8" cy="325.9" r="1.45"/>
<circle cx="554.3" cy="319.0" r="1.45"/>
<circle cx="566.0" cy="315.6" r="1.45"/>
<circle cx="540.9" cy="333.1" r="1.45"/>
<circle cx="577.8" cy="298.9" r="1.45"/>
<circle cx="528.7" cy="342.5" r="1.45"/>
<circle cx="532.5" cy="337.6" r="1.45"/>
<circle cx="548.6" cy="312.3" r="1.45"/>
<circle cx="513.0" cy="345.9" r="1.45"/>
<circle cx="552.5" cy="327.3" r="1.45"/>
<circle cx="542.3" cy="333.5" r="1.45"/>
<circle cx="545.8" cy="322.0" r="1.45"/>
<circle cx="518.4" cy="340.3" r="1.45"/>
<circle cx="538.4" cy="324.5" r="1.45"/>
<circle cx="552.1" cy="316.0" r="1.45"/>
<circle cx="554.8" cy="314.9" r="1.45"/>
<circle cx="545.9" cy="332.8" r="1.45"/>
<circle cx="556.7" cy="315.7" r="1.45"/>
<circle cx="581.6" cy="313.6" r="1.45"/>
<circle cx="541.5" cy="324.8" r="1.45"/>
<circle cx="523.1" cy="345.9" r="1.45"/>
<circle cx="582.0" cy="293.0" r="1.45"/>
<circle cx="529.6" cy="331.3" r="1.45"/>
<circle cx="565.7" cy="308.7" r="1.45"/>
<circle cx="551.7" cy="322.2" r="1.45"/>
<circle cx="529.9" cy="342.7" r="1.45"/>
<circle cx="557.8" cy="318.3" r="1.45"/>
<circle cx="577.4" cy="306.8" r="1.45"/>
<circle cx="503.2" cy="361.2" r="1.45"/>
<circle cx="549.9" cy="322.6" r="1.45"/>
<circle cx="546.3" cy="332.5" r="1.45"/>
<circle cx="571.2" cy="313.3" r="1.45"/>
<circle cx="557.5" cy="321.1" r="1.45"/>
<circle cx="524.2" cy="335.3" r="1.45"/>
<circle cx="501.3" cy="365.5" r="1.45"/>
<circle cx="552.7" cy="325.0" r="1.45"/>
<circle cx="558.2" cy="319.4" r="1.45"/>
<circle cx="537.3" cy="321.3" r="1.45"/>
<circle cx="541.3" cy="332.1" r="1.45"/>
<circle cx="526.3" cy="346.6" r="1.45"/>
<circle cx="556.5" cy="316.7" r="1.45"/>
<circle cx="545.2" cy="332.5" r="1.45"/>
<circle cx="557.2" cy="329.7" r="1.45"/>
<circle cx="539.3" cy="334.1" r="1.45"/>
<circle cx="530.5" cy="338.2" r="1.45"/>
<circle cx="533.6" cy="341.5" r="1.45"/>
<circle cx="576.7" cy="300.8" r="1.45"/>
<circle cx="566.2" cy="312.6" r="1.45"/>
<circle cx="562.2" cy="311.2" r="1.45"/>
<circle cx="566.5" cy="298.6" r="1.45"/>
<circle cx="541.4" cy="329.5" r="1.45"/>
<circle cx="544.5" cy="349.7" r="1.45"/>
<circle cx="521.1" cy="345.8" r="1.45"/>
<circle cx="556.5" cy="323.4" r="1.45"/>
<circle cx="565.2" cy="305.9" r="1.45"/>
<circle cx="538.3" cy="324.8" r="1.45"/>
<circle cx="576.0" cy="302.9" r="1.45"/>
<circle cx="528.4" cy="331.8" r="1.45"/>
<circle cx="542.7" cy="332.3" r="1.45"/>
<circle cx="547.6" cy="329.7" r="1.45"/>
<circle cx="564.3" cy="309.6" r="1.45"/>
<circle cx="566.8" cy="308.9" r="1.45"/>
<circle cx="531.8" cy="339.0" r="1.45"/>
<circle cx="560.9" cy="319.1" r="1.45"/>
<circle cx="596.5" cy="292.1" r="1.45"/>
<circle cx="535.4" cy="328.6" r="1.45"/>
<circle cx="558.6" cy="318.5" r="1.45"/>
<circle cx="541.6" cy="328.3" r="1.45"/>
<circle cx="560.2" cy="312.7" r="1.45"/>
<circle cx="540.3" cy="329.2" r="1.45"/>
<circle cx="560.3" cy="312.6" r="1.45"/>
<circle cx="491.8" cy="372.6" r="1.45"/>
<circle cx="532.1" cy="339.2" r="1.45"/>
<circle cx="548.7" cy="320.1" r="1.45"/>
<circle cx="556.4" cy="320.8" r="1.45"/>
<circle cx="546.0" cy="317.2" r="1.45"/>
<circle cx="534.9" cy="333.9" r="1.45"/>
<circle cx="572.9" cy="305.9" r="1.45"/>
<circle cx="510.0" cy="351.8" r="1.45"/>
<circle cx="538.9" cy="333.5" r="1.45"/>
<circle cx="563.9" cy="311.7" r="1.45"/>
<circle cx="541.0" cy="326.0" r="1.45"/>
<circle cx="553.2" cy="321.7" r="1.45"/>
<circle cx="550.8" cy="322.6" r="1.45"/>
<circle cx="539.7" cy="335.0" r="1.45"/>
<circle cx="546.0" cy="333.2" r="1.45"/>
<circle cx="523.7" cy="336.2" r="1.45"/>
<circle cx="541.4" cy="331.1" r="1.45"/>
<circle cx="543.2" cy="329.5" r="1.45"/>
<circle cx="546.0" cy="327.2" r="1.45"/>
<circle cx="531.6" cy="332.6" r="1.45"/>
<circle cx="533.5" cy="330.6" r="1.45"/>
<circle cx="512.2" cy="358.7" r="1.45"/>
<circle cx="562.9" cy="316.1" r="1.45"/>
<circle cx="533.9" cy="334.2" r="1.45"/>
<circle cx="527.4" cy="340.8" r="1.45"/>
<circle cx="507.0" cy="358.9" r="1.45"/>
<circle cx="534.3" cy="333.0" r="1.45"/>
<circle cx="560.9" cy="321.8" r="1.45"/>
<circle cx="573.6" cy="310.9" r="1.45"/>
<circle cx="509.8" cy="368.3" r="1.45"/>
<circle cx="572.4" cy="308.8" r="1.45"/>
<circle cx="534.3" cy="340.6" r="1.45"/>
<circle cx="526.6" cy="333.8" r="1.45"/>
<circle cx="544.1" cy="318.3" r="1.45"/>
<circle cx="542.1" cy="344.4" r="1.45"/>
<circle cx="560.3" cy="319.3" r="1.45"/>
<circle cx="541.5" cy="321.6" r="1.45"/>
<circle cx="541.0" cy="324.4" r="1.45"/>
<circle cx="545.5" cy="332.4" r="1.45"/>
<circle cx="554.4" cy="325.0" r="1.45"/>
<circle cx="567.0" cy="306.5" r="1.45"/>
<circle cx="546.7" cy="323.5" r="1.45"/>
<circle cx="555.4" cy="322.3" r="1.45"/>
<circle cx="561.2" cy="317.8" r="1.45"/>
<circle cx="556.3" cy="325.7" r="1.45"/>
<circle cx="547.4" cy="324.1" r="1.45"/>
<circle cx="531.9" cy="340.4" r="1.45"/>
<circle cx="536.3" cy="330.3" r="1.45"/>
<circle cx="533.1" cy="334.4" r="1.45"/>
<circle cx="572.2" cy="306.2" r="1.45"/>
<circle cx="517.6" cy="347.6" r="1.45"/>
<circle cx="563.8" cy="316.2" r="1.45"/>
<circle cx="565.0" cy="310.0" r="1.45"/>
<circle cx="553.1" cy="323.9" r="1.45"/>
<circle cx="536.8" cy="335.8" r="1.45"/>
<circle cx="546.8" cy="323.8" r="1.45"/>
<circle cx="553.1" cy="324.1" r="1.45"/>
<circle cx="546.9" cy="324.6" r="1.45"/>
<circle cx="517.5" cy="353.0" r="1.45"/>
<circle cx="531.9" cy="339.1" r="1.45"/>
<circle cx="541.0" cy="332.7" r="1.45"/>
<circle cx="530.6" cy="334.8" r="1.45"/>
<circle cx="550.7" cy="333.9" r="1.45"/>
<circle cx="546.1" cy="334.2" r="1.45"/>
<circle cx="575.5" cy="308.6" r="1.45"/>
<circle cx="539.0" cy="332.1" r="1.45"/>
<circle cx="542.4" cy="330.5" r="1.45"/>
<circle cx="572.8" cy="306.5" r="1.45"/>
<circle cx="560.4" cy="310.2" r="1.45"/>
<circle cx="528.9" cy="330.0" r="1.45"/>
<circle cx="557.9" cy="313.1" r="1.45"/>
<circle cx="530.9" cy="333.7" r="1.45"/>
<circle cx="553.1" cy="325.5" r="1.45"/>
<circle cx="585.7" cy="295.1" r="1.45"/>
<circle cx="541.7" cy="329.5" r="1.45"/>
<circle cx="561.8" cy="309.2" r="1.45"/>
<circle cx="556.1" cy="312.9" r="1.45"/>
<circle cx="571.5" cy="316.1" r="1.45"/>
<circle cx="537.5" cy="339.3" r="1.45"/>
<circle cx="547.6" cy="317.7" r="1.45"/>
<circle cx="557.3" cy="325.4" r="1.45"/>
<circle cx="540.8" cy="325.2" r="1.45"/>
<circle cx="536.7" cy="334.9" r="1.45"/>
<circle cx="551.3" cy="334.5" r="1.45"/>
<circle cx="559.5" cy="315.5" r="1.45"/>
<circle cx="555.9" cy="326.1" r="1.45"/>
<circle cx="532.6" cy="340.9" r="1.45"/>
<circle cx="550.3" cy="323.9" r="1.45"/>
<circle cx="548.2" cy="315.3" r="1.45"/>
<circle cx="568.7" cy="315.1" r="1.45"/>
<circle cx="534.6" cy="325.7" r="1.45"/>
<circle cx="540.4" cy="323.4" r="1.45"/>
<circle cx="573.8" cy="310.3" r="1.45"/>
<circle cx="541.3" cy="330.5" r="1.45"/>
<circle cx="530.9" cy="344.4" r="1.45"/>
<circle cx="539.0" cy="327.6" r="1.45"/>
<circle cx="538.1" cy="334.5" r="1.45"/>
<circle cx="537.8" cy="341.6" r="1.45"/>
<circle cx="571.8" cy="322.5" r="1.45"/>
<circle cx="534.6" cy="332.6" r="1.45"/>
<circle cx="521.6" cy="341.8" r="1.45"/>
<circle cx="567.8" cy="316.7" r="1.45"/>
<circle cx="549.6" cy="331.5" r="1.45"/>
<circle cx="554.8" cy="320.5" r="1.45"/>
<circle cx="549.7" cy="316.7" r="1.45"/>
<circle cx="554.1" cy="313.5" r="1.45"/>
<circle cx="557.0" cy="326.6" r="1.45"/>
<circle cx="550.5" cy="321.3" r="1.45"/>
<circle cx="520.7" cy="338.1" r="1.45"/>
<circle cx="547.1" cy="324.5" r="1.45"/>
<circle cx="530.3" cy="338.6" r="1.45"/>
<circle cx="551.2" cy="325.7" r="1.45"/>
<circle cx="547.3" cy="339.1" r="1.45"/>
<circle cx="569.7" cy="316.8" r="1.45"/>
<circle cx="507.9" cy="361.1" r="1.45"/>
<circle cx="531.4" cy="335.0" r="1.45"/>
<circle cx="530.0" cy="337.5" r="1.45"/>
<circle cx="529.2" cy="326.7" r="1.45"/>
<circle cx="555.4" cy="309.0" r="1.45"/>
<circle cx="528.2" cy="336.6" r="1.45"/>
<circle cx="529.3" cy="336.3" r="1.45"/>
<circle cx="557.7" cy="328.4" r="1.45"/>
<circle cx="526.1" cy="349.0" r="1.45"/>
<circle cx="519.7" cy="351.1" r="1.45"/>
<circle cx="529.1" cy="348.4" r="1.45"/>
<circle cx="547.6" cy="323.1" r="1.45"/>
<circle cx="523.0" cy="347.7" r="1.45"/>
<circle cx="546.0" cy="328.9" r="1.45"/>
<circle cx="533.6" cy="331.8" r="1.45"/>
<circle cx="560.6" cy="312.8" r="1.45"/>
<circle cx="542.2" cy="318.5" r="1.45"/>
<circle cx="576.1" cy="307.8" r="1.45"/>
<circle cx="543.7" cy="322.2" r="1.45"/>
<circle cx="531.9" cy="335.5" r="1.45"/>
<circle cx="546.6" cy="331.3" r="1.45"/>
<circle cx="541.7" cy="340.0" r="1.45"/>
<circle cx="536.3" cy="346.5" r="1.45"/>
<circle cx="585.5" cy="289.7" r="1.45"/>
<circle cx="567.2" cy="310.3" r="1.45"/>
<circle cx="563.2" cy="307.4" r="1.45"/>
<circle cx="563.4" cy="309.3" r="1.45"/>
<circle cx="529.8" cy="336.9" r="1.45"/>
<circle cx="536.4" cy="341.6" r="1.45"/>
<circle cx="525.8" cy="339.8" r="1.45"/>
<circle cx="564.0" cy="322.5" r="1.45"/>
<circle cx="576.1" cy="296.8" r="1.45"/>
<circle cx="539.0" cy="335.4" r="1.45"/>
<circle cx="544.4" cy="322.9" r="1.45"/>
<circle cx="539.0" cy="339.3" r="1.45"/>
<circle cx="551.6" cy="335.7" r="1.45"/>
<circle cx="548.1" cy="319.2" r="1.45"/>
<circle cx="551.0" cy="319.3" r="1.45"/>
<circle cx="554.2" cy="317.3" r="1.45"/>
<circle cx="548.1" cy="331.0" r="1.45"/>
<circle cx="541.7" cy="331.2" r="1.45"/>
<circle cx="567.5" cy="302.2" r="1.45"/>
<circle cx="552.9" cy="327.0" r="1.45"/>
<circle cx="532.9" cy="338.3" r="1.45"/>
<circle cx="569.8" cy="308.2" r="1.45"/>
<circle cx="544.6" cy="333.2" r="1.45"/>
<circle cx="561.0" cy="314.9" r="1.45"/>
<circle cx="544.7" cy="327.9" r="1.45"/>
<circle cx="575.0" cy="307.3" r="1.45"/>
<circle cx="575.0" cy="299.0" r="1.45"/>
<circle cx="546.5" cy="322.0" r="1.45"/>
<circle cx="543.4" cy="334.4" r="1.45"/>
<circle cx="540.9" cy="336.7" r="1.45"/>
<circle cx="554.5" cy="321.3" r="1.45"/>
<circle cx="555.5" cy="315.7" r="1.45"/>
<circle cx="491.2" cy="365.9" r="1.45"/>
<circle cx="514.2" cy="349.9" r="1.45"/>
<circle cx="530.3" cy="338.5" r="1.45"/>
<circle cx="569.4" cy="320.6" r="1.45"/>
<circle cx="548.9" cy="325.9" r="1.45"/>
<circle cx="512.6" cy="348.2" r="1.45"/>
<circle cx="546.2" cy="330.5" r="1.45"/>
<circle cx="533.0" cy="318.0" r="1.45"/>
<circle cx="538.7" cy="343.6" r="1.45"/>
<circle cx="529.4" cy="342.0" r="1.45"/>
<circle cx="538.9" cy="333.3" r="1.45"/>
<circle cx="527.4" cy="338.0" r="1.45"/>
<circle cx="537.2" cy="342.2" r="1.45"/>
<circle cx="531.4" cy="340.6" r="1.45"/>
<circle cx="560.4" cy="314.2" r="1.45"/>
<circle cx="539.7" cy="332.1" r="1.45"/>
<circle cx="549.3" cy="313.0" r="1.45"/>
<circle cx="534.8" cy="333.0" r="1.45"/>
<circle cx="558.3" cy="324.3" r="1.45"/>
<circle cx="548.9" cy="324.5" r="1.45"/>
<circle cx="537.4" cy="330.5" r="1.45"/>
<circle cx="563.5" cy="308.1" r="1.45"/>
<circle cx="542.3" cy="329.2" r="1.45"/>
<circle cx="586.6" cy="304.5" r="1.45"/>
<circle cx="549.5" cy="319.8" r="1.45"/>
<circle cx="548.2" cy="322.1" r="1.45"/>
<circle cx="548.6" cy="321.2" r="1.45"/>
<circle cx="567.9" cy="312.8" r="1.45"/>
<circle cx="549.0" cy="325.7" r="1.45"/>
<circle cx="538.6" cy="333.2" r="1.45"/>
<circle cx="525.9" cy="337.9" r="1.45"/>
<circle cx="575.3" cy="296.0" r="1.45"/>
<circle cx="567.8" cy="317.3" r="1.45"/>
<circle cx="572.1" cy="312.8" r="1.45"/>
<circle cx="544.7" cy="317.6" r="1.45"/>
<circle cx="526.9" cy="336.6" r="1.45"/>
<circle cx="550.5" cy="325.2" r="1.45"/>
<circle cx="530.3" cy="336.6" r="1.45"/>
<circle cx="537.5" cy="327.6" r="1.45"/>
<circle cx="566.9" cy="320.5" r="1.45"/>
<circle cx="536.8" cy="336.2" r="1.45"/>
<circle cx="525.0" cy="349.6" r="1.45"/>
<circle cx="547.1" cy="328.0" r="1.45"/>
<circle cx="516.8" cy="352.2" r="1.45"/>
<circle cx="554.6" cy="328.4" r="1.45"/>
<circle cx="529.5" cy="330.3" r="1.45"/>
<circle cx="568.6" cy="320.7" r="1.45"/>
<circle cx="522.1" cy="342.9" r="1.45"/>
<circle cx="524.8" cy="344.6" r="1.45"/>
<circle cx="537.7" cy="330.3" r="1.45"/>
<circle cx="501.5" cy="373.3" r="1.45"/>
<circle cx="524.2" cy="337.5" r="1.45"/>
<circle cx="542.9" cy="340.0" r="1.45"/>
<circle cx="554.2" cy="317.4" r="1.45"/>
<circle cx="541.3" cy="333.0" r="1.45"/>
<circle cx="553.2" cy="315.1" r="1.45"/>
<circle cx="548.3" cy="322.8" r="1.45"/>
<circle cx="544.8" cy="330.8" r="1.45"/>
<circle cx="529.6" cy="338.1" r="1.45"/>
<circle cx="540.4" cy="333.2" r="1.45"/>
<circle cx="561.8" cy="313.1" r="1.45"/>
<circle cx="560.8" cy="326.2" r="1.45"/>
<circle cx="555.3" cy="324.3" r="1.45"/>
<circle cx="531.5" cy="343.3" r="1.45"/>
<circle cx="566.7" cy="307.5" r="1.45"/>
<circle cx="533.1" cy="343.8" r="1.45"/>
<circle cx="545.8" cy="330.5" r="1.45"/>
<circle cx="574.5" cy="315.4" r="1.45"/>
<circle cx="513.7" cy="352.8" r="1.45"/>
<circle cx="545.8" cy="327.0" r="1.45"/>
<circle cx="558.7" cy="306.0" r="1.45"/>
<circle cx="539.6" cy="335.5" r="1.45"/>
<circle cx="514.9" cy="348.9" r="1.45"/>
<circle cx="560.5" cy="318.6" r="1.45"/>
<circle cx="566.2" cy="312.7" r="1.45"/>
<circle cx="572.0" cy="306.6" r="1.45"/>
<circle cx="527.2" cy="345.2" r="1.45"/>
<circle cx="518.9" cy="357.8" r="1.45"/>
<circle cx="550.3" cy="319.3" r="1.45"/>
<circle cx="579.7" cy="303.3" r="1.45"/>
<circle cx="541.5" cy="337.5" r="1.45"/>
<circle cx="562.8" cy="313.0" r="1.45"/>
<circle cx="535.2" cy="331.4" r="1.45"/>
<circle cx="555.4" cy="331.8" r="1.45"/>
<circle cx="558.5" cy="317.6" r="1.45"/>
<circle cx="538.8" cy="335.4" r="1.45"/>
</g>
<path d="M439.9 405.2L632.3 264.6" stroke="#3a5592" stroke-width="1.25" stroke-dasharray="1.8 2.1"/>
</g>
<text x="551.7" y="380.8" font-family="Liberation Sans" font-size="13.2" font-weight="normal" text-anchor="start" fill="#000" textLength="50.6" lengthAdjust="spacingAndGlyphs" stroke="#000" stroke-width="0.3">r = 0.932</text>
<text x="543.4" y="278.8" font-family="Liberation Sans" font-size="14" font-weight="normal" text-anchor="middle" fill="#000" textLength="31.3" lengthAdjust="spacingAndGlyphs" stroke="#000" stroke-width="0.35">MAR</text>
<text x="551.6" y="420.8" font-family="Liberation Sans" font-size="12.5" font-weight="normal" text-anchor="middle" fill="#000" textLength="75.8" lengthAdjust="spacingAndGlyphs" stroke="#000" stroke-width="0.3">Ground-truth</text>
<text x="48.3" y="334.0" font-family="Liberation Sans" font-size="13" font-weight="normal" text-anchor="middle" fill="#000" transform="rotate(-90 48.3 334.0)" textLength="47.3" lengthAdjust="spacingAndGlyphs" stroke="#000" stroke-width="0.3">Imputed</text>
<path d="M72.3 460.8H241.8V570.2H72.3Z" fill="none" stroke="#222" stroke-width="1.3"/>
<path d="M67.3 465.6H72.3" stroke="#222" stroke-width="1.1"/>
<text x="57.7" y="466.6" font-family="Liberation Sans" font-size="9.8" font-weight="normal" text-anchor="middle" fill="#000" transform="rotate(-90 57.7 466.6)" dominant-baseline="central" stroke="#000" stroke-width="0.22">2</text>
<path d="M67.3 492.8H72.3" stroke="#222" stroke-width="1.1"/>
<text x="57.7" y="493.8" font-family="Liberation Sans" font-size="9.8" font-weight="normal" text-anchor="middle" fill="#000" transform="rotate(-90 57.7 493.8)" dominant-baseline="central" stroke="#000" stroke-width="0.22">1</text>
<path d="M67.3 520.0H72.3" stroke="#222" stroke-width="1.1"/>
<text x="57.7" y="521.0" font-family="Liberation Sans" font-size="9.8" font-weight="normal" text-anchor="middle" fill="#000" transform="rotate(-90 57.7 521.0)" dominant-baseline="central" stroke="#000" stroke-width="0.22">0</text>
<path d="M67.3 547.2H72.3" stroke="#222" stroke-width="1.1"/>
<text x="57.7" y="548.2" font-family="Liberation Sans" font-size="9.8" font-weight="normal" text-anchor="middle" fill="#000" transform="rotate(-90 57.7 548.2)" dominant-baseline="central" stroke="#000" stroke-width="0.22">&#8722;1</text>
<path d="M79.0 570.2V576.7" stroke="#222" stroke-width="1.1"/>
<g transform="translate(79.0 592.7) scale(0.83 1)"><text x="0.0" y="0.0" font-family="Liberation Sans" font-size="10.8" font-weight="normal" text-anchor="middle" fill="#000" stroke="#000" stroke-width="0.22">0</text></g>
<path d="M118.2 570.2V576.7" stroke="#222" stroke-width="1.1"/>
<g transform="translate(118.2 592.7) scale(0.83 1)"><text x="0.0" y="0.0" font-family="Liberation Sans" font-size="10.8" font-weight="normal" text-anchor="middle" fill="#000" stroke="#000" stroke-width="0.22">5</text></g>
<path d="M157.3 570.2V576.7" stroke="#222" stroke-width="1.1"/>
<g transform="translate(157.3 592.7) scale(0.83 1)"><text x="0.0" y="0.0" font-family="Liberation Sans" font-size="10.8" font-weight="normal" text-anchor="middle" fill="#000" stroke="#000" stroke-width="0.22">10</text></g>
<path d="M196.4 570.2V576.7" stroke="#222" stroke-width="1.1"/>
<g transform="translate(196.4 592.7) scale(0.83 1)"><text x="0.0" y="0.0" font-family="Liberation Sans" font-size="10.8" font-weight="normal" text-anchor="middle" fill="#000" stroke="#000" stroke-width="0.22">15</text></g>
<path d="M235.6 570.2V576.7" stroke="#222" stroke-width="1.1"/>
<g transform="translate(235.6 592.7) scale(0.83 1)"><text x="0.0" y="0.0" font-family="Liberation Sans" font-size="10.8" font-weight="normal" text-anchor="middle" fill="#000" stroke="#000" stroke-width="0.22">20</text></g>
<text x="157.5" y="611.5" font-family="Liberation Sans" font-size="12.6" font-weight="normal" text-anchor="middle" fill="#000" stroke="#000" stroke-width="0.22">Time</text>
<clipPath id="d72"><rect x="72.3" y="460.8" width="169.5" height="109.40000000000003"/></clipPath>
<g clip-path="url(#d72)">
<polyline points="79.4,512.4 80.7,500.0 82.6,496.1 84.1,497.4 85.4,487.6 87.2,482.7 88.7,478.4 90.4,504.0 91.5,515.8 93.2,524.6 94.9,534.9 95.9,538.5 97.9,540.4 99.8,566.0 101.1,527.9 102.9,520.0 104.4,504.0 105.7,496.4 107.6,476.8 109.4,475.9 110.9,475.9 112.6,490.2 114.1,488.4 115.8,507.6 117.4,521.1 118.6,548.6 120.5,524.1 122.3,532.0 123.6,539.9 125.4,528.4 126.6,519.7 128.5,514.1 130.0,502.0 131.5,490.9 132.8,486.6 134.6,464.5 136.1,497.7 137.8,496.1 139.3,495.5 141.1,512.4 142.6,527.3 143.9,547.2 145.8,537.2 147.1,540.4 148.9,540.4 150.4,537.7 151.9,517.5 153.2,507.6 154.5,494.2 156.4,489.5 157.8,482.7 159.6,480.8 161.6,496.9 163.1,497.7 164.4,505.7 165.7,518.1 167.2,537.7 168.5,540.4 170.4,523.8 172.2,545.0 173.7,523.8 175.2,530.3 177.1,521.9 178.9,503.4 180.2,483.0 182.1,481.1 183.6,473.8 184.9,466.4 186.4,496.1 188.2,502.0 189.8,510.5 191.3,521.9 192.8,531.2 194.6,543.1 196.3,544.2 197.9,544.2 199.5,530.3 201.1,528.4 202.5,509.1 203.9,498.4 205.3,484.9 207.2,496.9 208.7,477.3 210.4,481.9 211.8,495.5 213.7,507.6 215.0,523.8 216.5,528.4 218.0,523.8 219.8,518.6 221.0,533.1 222.9,538.8 224.7,530.9 226.1,513.3 227.5,500.6 229.0,499.6 230.9,486.6 232.2,483.0 234.0,485.7 235.9,491.6" fill="none" stroke="#ff0000" stroke-width="1.3" stroke-dasharray="1.3 1.6"/>
<polyline points="79.4,512.7 80.7,503.7 82.6,496.1 84.1,497.4 85.4,487.6 87.2,482.7 88.7,478.4 90.4,503.4 91.5,514.6 93.2,524.6 94.9,513.5 95.9,538.5 97.9,540.4 99.8,566.0 101.1,527.9 102.9,520.0 104.4,508.0 105.7,505.3 107.6,476.8 109.4,475.9 110.9,475.9 112.6,500.7 114.1,488.4 115.8,510.8 117.4,521.1 118.6,548.6 120.5,524.1 122.3,532.0 123.6,539.9 125.4,528.4 126.6,515.4 128.5,509.9 130.0,507.5 131.5,490.9 132.8,497.7 134.6,464.5 136.1,497.7 137.8,496.1 139.3,495.5 141.1,513.5 142.6,527.3 143.9,547.2 145.8,517.8 147.1,540.4 148.9,540.4 150.4,537.7 151.9,516.2 153.2,509.9 154.5,494.2 156.4,489.5 157.8,482.7 159.6,480.8 161.6,496.9 163.1,497.7 164.4,510.8 165.7,518.1 167.2,537.7 168.5,540.4 170.4,523.8 172.2,545.0 173.7,523.8 175.2,530.3 177.1,521.9 178.9,508.8 180.2,483.0 182.1,481.1 183.6,473.8 184.9,466.4 186.4,496.1 188.2,504.2 189.8,513.5 191.3,521.9 192.8,531.2 194.6,543.1 196.3,544.2 197.9,544.2 199.5,530.3 201.1,528.4 202.5,509.1 203.9,500.7 205.3,484.9 207.2,496.9 208.7,498.8 210.4,481.9 211.8,495.5 213.7,501.5 215.0,523.8 216.5,528.4 218.0,523.8 219.8,518.6 221.0,533.1 222.9,538.8 224.7,530.9 226.1,514.6 227.5,506.7 229.0,499.6 230.9,498.2 232.2,483.0 234.0,485.7 235.9,503.4" fill="none" stroke="#111" stroke-width="1.1"/>
<g fill="#000">
<circle cx="79.4" cy="512.7" r="2.75"/>
<circle cx="80.7" cy="503.7" r="2.75"/>
<circle cx="82.6" cy="496.1" r="2.75"/>
<circle cx="84.1" cy="497.4" r="2.75"/>
<circle cx="85.4" cy="487.6" r="2.75"/>
<circle cx="87.2" cy="482.7" r="2.75"/>
<circle cx="88.7" cy="478.4" r="2.75"/>
<circle cx="90.4" cy="503.4" r="2.75"/>
<circle cx="91.5" cy="514.6" r="2.75"/>
<circle cx="93.2" cy="524.6" r="2.75"/>
<circle cx="94.9" cy="513.5" r="2.75"/>
<circle cx="95.9" cy="538.5" r="2.75"/>
<circle cx="97.9" cy="540.4" r="2.75"/>
<circle cx="99.8" cy="566.0" r="2.75"/>
<circle cx="101.1" cy="527.9" r="2.75"/>
<circle cx="102.9" cy="520.0" r="2.75"/>
<circle cx="104.4" cy="508.0" r="2.75"/>
<circle cx="105.7" cy="505.3" r="2.75"/>
<circle cx="107.6" cy="476.8" r="2.75"/>
<circle cx="109.4" cy="475.9" r="2.75"/>
<circle cx="110.9" cy="475.9" r="2.75"/>
<circle cx="112.6" cy="500.7" r="2.75"/>
<circle cx="114.1" cy="488.4" r="2.75"/>
<circle cx="115.8" cy="510.8" r="2.75"/>
<circle cx="117.4" cy="521.1" r="2.75"/>
<circle cx="118.6" cy="548.6" r="2.75"/>
<circle cx="120.5" cy="524.1" r="2.75"/>
<circle cx="122.3" cy="532.0" r="2.75"/>
<circle cx="123.6" cy="539.9" r="2.75"/>
<circle cx="125.4" cy="528.4" r="2.75"/>
<circle cx="126.6" cy="515.4" r="2.75"/>
<circle cx="128.5" cy="509.9" r="2.75"/>
<circle cx="130.0" cy="507.5" r="2.75"/>
<circle cx="131.5" cy="490.9" r="2.75"/>
<circle cx="132.8" cy="497.7" r="2.75"/>
<circle cx="134.6" cy="464.5" r="2.75"/>
<circle cx="136.1" cy="497.7" r="2.75"/>
<circle cx="137.8" cy="496.1" r="2.75"/>
<circle cx="139.3" cy="495.5" r="2.75"/>
<circle cx="141.1" cy="513.5" r="2.75"/>
<circle cx="142.6" cy="527.3" r="2.75"/>
<circle cx="143.9" cy="547.2" r="2.75"/>
<circle cx="145.8" cy="517.8" r="2.75"/>
<circle cx="147.1" cy="540.4" r="2.75"/>
<circle cx="148.9" cy="540.4" r="2.75"/>
<circle cx="150.4" cy="537.7" r="2.75"/>
<circle cx="151.9" cy="516.2" r="2.75"/>
<circle cx="153.2" cy="509.9" r="2.75"/>
<circle cx="154.5" cy="494.2" r="2.75"/>
<circle cx="156.4" cy="489.5" r="2.75"/>
<circle cx="157.8" cy="482.7" r="2.75"/>
<circle cx="159.6" cy="480.8" r="2.75"/>
<circle cx="161.6" cy="496.9" r="2.75"/>
<circle cx="163.1" cy="497.7" r="2.75"/>
<circle cx="164.4" cy="510.8" r="2.75"/>
<circle cx="165.7" cy="518.1" r="2.75"/>
<circle cx="167.2" cy="537.7" r="2.75"/>
<circle cx="168.5" cy="540.4" r="2.75"/>
<circle cx="170.4" cy="523.8" r="2.75"/>
<circle cx="172.2" cy="545.0" r="2.75"/>
<circle cx="173.7" cy="523.8" r="2.75"/>
<circle cx="175.2" cy="530.3" r="2.75"/>
<circle cx="177.1" cy="521.9" r="2.75"/>
<circle cx="178.9" cy="508.8" r="2.75"/>
<circle cx="180.2" cy="483.0" r="2.75"/>
<circle cx="182.1" cy="481.1" r="2.75"/>
<circle cx="183.6" cy="473.8" r="2.75"/>
<circle cx="184.9" cy="466.4" r="2.75"/>
<circle cx="186.4" cy="496.1" r="2.75"/>
<circle cx="188.2" cy="504.2" r="2.75"/>
<circle cx="189.8" cy="513.5" r="2.75"/>
<circle cx="191.3" cy="521.9" r="2.75"/>
<circle cx="192.8" cy="531.2" r="2.75"/>
<circle cx="194.6" cy="543.1" r="2.75"/>
<circle cx="196.3" cy="544.2" r="2.75"/>
<circle cx="197.9" cy="544.2" r="2.75"/>
<circle cx="199.5" cy="530.3" r="2.75"/>
<circle cx="201.1" cy="528.4" r="2.75"/>
<circle cx="202.5" cy="509.1" r="2.75"/>
<circle cx="203.9" cy="500.7" r="2.75"/>
<circle cx="205.3" cy="484.9" r="2.75"/>
<circle cx="207.2" cy="496.9" r="2.75"/>
<circle cx="208.7" cy="498.8" r="2.75"/>
<circle cx="210.4" cy="481.9" r="2.75"/>
<circle cx="211.8" cy="495.5" r="2.75"/>
<circle cx="213.7" cy="501.5" r="2.75"/>
<circle cx="215.0" cy="523.8" r="2.75"/>
<circle cx="216.5" cy="528.4" r="2.75"/>
<circle cx="218.0" cy="523.8" r="2.75"/>
<circle cx="219.8" cy="518.6" r="2.75"/>
<circle cx="221.0" cy="533.1" r="2.75"/>
<circle cx="222.9" cy="538.8" r="2.75"/>
<circle cx="224.7" cy="530.9" r="2.75"/>
<circle cx="226.1" cy="514.6" r="2.75"/>
<circle cx="227.5" cy="506.7" r="2.75"/>
<circle cx="229.0" cy="499.6" r="2.75"/>
<circle cx="230.9" cy="498.2" r="2.75"/>
<circle cx="232.2" cy="483.0" r="2.75"/>
<circle cx="234.0" cy="485.7" r="2.75"/>
<circle cx="235.9" cy="503.4" r="2.75"/>
</g>
<g fill="#ff0000">
<circle cx="79.0" cy="512.4" r="2.4"/>
<circle cx="80.7" cy="500.0" r="2.4"/>
<circle cx="89.7" cy="504.0" r="2.4"/>
<circle cx="91.4" cy="515.8" r="2.4"/>
<circle cx="94.7" cy="534.9" r="2.4"/>
<circle cx="104.6" cy="504.0" r="2.4"/>
<circle cx="105.7" cy="496.4" r="2.4"/>
<circle cx="112.2" cy="490.2" r="2.4"/>
<circle cx="115.0" cy="507.6" r="2.4"/>
<circle cx="126.2" cy="519.7" r="2.4"/>
<circle cx="127.6" cy="514.1" r="2.4"/>
<circle cx="129.6" cy="502.0" r="2.4"/>
<circle cx="132.4" cy="486.6" r="2.4"/>
<circle cx="140.9" cy="512.4" r="2.4"/>
<circle cx="145.4" cy="537.2" r="2.4"/>
<circle cx="151.6" cy="517.5" r="2.4"/>
<circle cx="153.5" cy="507.6" r="2.4"/>
<circle cx="164.2" cy="505.7" r="2.4"/>
<circle cx="179.1" cy="503.4" r="2.4"/>
<circle cx="188.1" cy="502.0" r="2.4"/>
<circle cx="189.8" cy="510.5" r="2.4"/>
<circle cx="202.2" cy="509.1" r="2.4"/>
<circle cx="203.9" cy="498.4" r="2.4"/>
<circle cx="208.4" cy="477.3" r="2.4"/>
<circle cx="213.4" cy="507.6" r="2.4"/>
<circle cx="226.1" cy="513.3" r="2.4"/>
<circle cx="226.9" cy="500.6" r="2.4"/>
<circle cx="230.3" cy="486.6" r="2.4"/>
<circle cx="235.9" cy="491.6" r="2.4"/>
</g>
</g>
<path d="M273.1 459.6H442.2V569.4H273.1Z" fill="none" stroke="#222" stroke-width="1.3"/>
<path d="M268.1 464.7H273.1" stroke="#222" stroke-width="1.1"/>
<text x="258.5" y="465.7" font-family="Liberation Sans" font-size="9.8" font-weight="normal" text-anchor="middle" fill="#000" transform="rotate(-90 258.5 465.7)" dominant-baseline="central" stroke="#000" stroke-width="0.22">2</text>
<path d="M268.1 492.0H273.1" stroke="#222" stroke-width="1.1"/>
<text x="258.5" y="493.0" font-family="Liberation Sans" font-size="9.8" font-weight="normal" text-anchor="middle" fill="#000" transform="rotate(-90 258.5 493.0)" dominant-baseline="central" stroke="#000" stroke-width="0.22">1</text>
<path d="M268.1 519.3H273.1" stroke="#222" stroke-width="1.1"/>
<text x="258.5" y="520.3" font-family="Liberation Sans" font-size="9.8" font-weight="normal" text-anchor="middle" fill="#000" transform="rotate(-90 258.5 520.3)" dominant-baseline="central" stroke="#000" stroke-width="0.22">0</text>
<path d="M268.1 546.6H273.1" stroke="#222" stroke-width="1.1"/>
<text x="258.5" y="547.6" font-family="Liberation Sans" font-size="9.8" font-weight="normal" text-anchor="middle" fill="#000" transform="rotate(-90 258.5 547.6)" dominant-baseline="central" stroke="#000" stroke-width="0.22">&#8722;1</text>
<path d="M278.7 569.4V575.9" stroke="#222" stroke-width="1.1"/>
<g transform="translate(278.7 592.7) scale(0.83 1)"><text x="0.0" y="0.0" font-family="Liberation Sans" font-size="10.8" font-weight="normal" text-anchor="middle" fill="#000" stroke="#000" stroke-width="0.22">0</text></g>
<path d="M318.0 569.4V575.9" stroke="#222" stroke-width="1.1"/>
<g transform="translate(318.0 592.7) scale(0.83 1)"><text x="0.0" y="0.0" font-family="Liberation Sans" font-size="10.8" font-weight="normal" text-anchor="middle" fill="#000" stroke="#000" stroke-width="0.22">5</text></g>
<path d="M357.2 569.4V575.9" stroke="#222" stroke-width="1.1"/>
<g transform="translate(357.2 592.7) scale(0.83 1)"><text x="0.0" y="0.0" font-family="Liberation Sans" font-size="10.8" font-weight="normal" text-anchor="middle" fill="#000" stroke="#000" stroke-width="0.22">10</text></g>
<path d="M396.5 569.4V575.9" stroke="#222" stroke-width="1.1"/>
<g transform="translate(396.5 592.7) scale(0.83 1)"><text x="0.0" y="0.0" font-family="Liberation Sans" font-size="10.8" font-weight="normal" text-anchor="middle" fill="#000" stroke="#000" stroke-width="0.22">15</text></g>
<path d="M435.8 569.4V575.9" stroke="#222" stroke-width="1.1"/>
<g transform="translate(435.8 592.7) scale(0.83 1)"><text x="0.0" y="0.0" font-family="Liberation Sans" font-size="10.8" font-weight="normal" text-anchor="middle" fill="#000" stroke="#000" stroke-width="0.22">20</text></g>
<text x="360.4" y="611.8" font-family="Liberation Sans" font-size="12.6" font-weight="normal" text-anchor="middle" fill="#000" stroke="#000" stroke-width="0.22">Time</text>
<clipPath id="d273"><rect x="273.1" y="459.6" width="169.09999999999997" height="109.79999999999995"/></clipPath>
<g clip-path="url(#d273)">
<polyline points="279.1,511.9 280.4,502.9 282.3,492.0 283.8,496.6 285.1,486.8 286.9,481.9 288.4,477.5 290.1,502.6 291.2,513.8 292.9,523.9 294.7,541.3 295.7,553.7 297.7,539.8 299.6,565.4 300.9,532.0 302.7,519.3 304.2,504.8 305.5,504.6 307.4,475.9 309.2,475.1 310.7,475.1 312.4,499.9 313.9,494.8 315.6,506.7 317.2,520.4 318.4,548.0 320.3,523.4 322.1,531.3 323.4,539.2 325.2,527.8 326.5,525.8 328.4,516.6 329.9,506.7 331.4,490.1 332.7,496.9 334.5,463.6 336.0,496.9 337.7,495.3 339.2,494.7 341.0,512.7 342.5,526.7 343.8,538.3 345.7,517.1 347.0,541.6 348.8,539.8 350.3,537.0 351.8,519.3 353.1,509.2 354.4,500.8 356.3,488.7 357.8,490.5 359.6,480.0 361.6,496.1 363.1,496.9 364.4,510.0 365.7,517.4 367.2,537.0 368.5,519.0 370.4,528.6 372.2,544.4 373.7,550.0 375.2,536.0 377.1,521.2 378.9,508.1 380.2,495.2 382.1,518.4 383.6,472.9 384.9,465.5 386.4,495.3 388.2,503.5 389.9,512.7 391.4,521.2 392.9,530.5 394.7,538.0 396.4,510.4 398.0,543.6 399.6,529.7 401.2,527.8 402.6,508.4 404.0,499.9 405.4,494.8 407.3,508.6 408.8,500.4 410.5,481.1 411.9,494.7 413.8,500.7 415.1,523.1 416.6,527.8 418.1,523.1 419.9,517.9 421.2,532.4 423.1,538.1 424.9,530.2 426.3,519.7 427.7,505.9 429.2,498.8 431.1,497.5 432.4,490.5 434.2,484.9 436.1,502.6" fill="none" stroke="#0000ff" stroke-width="1.3" stroke-dasharray="1.3 1.6"/>
<polyline points="279.1,511.9 280.4,502.9 282.3,495.3 283.8,496.6 285.1,486.8 286.9,481.9 288.4,477.5 290.1,502.6 291.2,513.8 292.9,523.9 294.7,512.7 295.7,537.9 297.7,539.8 299.6,565.4 300.9,527.2 302.7,519.3 304.2,507.3 305.5,504.6 307.4,475.9 309.2,475.1 310.7,475.1 312.4,499.9 313.9,487.6 315.6,510.0 317.2,520.4 318.4,548.0 320.3,523.4 322.1,531.3 323.4,539.2 325.2,527.8 326.5,514.7 328.4,509.2 329.9,506.7 331.4,490.1 332.7,496.9 334.5,463.6 336.0,496.9 337.7,495.3 339.2,494.7 341.0,512.7 342.5,526.7 343.8,546.6 345.7,517.1 347.0,539.8 348.8,539.8 350.3,537.0 351.8,515.5 353.1,509.2 354.4,493.4 356.3,488.7 357.8,481.9 359.6,480.0 361.6,496.1 363.1,496.9 364.4,510.0 365.7,517.4 367.2,537.0 368.5,539.8 370.4,523.1 372.2,544.4 373.7,523.1 375.2,529.7 377.1,521.2 378.9,508.1 380.2,482.2 382.1,480.3 383.6,472.9 384.9,465.5 386.4,495.3 388.2,503.5 389.9,512.7 391.4,521.2 392.9,530.5 394.7,542.5 396.4,543.6 398.0,543.6 399.6,529.7 401.2,527.8 402.6,508.4 404.0,499.9 405.4,484.1 407.3,496.1 408.8,498.0 410.5,481.1 411.9,494.7 413.8,500.7 415.1,523.1 416.6,527.8 418.1,523.1 419.9,517.9 421.2,532.4 423.1,538.1 424.9,530.2 426.3,513.8 427.7,505.9 429.2,498.8 431.1,497.5 432.4,482.2 434.2,484.9 436.1,502.6" fill="none" stroke="#111" stroke-width="1.1"/>
<g fill="#000">
<circle cx="279.1" cy="511.9" r="2.75"/>
<circle cx="280.4" cy="502.9" r="2.75"/>
<circle cx="282.3" cy="495.3" r="2.75"/>
<circle cx="283.8" cy="496.6" r="2.75"/>
<circle cx="285.1" cy="486.8" r="2.75"/>
<circle cx="286.9" cy="481.9" r="2.75"/>
<circle cx="288.4" cy="477.5" r="2.75"/>
<circle cx="290.1" cy="502.6" r="2.75"/>
<circle cx="291.2" cy="513.8" r="2.75"/>
<circle cx="292.9" cy="523.9" r="2.75"/>
<circle cx="294.7" cy="512.7" r="2.75"/>
<circle cx="295.7" cy="537.9" r="2.75"/>
<circle cx="297.7" cy="539.8" r="2.75"/>
<circle cx="299.6" cy="565.4" r="2.75"/>
<circle cx="300.9" cy="527.2" r="2.75"/>
<circle cx="302.7" cy="519.3" r="2.75"/>
<circle cx="304.2" cy="507.3" r="2.75"/>
<circle cx="305.5" cy="504.6" r="2.75"/>
<circle cx="307.4" cy="475.9" r="2.75"/>
<circle cx="309.2" cy="475.1" r="2.75"/>
<circle cx="310.7" cy="475.1" r="2.75"/>
<circle cx="312.4" cy="499.9" r="2.75"/>
<circle cx="313.9" cy="487.6" r="2.75"/>
<circle cx="315.6" cy="510.0" r="2.75"/>
<circle cx="317.2" cy="520.4" r="2.75"/>
<circle cx="318.4" cy="548.0" r="2.75"/>
<circle cx="320.3" cy="523.4" r="2.75"/>
<circle cx="322.1" cy="531.3" r="2.75"/>
<circle cx="323.4" cy="539.2" r="2.75"/>
<circle cx="325.2" cy="527.8" r="2.75"/>
<circle cx="326.5" cy="514.7" r="2.75"/>
<circle cx="328.4" cy="509.2" r="2.75"/>
<circle cx="329.9" cy="506.7" r="2.75"/>
<circle cx="331.4" cy="490.1" r="2.75"/>
<circle cx="332.7" cy="496.9" r="2.75"/>
<circle cx="334.5" cy="463.6" r="2.75"/>
<circle cx="336.0" cy="496.9" r="2.75"/>
<circle cx="337.7" cy="495.3" r="2.75"/>
<circle cx="339.2" cy="494.7" r="2.75"/>
<circle cx="341.0" cy="512.7" r="2.75"/>
<circle cx="342.5" cy="526.7" r="2.75"/>
<circle cx="343.8" cy="546.6" r="2.75"/>
<circle cx="345.7" cy="517.1" r="2.75"/>
<circle cx="347.0" cy="539.8" r="2.75"/>
<circle cx="348.8" cy="539.8" r="2.75"/>
<circle cx="350.3" cy="537.0" r="2.75"/>
<circle cx="351.8" cy="515.5" r="2.75"/>
<circle cx="353.1" cy="509.2" r="2.75"/>
<circle cx="354.4" cy="493.4" r="2.75"/>
<circle cx="356.3" cy="488.7" r="2.75"/>
<circle cx="357.8" cy="481.9" r="2.75"/>
<circle cx="359.6" cy="480.0" r="2.75"/>
<circle cx="361.6" cy="496.1" r="2.75"/>
<circle cx="363.1" cy="496.9" r="2.75"/>
<circle cx="364.4" cy="510.0" r="2.75"/>
<circle cx="365.7" cy="517.4" r="2.75"/>
<circle cx="367.2" cy="537.0" r="2.75"/>
<circle cx="368.5" cy="539.8" r="2.75"/>
<circle cx="370.4" cy="523.1" r="2.75"/>
<circle cx="372.2" cy="544.4" r="2.75"/>
<circle cx="373.7" cy="523.1" r="2.75"/>
<circle cx="375.2" cy="529.7" r="2.75"/>
<circle cx="377.1" cy="521.2" r="2.75"/>
<circle cx="378.9" cy="508.1" r="2.75"/>
<circle cx="380.2" cy="482.2" r="2.75"/>
<circle cx="382.1" cy="480.3" r="2.75"/>
<circle cx="383.6" cy="472.9" r="2.75"/>
<circle cx="384.9" cy="465.5" r="2.75"/>
<circle cx="386.4" cy="495.3" r="2.75"/>
<circle cx="388.2" cy="503.5" r="2.75"/>
<circle cx="389.9" cy="512.7" r="2.75"/>
<circle cx="391.4" cy="521.2" r="2.75"/>
<circle cx="392.9" cy="530.5" r="2.75"/>
<circle cx="394.7" cy="542.5" r="2.75"/>
<circle cx="396.4" cy="543.6" r="2.75"/>
<circle cx="398.0" cy="543.6" r="2.75"/>
<circle cx="399.6" cy="529.7" r="2.75"/>
<circle cx="401.2" cy="527.8" r="2.75"/>
<circle cx="402.6" cy="508.4" r="2.75"/>
<circle cx="404.0" cy="499.9" r="2.75"/>
<circle cx="405.4" cy="484.1" r="2.75"/>
<circle cx="407.3" cy="496.1" r="2.75"/>
<circle cx="408.8" cy="498.0" r="2.75"/>
<circle cx="410.5" cy="481.1" r="2.75"/>
<circle cx="411.9" cy="494.7" r="2.75"/>
<circle cx="413.8" cy="500.7" r="2.75"/>
<circle cx="415.1" cy="523.1" r="2.75"/>
<circle cx="416.6" cy="527.8" r="2.75"/>
<circle cx="418.1" cy="523.1" r="2.75"/>
<circle cx="419.9" cy="517.9" r="2.75"/>
<circle cx="421.2" cy="532.4" r="2.75"/>
<circle cx="423.1" cy="538.1" r="2.75"/>
<circle cx="424.9" cy="530.2" r="2.75"/>
<circle cx="426.3" cy="513.8" r="2.75"/>
<circle cx="427.7" cy="505.9" r="2.75"/>
<circle cx="429.2" cy="498.8" r="2.75"/>
<circle cx="431.1" cy="497.5" r="2.75"/>
<circle cx="432.4" cy="482.2" r="2.75"/>
<circle cx="434.2" cy="484.9" r="2.75"/>
<circle cx="436.1" cy="502.6" r="2.75"/>
</g>
<g fill="#0000ff">
<circle cx="281.9" cy="492.0" r="2.4"/>
<circle cx="294.9" cy="541.3" r="2.4"/>
<circle cx="296.2" cy="553.7" r="2.4"/>
<circle cx="300.9" cy="532.0" r="2.4"/>
<circle cx="304.6" cy="504.8" r="2.4"/>
<circle cx="313.5" cy="494.8" r="2.4"/>
<circle cx="315.4" cy="506.7" r="2.4"/>
<circle cx="327.6" cy="516.6" r="2.4"/>
<circle cx="326.5" cy="525.8" r="2.4"/>
<circle cx="343.8" cy="538.3" r="2.4"/>
<circle cx="347.5" cy="541.6" r="2.4"/>
<circle cx="352.2" cy="519.3" r="2.4"/>
<circle cx="355.0" cy="500.8" r="2.4"/>
<circle cx="358.1" cy="490.5" r="2.4"/>
<circle cx="369.1" cy="519.0" r="2.4"/>
<circle cx="370.9" cy="528.6" r="2.4"/>
<circle cx="374.1" cy="550.0" r="2.4"/>
<circle cx="375.2" cy="536.0" r="2.4"/>
<circle cx="380.2" cy="495.2" r="2.4"/>
<circle cx="381.7" cy="518.4" r="2.4"/>
<circle cx="396.0" cy="510.4" r="2.4"/>
<circle cx="395.1" cy="538.0" r="2.4"/>
<circle cx="405.4" cy="494.8" r="2.4"/>
<circle cx="407.3" cy="508.6" r="2.4"/>
<circle cx="408.8" cy="500.4" r="2.4"/>
<circle cx="425.9" cy="513.8" r="2.4"/>
<circle cx="426.3" cy="519.7" r="2.4"/>
<circle cx="432.4" cy="490.5" r="2.4"/>
</g>
</g>
<path d="M473.1 460.4H638.4V569.5H473.1Z" fill="none" stroke="#222" stroke-width="1.3"/>
<path d="M468.1 465.5H473.1" stroke="#222" stroke-width="1.1"/>
<text x="458.5" y="466.5" font-family="Liberation Sans" font-size="9.8" font-weight="normal" text-anchor="middle" fill="#000" transform="rotate(-90 458.5 466.5)" dominant-baseline="central" stroke="#000" stroke-width="0.22">2</text>
<path d="M468.1 492.9H473.1" stroke="#222" stroke-width="1.1"/>
<text x="458.5" y="493.9" font-family="Liberation Sans" font-size="9.8" font-weight="normal" text-anchor="middle" fill="#000" transform="rotate(-90 458.5 493.9)" dominant-baseline="central" stroke="#000" stroke-width="0.22">1</text>
<path d="M468.1 520.3H473.1" stroke="#222" stroke-width="1.1"/>
<text x="458.5" y="521.3" font-family="Liberation Sans" font-size="9.8" font-weight="normal" text-anchor="middle" fill="#000" transform="rotate(-90 458.5 521.3)" dominant-baseline="central" stroke="#000" stroke-width="0.22">0</text>
<path d="M468.1 547.7H473.1" stroke="#222" stroke-width="1.1"/>
<text x="458.5" y="548.7" font-family="Liberation Sans" font-size="9.8" font-weight="normal" text-anchor="middle" fill="#000" transform="rotate(-90 458.5 548.7)" dominant-baseline="central" stroke="#000" stroke-width="0.22">&#8722;1</text>
<path d="M478.0 569.5V576.0" stroke="#222" stroke-width="1.1"/>
<g transform="translate(478.0 592.7) scale(0.83 1)"><text x="0.0" y="0.0" font-family="Liberation Sans" font-size="10.8" font-weight="normal" text-anchor="middle" fill="#000" stroke="#000" stroke-width="0.22">0</text></g>
<path d="M516.6 569.5V576.0" stroke="#222" stroke-width="1.1"/>
<g transform="translate(516.6 592.7) scale(0.83 1)"><text x="0.0" y="0.0" font-family="Liberation Sans" font-size="10.8" font-weight="normal" text-anchor="middle" fill="#000" stroke="#000" stroke-width="0.22">5</text></g>
<path d="M555.1 569.5V576.0" stroke="#222" stroke-width="1.1"/>
<g transform="translate(555.1 592.7) scale(0.83 1)"><text x="0.0" y="0.0" font-family="Liberation Sans" font-size="10.8" font-weight="normal" text-anchor="middle" fill="#000" stroke="#000" stroke-width="0.22">10</text></g>
<path d="M593.7 569.5V576.0" stroke="#222" stroke-width="1.1"/>
<g transform="translate(593.7 592.7) scale(0.83 1)"><text x="0.0" y="0.0" font-family="Liberation Sans" font-size="10.8" font-weight="normal" text-anchor="middle" fill="#000" stroke="#000" stroke-width="0.22">15</text></g>
<path d="M632.3 569.5V576.0" stroke="#222" stroke-width="1.1"/>
<g transform="translate(632.3 592.7) scale(0.83 1)"><text x="0.0" y="0.0" font-family="Liberation Sans" font-size="10.8" font-weight="normal" text-anchor="middle" fill="#000" stroke="#000" stroke-width="0.22">20</text></g>
<text x="552.5" y="610.8" font-family="Liberation Sans" font-size="12.6" font-weight="normal" text-anchor="middle" fill="#000" stroke="#000" stroke-width="0.22">Time</text>
<clipPath id="d473"><rect x="473.1" y="460.4" width="165.29999999999995" height="109.10000000000002"/></clipPath>
<g clip-path="url(#d473)">
<polyline points="492.2,524.6 494.2,532.5 495.5,525.6 496.9,533.4 498.5,546.2 500.5,527.9 502.0,512.8 503.4,505.0 504.8,485.4 505.9,471.7 507.9,471.7 509.7,466.8 511.0,458.0 512.8,489.3 514.2,503.0 515.5,518.7 517.1,531.5 519.1,522.6 520.1,533.4 521.6,537.4 523.6,519.7 525.0,520.7 526.3,514.8 528.3,500.1 529.9,487.4 531.4,475.6 532.4,470.7 532.9,464.8 534.2,458.0 535.7,486.4 537.3,495.2" fill="none" stroke="#ffa500" stroke-width="1.3" stroke-dasharray="1.3 1.6"/>
<polyline points="478.4,512.9 479.7,503.9 481.5,496.2 483.0,497.6 484.3,487.7 486.1,482.8 487.5,478.4 489.2,503.6 490.3,514.8 491.9,525.0 493.7,513.7 494.7,538.9 496.7,540.8 498.5,566.6 499.8,528.2 501.6,520.3 503.0,508.2 504.3,505.5 506.2,476.7 508.0,475.9 509.4,475.9 511.1,500.8 512.6,488.5 514.2,511.0 515.8,521.4 517.0,549.1 518.9,524.4 520.6,532.4 521.9,540.3 523.7,528.8 524.9,515.6 526.8,510.2 528.3,507.7 529.8,491.0 531.0,497.8 532.8,464.4 534.3,497.8 535.9,496.2 537.4,495.6 539.2,513.7 540.7,527.7 541.9,547.7 543.8,518.1 545.1,540.8 546.9,540.8 548.3,538.1 549.8,516.5 551.1,510.2 552.4,494.3 554.2,489.6 555.7,482.8 557.5,480.8 559.4,497.0 560.9,497.8 562.2,511.0 563.4,518.4 564.9,538.1 566.2,540.8 568.1,524.1 569.8,545.5 571.3,524.1 572.8,530.7 574.6,522.2 576.4,509.1 577.7,483.0 579.6,481.1 581.0,473.7 582.3,466.3 583.8,496.2 585.5,504.4 587.2,513.7 588.7,522.2 590.2,531.5 591.9,543.6 593.6,544.7 595.2,544.7 596.7,530.7 598.3,528.8 599.7,509.3 601.1,500.8 602.4,485.0 604.3,497.0 605.8,498.9 607.5,481.9 608.8,495.6 610.7,501.7 612.0,524.1 613.4,528.8 614.9,524.1 616.7,518.9 618.0,533.5 619.8,539.2 621.6,531.3 623.0,514.8 624.3,506.9 625.8,499.7 627.7,498.4 629.0,483.0 630.7,485.8 632.6,503.6" fill="none" stroke="#111" stroke-width="1.1"/>
<g fill="#000">
<circle cx="478.4" cy="512.9" r="2.75"/>
<circle cx="479.7" cy="503.9" r="2.75"/>
<circle cx="481.5" cy="496.2" r="2.75"/>
<circle cx="483.0" cy="497.6" r="2.75"/>
<circle cx="484.3" cy="487.7" r="2.75"/>
<circle cx="486.1" cy="482.8" r="2.75"/>
<circle cx="487.5" cy="478.4" r="2.75"/>
<circle cx="489.2" cy="503.6" r="2.75"/>
<circle cx="490.3" cy="514.8" r="2.75"/>
<circle cx="491.9" cy="525.0" r="2.75"/>
<circle cx="493.7" cy="513.7" r="2.75"/>
<circle cx="494.7" cy="538.9" r="2.75"/>
<circle cx="496.7" cy="540.8" r="2.75"/>
<circle cx="498.5" cy="566.6" r="2.75"/>
<circle cx="499.8" cy="528.2" r="2.75"/>
<circle cx="501.6" cy="520.3" r="2.75"/>
<circle cx="503.0" cy="508.2" r="2.75"/>
<circle cx="504.3" cy="505.5" r="2.75"/>
<circle cx="506.2" cy="476.7" r="2.75"/>
<circle cx="508.0" cy="475.9" r="2.75"/>
<circle cx="509.4" cy="475.9" r="2.75"/>
<circle cx="511.1" cy="500.8" r="2.75"/>
<circle cx="512.6" cy="488.5" r="2.75"/>
<circle cx="514.2" cy="511.0" r="2.75"/>
<circle cx="515.8" cy="521.4" r="2.75"/>
<circle cx="517.0" cy="549.1" r="2.75"/>
<circle cx="518.9" cy="524.4" r="2.75"/>
<circle cx="520.6" cy="532.4" r="2.75"/>
<circle cx="521.9" cy="540.3" r="2.75"/>
<circle cx="523.7" cy="528.8" r="2.75"/>
<circle cx="524.9" cy="515.6" r="2.75"/>
<circle cx="526.8" cy="510.2" r="2.75"/>
<circle cx="528.3" cy="507.7" r="2.75"/>
<circle cx="529.8" cy="491.0" r="2.75"/>
<circle cx="531.0" cy="497.8" r="2.75"/>
<circle cx="532.8" cy="464.4" r="2.75"/>
<circle cx="534.3" cy="497.8" r="2.75"/>
<circle cx="535.9" cy="496.2" r="2.75"/>
<circle cx="537.4" cy="495.6" r="2.75"/>
<circle cx="539.2" cy="513.7" r="2.75"/>
<circle cx="540.7" cy="527.7" r="2.75"/>
<circle cx="541.9" cy="547.7" r="2.75"/>
<circle cx="543.8" cy="518.1" r="2.75"/>
<circle cx="545.1" cy="540.8" r="2.75"/>
<circle cx="546.9" cy="540.8" r="2.75"/>
<circle cx="548.3" cy="538.1" r="2.75"/>
<circle cx="549.8" cy="516.5" r="2.75"/>
<circle cx="551.1" cy="510.2" r="2.75"/>
<circle cx="552.4" cy="494.3" r="2.75"/>
<circle cx="554.2" cy="489.6" r="2.75"/>
<circle cx="555.7" cy="482.8" r="2.75"/>
<circle cx="557.5" cy="480.8" r="2.75"/>
<circle cx="559.4" cy="497.0" r="2.75"/>
<circle cx="560.9" cy="497.8" r="2.75"/>
<circle cx="562.2" cy="511.0" r="2.75"/>
<circle cx="563.4" cy="518.4" r="2.75"/>
<circle cx="564.9" cy="538.1" r="2.75"/>
<circle cx="566.2" cy="540.8" r="2.75"/>
<circle cx="568.1" cy="524.1" r="2.75"/>
<circle cx="569.8" cy="545.5" r="2.75"/>
<circle cx="571.3" cy="524.1" r="2.75"/>
<circle cx="572.8" cy="530.7" r="2.75"/>
<circle cx="574.6" cy="522.2" r="2.75"/>
<circle cx="576.4" cy="509.1" r="2.75"/>
<circle cx="577.7" cy="483.0" r="2.75"/>
<circle cx="579.6" cy="481.1" r="2.75"/>
<circle cx="581.0" cy="473.7" r="2.75"/>
<circle cx="582.3" cy="466.3" r="2.75"/>
<circle cx="583.8" cy="496.2" r="2.75"/>
<circle cx="585.5" cy="504.4" r="2.75"/>
<circle cx="587.2" cy="513.7" r="2.75"/>
<circle cx="588.7" cy="522.2" r="2.75"/>
<circle cx="590.2" cy="531.5" r="2.75"/>
<circle cx="591.9" cy="543.6" r="2.75"/>
<circle cx="593.6" cy="544.7" r="2.75"/>
<circle cx="595.2" cy="544.7" r="2.75"/>
<circle cx="596.7" cy="530.7" r="2.75"/>
<circle cx="598.3" cy="528.8" r="2.75"/>
<circle cx="599.7" cy="509.3" r="2.75"/>
<circle cx="601.1" cy="500.8" r="2.75"/>
<circle cx="602.4" cy="485.0" r="2.75"/>
<circle cx="604.3" cy="497.0" r="2.75"/>
<circle cx="605.8" cy="498.9" r="2.75"/>
<circle cx="607.5" cy="481.9" r="2.75"/>
<circle cx="608.8" cy="495.6" r="2.75"/>
<circle cx="610.7" cy="501.7" r="2.75"/>
<circle cx="612.0" cy="524.1" r="2.75"/>
<circle cx="613.4" cy="528.8" r="2.75"/>
<circle cx="614.9" cy="524.1" r="2.75"/>
<circle cx="616.7" cy="518.9" r="2.75"/>
<circle cx="618.0" cy="533.5" r="2.75"/>
<circle cx="619.8" cy="539.2" r="2.75"/>
<circle cx="621.6" cy="531.3" r="2.75"/>
<circle cx="623.0" cy="514.8" r="2.75"/>
<circle cx="624.3" cy="506.9" r="2.75"/>
<circle cx="625.8" cy="499.7" r="2.75"/>
<circle cx="627.7" cy="498.4" r="2.75"/>
<circle cx="629.0" cy="483.0" r="2.75"/>
<circle cx="630.7" cy="485.8" r="2.75"/>
<circle cx="632.6" cy="503.6" r="2.75"/>
</g>
<g fill="#ffa500">
<circle cx="490.3" cy="514.8" r="1.5"/>
<circle cx="491.9" cy="525.0" r="1.5"/>
<circle cx="493.7" cy="513.7" r="1.5"/>
<circle cx="494.7" cy="538.9" r="1.5"/>
<circle cx="496.7" cy="540.8" r="1.5"/>
<circle cx="498.5" cy="566.6" r="1.5"/>
<circle cx="499.8" cy="528.2" r="1.5"/>
<circle cx="501.6" cy="520.3" r="1.5"/>
<circle cx="503.0" cy="508.2" r="1.5"/>
<circle cx="504.3" cy="505.5" r="1.5"/>
<circle cx="506.2" cy="476.7" r="1.5"/>
<circle cx="508.0" cy="475.9" r="1.5"/>
<circle cx="509.4" cy="475.9" r="1.5"/>
<circle cx="511.1" cy="500.8" r="1.5"/>
<circle cx="512.6" cy="488.5" r="1.5"/>
<circle cx="514.2" cy="511.0" r="1.5"/>
<circle cx="515.8" cy="521.4" r="1.5"/>
<circle cx="517.0" cy="549.1" r="1.5"/>
<circle cx="518.9" cy="524.4" r="1.5"/>
<circle cx="520.6" cy="532.4" r="1.5"/>
<circle cx="521.9" cy="540.3" r="1.5"/>
<circle cx="523.7" cy="528.8" r="1.5"/>
<circle cx="524.9" cy="515.6" r="1.5"/>
<circle cx="526.8" cy="510.2" r="1.5"/>
<circle cx="528.3" cy="507.7" r="1.5"/>
<circle cx="529.8" cy="491.0" r="1.5"/>
<circle cx="531.0" cy="497.8" r="1.5"/>
<circle cx="532.8" cy="464.4" r="1.5"/>
<circle cx="534.3" cy="497.8" r="1.5"/>
<circle cx="535.9" cy="496.2" r="1.5"/>
<circle cx="537.4" cy="495.6" r="1.5"/>
<circle cx="492.2" cy="524.6" r="2.4"/>
<circle cx="494.2" cy="532.5" r="2.4"/>
<circle cx="495.5" cy="525.6" r="2.4"/>
<circle cx="496.9" cy="533.4" r="2.4"/>
<circle cx="498.5" cy="546.2" r="2.4"/>
<circle cx="500.5" cy="527.9" r="2.4"/>
<circle cx="502.0" cy="512.8" r="2.4"/>
<circle cx="503.4" cy="505.0" r="2.4"/>
<circle cx="504.8" cy="485.4" r="2.4"/>
<circle cx="505.9" cy="471.7" r="2.4"/>
<circle cx="507.9" cy="471.7" r="2.4"/>
<circle cx="509.7" cy="466.8" r="2.4"/>
<circle cx="512.8" cy="489.3" r="2.4"/>
<circle cx="514.2" cy="503.0" r="2.4"/>
<circle cx="515.5" cy="518.7" r="2.4"/>
<circle cx="517.1" cy="531.5" r="2.4"/>
<circle cx="519.1" cy="522.6" r="2.4"/>
<circle cx="520.1" cy="533.4" r="2.4"/>
<circle cx="521.6" cy="537.4" r="2.4"/>
<circle cx="523.6" cy="519.7" r="2.4"/>
<circle cx="525.0" cy="520.7" r="2.4"/>
<circle cx="526.3" cy="514.8" r="2.4"/>
<circle cx="528.3" cy="500.1" r="2.4"/>
<circle cx="529.9" cy="487.4" r="2.4"/>
<circle cx="531.4" cy="475.6" r="2.4"/>
<circle cx="532.4" cy="470.7" r="2.4"/>
<circle cx="532.9" cy="464.8" r="2.4"/>
<circle cx="535.7" cy="486.4" r="2.4"/>
<circle cx="537.3" cy="495.2" r="2.4"/>
</g>
</g>
<text x="46.5" y="510.7" font-family="Liberation Sans" font-size="13.2" font-weight="normal" text-anchor="middle" fill="#000" transform="rotate(-90 46.5 510.7)" stroke="#000" stroke-width="0.22">Value</text>
</svg></body></html>
